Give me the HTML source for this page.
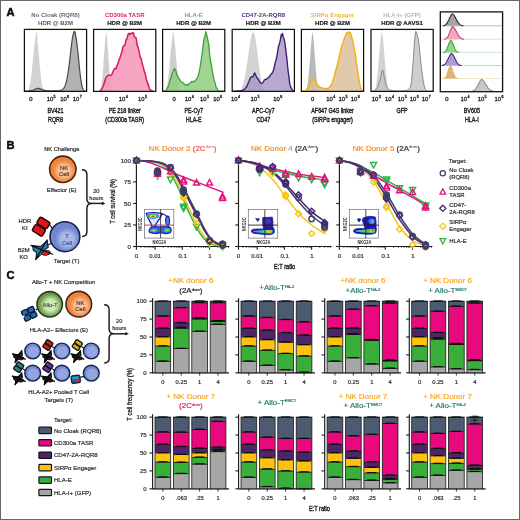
<!DOCTYPE html>
<html><head><meta charset="utf-8"><title>Figure</title>
<style>
html,body{margin:0;padding:0;background:#fff;}
body{width:520px;height:520px;overflow:hidden;}
svg{display:block;font-family:'Liberation Sans', Arial, Helvetica, sans-serif;}
</style></head><body>
<svg width="520" height="520" viewBox="0 0 520 520">
<rect x="0" y="0" width="520" height="520" fill="#fff"/>
<text x="55.50" y="16.80" font-size="6.0" fill="#5b6b80" text-anchor="middle" font-weight="bold">No Cloak (RQR8)</text>
<text x="55.50" y="24.50" font-size="6.0" fill="#555" text-anchor="middle" font-weight="bold">HDR @ B2M</text>
<clipPath id="cb0"><rect x="24.4" y="29.4" width="62.2" height="62.00000000000001"/></clipPath>
<g clip-path="url(#cb0)">
<path d="M27.4,91.1 L27.4,91.1 L27.8,91.0 L28.3,90.4 L28.7,88.9 L29.1,87.6 L29.6,86.1 L30.0,84.3 L30.4,82.1 L30.8,79.5 L31.3,75.6 L31.8,70.9 L32.3,66.0 L32.8,61.3 L33.3,56.7 L33.7,52.0 L34.2,47.6 L34.6,43.8 L35.2,38.4 L35.8,34.7 L36.1,32.5 L36.4,31.7 L36.7,32.5 L37.0,34.7 L37.4,38.4 L37.9,43.8 L38.4,49.0 L38.9,55.2 L39.4,61.3 L39.9,66.0 L40.3,70.9 L40.7,75.6 L41.1,79.5 L41.5,82.7 L42.0,85.2 L42.4,87.3 L42.8,88.9 L43.4,90.7 L44.0,91.1 L44.0,91.1 Z" fill="#d2d2d2" fill-opacity="1.0" stroke="none"/>
<path d="M24.7,91.1 L24.7,91.1 L25.1,91.1 L25.6,91.1 L26.0,91.1 L26.4,91.1 L26.8,91.1 L27.2,91.0 L27.7,91.0 L28.1,91.0 L28.5,90.9 L28.9,90.9 L29.3,90.8 L29.7,90.8 L30.1,90.7 L30.6,90.7 L31.0,90.6 L31.4,90.6 L31.8,90.5 L32.2,90.4 L32.6,90.3 L33.0,90.3 L33.5,90.2 L33.9,90.0 L34.3,89.8 L34.7,89.6 L35.1,89.3 L35.5,89.1 L35.9,88.9 L36.3,88.7 L36.7,88.5 L37.1,88.3 L37.5,88.3 L37.9,88.3 L38.3,88.3 L38.7,88.4 L39.1,88.5 L39.5,88.6 L39.9,88.7 L40.3,88.9 L40.7,89.1 L41.1,89.2 L41.5,89.3 L42.0,89.5 L42.4,89.6 L42.8,89.7 L43.2,89.8 L43.6,90.0 L44.0,90.1 L44.4,90.2 L44.9,90.3 L45.3,90.5 L45.7,90.6 L46.1,90.7 L46.5,90.8 L46.9,90.8 L47.3,90.9 L47.7,90.9 L48.1,90.9 L48.5,90.9 L48.9,90.9 L49.3,90.9 L49.8,90.9 L50.2,90.9 L50.6,90.9 L51.0,90.9 L51.4,90.9 L51.8,90.9 L52.2,90.9 L52.6,90.9 L53.0,90.9 L53.4,90.9 L53.8,90.9 L54.2,90.8 L54.6,90.8 L55.0,90.8 L55.4,90.8 L55.8,90.8 L56.2,90.8 L56.7,90.8 L57.1,90.8 L57.5,90.8 L57.9,90.8 L58.3,90.8 L58.7,90.8 L59.1,90.8 L59.6,90.7 L60.0,90.6 L60.4,90.6 L60.8,90.4 L61.2,90.2 L61.6,90.0 L62.1,89.8 L62.5,89.5 L62.9,89.2 L63.3,88.8 L63.8,88.3 L64.2,87.5 L64.6,86.7 L65.1,85.8 L65.5,84.6 L66.0,83.3 L66.4,81.5 L66.9,79.5 L67.3,77.1 L67.8,74.5 L68.2,71.6 L68.7,68.6 L69.1,65.4 L69.6,61.8 L70.0,57.8 L70.5,53.5 L70.9,49.4 L71.4,45.6 L71.8,42.5 L72.3,39.0 L72.7,36.5 L73.1,34.6 L73.6,33.1 L74.0,31.5 L74.5,31.5 L75.1,32.1 L75.6,35.1 L76.1,37.6 L76.5,40.7 L77.0,44.3 L77.4,48.1 L77.9,51.9 L78.3,55.9 L78.7,60.1 L79.1,64.4 L79.5,68.5 L79.9,72.1 L80.3,75.4 L80.7,78.4 L81.1,81.1 L81.5,83.5 L81.9,85.6 L82.3,87.2 L82.7,88.4 L83.1,89.3 L83.5,90.0 L83.9,90.6 L84.4,91.0 L84.9,91.1 L85.3,91.1 L85.8,91.1 L86.2,91.1 L86.2,91.1 Z" fill="#9f9f9f" fill-opacity="0.8" stroke="none"/>
<path d="M24.7,91.1 L25.1,91.1 L25.6,91.1 L26.0,91.1 L26.4,91.1 L26.8,91.1 L27.2,91.0 L27.7,91.0 L28.1,91.0 L28.5,90.9 L28.9,90.9 L29.3,90.8 L29.7,90.8 L30.1,90.7 L30.6,90.7 L31.0,90.6 L31.4,90.6 L31.8,90.5 L32.2,90.4 L32.6,90.3 L33.0,90.3 L33.5,90.2 L33.9,90.0 L34.3,89.8 L34.7,89.6 L35.1,89.3 L35.5,89.1 L35.9,88.9 L36.3,88.7 L36.7,88.5 L37.1,88.3 L37.5,88.3 L37.9,88.3 L38.3,88.3 L38.7,88.4 L39.1,88.5 L39.5,88.6 L39.9,88.7 L40.3,88.9 L40.7,89.1 L41.1,89.2 L41.5,89.3 L42.0,89.5 L42.4,89.6 L42.8,89.7 L43.2,89.8 L43.6,90.0 L44.0,90.1 L44.4,90.2 L44.9,90.3 L45.3,90.5 L45.7,90.6 L46.1,90.7 L46.5,90.8 L46.9,90.8 L47.3,90.9 L47.7,90.9 L48.1,90.9 L48.5,90.9 L48.9,90.9 L49.3,90.9 L49.8,90.9 L50.2,90.9 L50.6,90.9 L51.0,90.9 L51.4,90.9 L51.8,90.9 L52.2,90.9 L52.6,90.9 L53.0,90.9 L53.4,90.9 L53.8,90.9 L54.2,90.8 L54.6,90.8 L55.0,90.8 L55.4,90.8 L55.8,90.8 L56.2,90.8 L56.7,90.8 L57.1,90.8 L57.5,90.8 L57.9,90.8 L58.3,90.8 L58.7,90.8 L59.1,90.8 L59.6,90.7 L60.0,90.6 L60.4,90.6 L60.8,90.4 L61.2,90.2 L61.6,90.0 L62.1,89.8 L62.5,89.5 L62.9,89.2 L63.3,88.8 L63.8,88.3 L64.2,87.5 L64.6,86.7 L65.1,85.8 L65.5,84.6 L66.0,83.3 L66.4,81.5 L66.9,79.5 L67.3,77.1 L67.8,74.5 L68.2,71.6 L68.7,68.6 L69.1,65.4 L69.6,61.8 L70.0,57.8 L70.5,53.5 L70.9,49.4 L71.4,45.6 L71.8,42.5 L72.3,39.0 L72.7,36.5 L73.1,34.6 L73.6,33.1 L74.0,31.5 L74.5,31.5 L75.1,32.1 L75.6,35.1 L76.1,37.6 L76.5,40.7 L77.0,44.3 L77.4,48.1 L77.9,51.9 L78.3,55.9 L78.7,60.1 L79.1,64.4 L79.5,68.5 L79.9,72.1 L80.3,75.4 L80.7,78.4 L81.1,81.1 L81.5,83.5 L81.9,85.6 L82.3,87.2 L82.7,88.4 L83.1,89.3 L83.5,90.0 L83.9,90.6 L84.4,91.0 L84.9,91.1 L85.3,91.1 L85.8,91.1 L86.2,91.1" fill="none" stroke="#4a4a4a" stroke-width="1.2" stroke-linejoin="round"/>
</g>
<rect x="24.4" y="29.4" width="62.2" height="62.00000000000001" fill="none" stroke="#111" stroke-width="1.25"/>
<text x="31.00" y="100.60" font-size="5.9" fill="#222" text-anchor="middle" stroke="#222" stroke-width="0.3">0</text>
<text x="51.20" y="100.60" font-size="5.9" fill="#222" text-anchor="middle" stroke="#222" stroke-width="0.3">10<tspan dy="-2.71" dx="0.3" font-size="3.66">5</tspan></text>
<text x="64.60" y="100.60" font-size="5.9" fill="#222" text-anchor="middle" stroke="#222" stroke-width="0.3">10<tspan dy="-2.71" dx="0.3" font-size="3.66">6</tspan></text>
<text x="77.30" y="100.60" font-size="5.9" fill="#222" text-anchor="middle" stroke="#222" stroke-width="0.3">10<tspan dy="-2.71" dx="0.3" font-size="3.66">7</tspan></text>
<text x="0.00" y="0.00" font-size="7.1" fill="#2a2a2a" text-anchor="middle" transform="translate(55.50,112.60) scale(0.76,1)" stroke="#1c1c1c" stroke-width="0.4">BV421</text>
<text x="0.00" y="0.00" font-size="7.1" fill="#2a2a2a" text-anchor="middle" transform="translate(55.50,122.00) scale(0.76,1)" stroke="#1c1c1c" stroke-width="0.4">RQR8</text>
<text x="124.70" y="16.80" font-size="6.0" fill="#de1a72" text-anchor="middle" font-weight="bold">CD300a TASR</text>
<text x="124.70" y="24.50" font-size="6.0" fill="#1a1a1a" text-anchor="middle" font-weight="bold" stroke="#1a1a1a" stroke-width="0.2">HDR @ B2M</text>
<clipPath id="cb1"><rect x="93.6" y="29.4" width="62.2" height="62.00000000000001"/></clipPath>
<g clip-path="url(#cb1)">
<path d="M99.8,91.1 L99.8,91.1 L100.3,90.7 L100.8,88.9 L101.3,86.6 L101.7,83.6 L102.2,79.5 L102.7,74.1 L103.2,67.7 L103.6,61.3 L104.0,55.2 L104.5,49.0 L104.9,43.8 L105.3,38.3 L105.7,34.7 L105.9,32.8 L106.2,32.4 L106.4,32.8 L106.6,34.7 L107.0,38.3 L107.4,43.8 L107.8,49.0 L108.3,55.2 L108.7,61.3 L109.2,67.7 L109.6,74.1 L110.1,79.5 L110.6,83.6 L111.1,86.6 L111.5,88.9 L112.0,90.7 L112.5,91.1 L112.5,91.1 Z" fill="#cfcfcf" fill-opacity="1.0" stroke="none"/>
<path d="M99.2,91.1 L99.2,91.1 L100.0,91.1 L100.8,90.4 L101.7,88.8 L102.6,87.6 L103.5,85.2 L104.4,82.6 L105.3,79.5 L106.2,77.2 L107.2,76.3 L108.2,75.3 L109.2,75.1 L110.2,75.4 L111.2,75.3 L112.2,73.7 L113.2,71.0 L114.2,69.0 L115.1,68.3 L116.0,69.0 L116.9,65.7 L117.9,63.8 L118.9,60.3 L120.0,57.5 L121.0,54.5 L122.0,51.4 L123.0,46.8 L124.0,45.6 L125.0,45.0 L126.0,39.7 L127.1,38.5 L128.1,34.1 L129.1,33.3 L130.1,34.5 L131.1,33.2 L132.2,33.3 L133.3,32.8 L134.3,36.6 L135.2,37.3 L136.2,38.1 L137.1,45.0 L138.1,47.4 L139.1,51.6 L140.1,56.9 L141.2,58.6 L142.2,63.6 L143.2,66.9 L144.2,71.0 L145.2,73.6 L146.2,78.5 L147.2,82.4 L148.2,84.0 L149.2,88.4 L150.4,89.9 L151.7,90.7 L152.5,91.1 L153.3,91.1 L153.3,91.1 Z" fill="#f595b8" fill-opacity="0.85" stroke="none"/>
<path d="M99.2,91.1 L100.0,91.1 L100.8,90.4 L101.7,88.8 L102.6,87.6 L103.5,85.2 L104.4,82.6 L105.3,79.5 L106.2,77.2 L107.2,76.3 L108.2,75.3 L109.2,75.1 L110.2,75.4 L111.2,75.3 L112.2,73.7 L113.2,71.0 L114.2,69.0 L115.1,68.3 L116.0,69.0 L116.9,65.7 L117.9,63.8 L118.9,60.3 L120.0,57.5 L121.0,54.5 L122.0,51.4 L123.0,46.8 L124.0,45.6 L125.0,45.0 L126.0,39.7 L127.1,38.5 L128.1,34.1 L129.1,33.3 L130.1,34.5 L131.1,33.2 L132.2,33.3 L133.3,32.8 L134.3,36.6 L135.2,37.3 L136.2,38.1 L137.1,45.0 L138.1,47.4 L139.1,51.6 L140.1,56.9 L141.2,58.6 L142.2,63.6 L143.2,66.9 L144.2,71.0 L145.2,73.6 L146.2,78.5 L147.2,82.4 L148.2,84.0 L149.2,88.4 L150.4,89.9 L151.7,90.7 L152.5,91.1 L153.3,91.1" fill="none" stroke="#d81862" stroke-width="1.5" stroke-linejoin="round"/>
</g>
<rect x="93.6" y="29.4" width="62.2" height="62.00000000000001" fill="none" stroke="#111" stroke-width="1.25"/>
<text x="106.30" y="100.60" font-size="5.9" fill="#222" text-anchor="middle" stroke="#222" stroke-width="0.3">0</text>
<text x="123.30" y="100.60" font-size="5.9" fill="#222" text-anchor="middle" stroke="#222" stroke-width="0.3">10<tspan dy="-2.71" dx="0.3" font-size="3.66">4</tspan></text>
<text x="142.50" y="100.60" font-size="5.9" fill="#222" text-anchor="middle" stroke="#222" stroke-width="0.3">10<tspan dy="-2.71" dx="0.3" font-size="3.66">5</tspan></text>
<text x="0.00" y="0.00" font-size="7.1" fill="#2a2a2a" text-anchor="middle" transform="translate(124.70,112.60) scale(0.76,1)" stroke="#1c1c1c" stroke-width="0.4">PE 218 linker</text>
<text x="0.00" y="0.00" font-size="7.1" fill="#2a2a2a" text-anchor="middle" transform="translate(124.70,122.00) scale(0.76,1)" stroke="#1c1c1c" stroke-width="0.4">(CD300a TASR)</text>
<text x="193.70" y="16.80" font-size="6.0" fill="#5cb85c" text-anchor="middle" font-weight="bold">HLA-E</text>
<text x="193.70" y="24.50" font-size="6.0" fill="#1a1a1a" text-anchor="middle" font-weight="bold" stroke="#1a1a1a" stroke-width="0.2">HDR @ B2M</text>
<clipPath id="cb2"><rect x="162.6" y="29.4" width="62.2" height="62.00000000000001"/></clipPath>
<g clip-path="url(#cb2)">
<path d="M165.1,91.1 L165.1,91.1 L165.5,91.0 L165.9,90.4 L166.3,88.9 L166.7,87.3 L167.2,85.2 L167.7,82.7 L168.1,79.5 L168.6,75.6 L169.0,70.9 L169.5,66.0 L169.9,61.3 L170.3,56.7 L170.7,52.0 L171.2,47.6 L171.6,43.8 L172.1,38.3 L172.6,34.7 L172.9,32.8 L173.2,32.4 L173.5,32.8 L173.8,34.7 L174.3,38.3 L174.8,43.8 L175.2,47.6 L175.6,52.0 L176.0,56.7 L176.4,61.3 L176.9,66.0 L177.3,70.9 L177.8,75.6 L178.2,79.5 L178.7,82.7 L179.2,85.2 L179.6,87.3 L180.1,88.9 L180.5,90.4 L180.9,91.0 L181.3,91.1 L181.3,91.1 Z" fill="#cfcfcf" fill-opacity="1.0" stroke="none"/>
<path d="M163.0,91.1 L163.0,91.1 L164.2,91.1 L165.4,91.0 L166.3,90.1 L167.2,88.2 L168.1,86.9 L169.2,83.6 L170.3,79.9 L171.4,76.1 L172.5,72.8 L173.5,70.8 L174.1,68.6 L174.8,68.8 L175.8,70.8 L176.8,74.6 L177.7,76.4 L178.6,78.5 L179.5,79.1 L180.6,81.5 L181.8,82.2 L182.9,82.6 L183.9,83.4 L184.9,84.9 L185.9,85.1 L186.9,84.5 L187.9,85.3 L188.9,83.5 L190.0,83.0 L191.0,82.4 L192.0,81.1 L193.0,81.9 L194.0,82.0 L195.0,80.7 L196.1,79.8 L197.2,78.1 L198.4,75.2 L199.4,70.9 L200.4,65.4 L201.3,59.1 L202.2,53.2 L203.1,46.1 L204.1,38.4 L205.1,35.9 L205.8,31.6 L206.4,34.2 L207.1,36.3 L207.8,39.8 L208.8,45.3 L209.8,55.8 L210.7,61.6 L211.6,66.3 L212.5,71.4 L213.4,77.1 L214.3,80.8 L215.2,83.4 L216.1,87.1 L217.0,88.5 L217.9,90.3 L218.9,91.1 L219.9,91.1 L220.8,91.1 L221.7,91.1 L222.6,91.1 L223.5,91.1 L224.4,91.1 L225.3,91.1 L225.3,91.1 Z" fill="#8fcc80" fill-opacity="0.85" stroke="none"/>
<path d="M163.0,91.1 L164.2,91.1 L165.4,91.0 L166.3,90.1 L167.2,88.2 L168.1,86.9 L169.2,83.6 L170.3,79.9 L171.4,76.1 L172.5,72.8 L173.5,70.8 L174.1,68.6 L174.8,68.8 L175.8,70.8 L176.8,74.6 L177.7,76.4 L178.6,78.5 L179.5,79.1 L180.6,81.5 L181.8,82.2 L182.9,82.6 L183.9,83.4 L184.9,84.9 L185.9,85.1 L186.9,84.5 L187.9,85.3 L188.9,83.5 L190.0,83.0 L191.0,82.4 L192.0,81.1 L193.0,81.9 L194.0,82.0 L195.0,80.7 L196.1,79.8 L197.2,78.1 L198.4,75.2 L199.4,70.9 L200.4,65.4 L201.3,59.1 L202.2,53.2 L203.1,46.1 L204.1,38.4 L205.1,35.9 L205.8,31.6 L206.4,34.2 L207.1,36.3 L207.8,39.8 L208.8,45.3 L209.8,55.8 L210.7,61.6 L211.6,66.3 L212.5,71.4 L213.4,77.1 L214.3,80.8 L215.2,83.4 L216.1,87.1 L217.0,88.5 L217.9,90.3 L218.9,91.1 L219.9,91.1 L220.8,91.1 L221.7,91.1 L222.6,91.1 L223.5,91.1 L224.4,91.1 L225.3,91.1" fill="none" stroke="#3f9e3a" stroke-width="1.3" stroke-linejoin="round"/>
</g>
<rect x="162.6" y="29.4" width="62.2" height="62.00000000000001" fill="none" stroke="#111" stroke-width="1.25"/>
<text x="174.20" y="100.60" font-size="5.9" fill="#222" text-anchor="middle" stroke="#222" stroke-width="0.3">0</text>
<text x="189.30" y="100.60" font-size="5.9" fill="#222" text-anchor="middle" stroke="#222" stroke-width="0.3">10<tspan dy="-2.71" dx="0.3" font-size="3.66">4</tspan></text>
<text x="204.50" y="100.60" font-size="5.9" fill="#222" text-anchor="middle" stroke="#222" stroke-width="0.3">10<tspan dy="-2.71" dx="0.3" font-size="3.66">5</tspan></text>
<text x="217.70" y="100.60" font-size="5.9" fill="#222" text-anchor="middle" stroke="#222" stroke-width="0.3">10<tspan dy="-2.71" dx="0.3" font-size="3.66">6</tspan></text>
<text x="0.00" y="0.00" font-size="7.1" fill="#2a2a2a" text-anchor="middle" transform="translate(193.70,112.60) scale(0.76,1)" stroke="#1c1c1c" stroke-width="0.4">PE-Cy7</text>
<text x="0.00" y="0.00" font-size="7.1" fill="#2a2a2a" text-anchor="middle" transform="translate(193.70,122.00) scale(0.76,1)" stroke="#1c1c1c" stroke-width="0.4">HLA-E</text>
<text x="263.30" y="16.80" font-size="6.0" fill="#5a2d91" text-anchor="middle" font-weight="bold">CD47-2A-RQR8</text>
<text x="263.30" y="24.50" font-size="6.0" fill="#1a1a1a" text-anchor="middle" font-weight="bold" stroke="#1a1a1a" stroke-width="0.2">HDR @ B2M</text>
<clipPath id="cb3"><rect x="232.2" y="29.4" width="62.2" height="62.00000000000001"/></clipPath>
<g clip-path="url(#cb3)">
<path d="M239.7,91.1 L239.7,91.1 L240.1,91.1 L240.6,90.9 L241.0,90.5 L241.4,89.9 L241.8,88.9 L242.2,88.0 L242.7,87.0 L243.1,85.9 L243.6,84.5 L244.0,83.1 L244.4,81.4 L244.9,79.5 L245.3,77.4 L245.7,74.9 L246.2,72.3 L246.6,69.5 L247.0,66.7 L247.5,64.0 L247.9,61.3 L248.3,58.3 L248.8,55.2 L249.2,52.0 L249.7,49.0 L250.1,46.3 L250.6,43.8 L251.0,40.8 L251.5,38.3 L251.9,36.3 L252.4,34.7 L252.8,33.1 L253.3,32.8 L253.7,33.1 L254.1,34.7 L254.6,36.9 L255.1,39.9 L255.6,43.8 L256.1,46.8 L256.5,50.2 L257.0,53.9 L257.4,57.7 L257.9,61.3 L258.3,64.4 L258.7,67.7 L259.2,70.9 L259.6,74.1 L260.0,77.0 L260.4,79.5 L260.9,81.7 L261.3,83.6 L261.7,85.2 L262.2,86.6 L262.6,87.9 L263.0,88.9 L263.5,90.1 L263.9,90.7 L264.3,91.1 L264.8,91.1 L264.8,91.1 Z" fill="#d4d4d4" fill-opacity="1.0" stroke="none"/>
<path d="M239.7,91.1 L240.1,91.1 L240.6,90.9 L241.0,90.5 L241.4,89.9 L241.8,88.9 L242.2,88.0 L242.7,87.0 L243.1,85.9 L243.6,84.5 L244.0,83.1 L244.4,81.4 L244.9,79.5 L245.3,77.4 L245.7,74.9 L246.2,72.3 L246.6,69.5 L247.0,66.7 L247.5,64.0 L247.9,61.3 L248.3,58.3 L248.8,55.2 L249.2,52.0 L249.7,49.0 L250.1,46.3 L250.6,43.8 L251.0,40.8 L251.5,38.3 L251.9,36.3 L252.4,34.7 L252.8,33.1 L253.3,32.8 L253.7,33.1 L254.1,34.7 L254.6,36.9 L255.1,39.9 L255.6,43.8 L256.1,46.8 L256.5,50.2 L257.0,53.9 L257.4,57.7 L257.9,61.3 L258.3,64.4 L258.7,67.7 L259.2,70.9 L259.6,74.1 L260.0,77.0 L260.4,79.5 L260.9,81.7 L261.3,83.6 L261.7,85.2 L262.2,86.6 L262.6,87.9 L263.0,88.9 L263.5,90.1 L263.9,90.7 L264.3,91.1 L264.8,91.1" fill="none" stroke="#bdbdbd" stroke-width="0.6" stroke-linejoin="round"/>
<path d="M232.7,91.1 L232.7,91.1 L233.8,91.1 L235.0,91.1 L236.1,91.1 L237.0,91.0 L238.0,91.0 L239.0,91.0 L239.9,90.9 L240.9,90.8 L241.8,90.6 L242.8,90.3 L243.8,89.6 L244.8,89.1 L245.8,87.5 L246.8,86.5 L248.0,83.4 L249.1,81.3 L250.2,78.1 L251.1,77.0 L252.0,76.9 L252.9,76.9 L253.8,74.6 L254.7,72.9 L255.5,74.7 L256.3,76.5 L257.4,78.6 L258.5,79.6 L259.6,81.7 L260.5,83.1 L261.4,83.2 L262.3,83.1 L263.3,82.0 L264.3,80.1 L265.4,79.4 L266.4,79.3 L267.4,78.2 L268.4,77.4 L269.4,76.9 L270.4,74.7 L271.4,74.0 L272.4,72.7 L273.3,70.9 L274.2,67.8 L275.1,62.9 L276.2,59.5 L277.4,53.3 L278.5,46.0 L279.4,43.8 L280.3,40.4 L281.2,34.7 L281.8,35.7 L282.5,33.5 L283.2,36.5 L283.9,38.4 L284.9,42.8 L285.9,50.9 L286.9,58.8 L287.9,69.3 L288.9,76.7 L289.9,84.8 L290.9,87.4 L291.9,89.6 L293.1,90.8 L294.2,91.1 L294.2,91.1 Z" fill="#a892c4" fill-opacity="0.8" stroke="none"/>
<path d="M232.7,91.1 L233.8,91.1 L235.0,91.1 L236.1,91.1 L237.0,91.0 L238.0,91.0 L239.0,91.0 L239.9,90.9 L240.9,90.8 L241.8,90.6 L242.8,90.3 L243.8,89.6 L244.8,89.1 L245.8,87.5 L246.8,86.5 L248.0,83.4 L249.1,81.3 L250.2,78.1 L251.1,77.0 L252.0,76.9 L252.9,76.9 L253.8,74.6 L254.7,72.9 L255.5,74.7 L256.3,76.5 L257.4,78.6 L258.5,79.6 L259.6,81.7 L260.5,83.1 L261.4,83.2 L262.3,83.1 L263.3,82.0 L264.3,80.1 L265.4,79.4 L266.4,79.3 L267.4,78.2 L268.4,77.4 L269.4,76.9 L270.4,74.7 L271.4,74.0 L272.4,72.7 L273.3,70.9 L274.2,67.8 L275.1,62.9 L276.2,59.5 L277.4,53.3 L278.5,46.0 L279.4,43.8 L280.3,40.4 L281.2,34.7 L281.8,35.7 L282.5,33.5 L283.2,36.5 L283.9,38.4 L284.9,42.8 L285.9,50.9 L286.9,58.8 L287.9,69.3 L288.9,76.7 L289.9,84.8 L290.9,87.4 L291.9,89.6 L293.1,90.8 L294.2,91.1" fill="none" stroke="#3f2278" stroke-width="1.4" stroke-linejoin="round"/>
</g>
<rect x="232.2" y="29.4" width="62.2" height="62.00000000000001" fill="none" stroke="#111" stroke-width="1.25"/>
<text x="235.50" y="100.60" font-size="5.9" fill="#222" text-anchor="middle" stroke="#222" stroke-width="0.3">10<tspan dy="-2.71" dx="0.3" font-size="3.66">4</tspan></text>
<text x="255.00" y="100.60" font-size="5.9" fill="#222" text-anchor="middle" stroke="#222" stroke-width="0.3">10<tspan dy="-2.71" dx="0.3" font-size="3.66">5</tspan></text>
<text x="277.80" y="100.60" font-size="5.9" fill="#222" text-anchor="middle" stroke="#222" stroke-width="0.3">10<tspan dy="-2.71" dx="0.3" font-size="3.66">6</tspan></text>
<text x="0.00" y="0.00" font-size="7.1" fill="#2a2a2a" text-anchor="middle" transform="translate(263.30,112.60) scale(0.76,1)" stroke="#1c1c1c" stroke-width="0.4">APC-Cy7</text>
<text x="0.00" y="0.00" font-size="7.1" fill="#2a2a2a" text-anchor="middle" transform="translate(263.30,122.00) scale(0.76,1)" stroke="#1c1c1c" stroke-width="0.4">CD47</text>
<text x="332.50" y="16.80" font-size="6.0" fill="#f2b62a" text-anchor="middle" font-weight="bold">SIRPα Engager</text>
<text x="332.50" y="24.50" font-size="6.0" fill="#1a1a1a" text-anchor="middle" font-weight="bold" stroke="#1a1a1a" stroke-width="0.2">HDR @ B2M</text>
<clipPath id="cb4"><rect x="301.4" y="29.4" width="62.2" height="62.00000000000001"/></clipPath>
<g clip-path="url(#cb4)">
<path d="M305.6,91.1 L305.6,91.1 L306.1,90.7 L306.6,88.9 L307.2,86.6 L307.7,83.6 L308.2,79.5 L308.7,74.1 L309.3,67.7 L309.8,61.3 L310.2,55.2 L310.7,49.0 L311.2,43.8 L311.6,38.3 L312.1,34.7 L312.3,32.8 L312.5,32.4 L312.8,32.8 L313.0,34.7 L313.4,38.3 L313.9,43.8 L314.3,49.0 L314.7,55.2 L315.2,61.3 L315.7,67.7 L316.2,74.1 L316.7,79.5 L317.2,83.6 L317.7,86.6 L318.2,88.9 L318.7,90.7 L319.2,91.1 L319.2,91.1 Z" fill="#b8b8b8" fill-opacity="1.0" stroke="none"/>
<path d="M302.0,91.1 L302.0,91.1 L303.2,91.1 L304.3,91.1 L305.4,91.0 L306.5,90.0 L307.6,88.5 L308.8,87.2 L309.9,84.7 L311.0,82.0 L312.1,80.0 L313.1,78.8 L314.2,78.8 L315.2,80.6 L316.2,82.7 L317.3,84.5 L318.4,85.9 L319.5,87.1 L320.5,87.6 L321.4,87.8 L322.4,88.0 L323.3,88.3 L324.2,88.5 L325.3,88.7 L326.3,88.6 L327.3,88.6 L328.3,88.4 L329.4,87.5 L330.5,86.1 L331.7,84.2 L332.8,81.0 L333.9,77.4 L335.0,73.3 L336.1,69.3 L337.3,65.0 L338.4,60.2 L339.5,55.7 L340.6,51.0 L341.8,46.1 L342.9,43.0 L344.0,39.5 L345.1,36.8 L346.0,34.6 L346.9,32.7 L347.8,32.5 L348.5,31.9 L349.2,32.4 L350.2,32.7 L351.2,35.4 L352.1,38.7 L353.0,42.4 L353.9,47.2 L354.8,52.2 L355.7,57.9 L356.6,63.8 L357.5,70.0 L358.4,76.5 L359.2,81.6 L360.3,86.5 L361.3,89.6 L362.1,90.9 L362.9,91.1 L362.9,91.1 Z" fill="#dcbf9e" fill-opacity="0.85" stroke="none"/>
<path d="M302.0,91.1 L303.2,91.1 L304.3,91.1 L305.4,91.0 L306.5,90.0 L307.6,88.5 L308.8,87.2 L309.9,84.7 L311.0,82.0 L312.1,80.0 L313.1,78.8 L314.2,78.8 L315.2,80.6 L316.2,82.7 L317.3,84.5 L318.4,85.9 L319.5,87.1 L320.5,87.6 L321.4,87.8 L322.4,88.0 L323.3,88.3 L324.2,88.5 L325.3,88.7 L326.3,88.6 L327.3,88.6 L328.3,88.4 L329.4,87.5 L330.5,86.1 L331.7,84.2 L332.8,81.0 L333.9,77.4 L335.0,73.3 L336.1,69.3 L337.3,65.0 L338.4,60.2 L339.5,55.7 L340.6,51.0 L341.8,46.1 L342.9,43.0 L344.0,39.5 L345.1,36.8 L346.0,34.6 L346.9,32.7 L347.8,32.5 L348.5,31.9 L349.2,32.4 L350.2,32.7 L351.2,35.4 L352.1,38.7 L353.0,42.4 L353.9,47.2 L354.8,52.2 L355.7,57.9 L356.6,63.8 L357.5,70.0 L358.4,76.5 L359.2,81.6 L360.3,86.5 L361.3,89.6 L362.1,90.9 L362.9,91.1" fill="none" stroke="#f0b323" stroke-width="1.6" stroke-linejoin="round"/>
</g>
<rect x="301.4" y="29.4" width="62.2" height="62.00000000000001" fill="none" stroke="#111" stroke-width="1.25"/>
<text x="312.60" y="100.60" font-size="5.9" fill="#222" text-anchor="middle" stroke="#222" stroke-width="0.3">0</text>
<text x="330.80" y="100.60" font-size="5.9" fill="#222" text-anchor="middle" stroke="#222" stroke-width="0.3">10<tspan dy="-2.71" dx="0.3" font-size="3.66">4</tspan></text>
<text x="343.00" y="100.60" font-size="5.9" fill="#222" text-anchor="middle" stroke="#222" stroke-width="0.3">10<tspan dy="-2.71" dx="0.3" font-size="3.66">5</tspan></text>
<text x="355.30" y="100.60" font-size="5.9" fill="#222" text-anchor="middle" stroke="#222" stroke-width="0.3">10<tspan dy="-2.71" dx="0.3" font-size="3.66">6</tspan></text>
<text x="0.00" y="0.00" font-size="7.1" fill="#2a2a2a" text-anchor="middle" transform="translate(332.50,112.60) scale(0.76,1)" stroke="#1c1c1c" stroke-width="0.4">AF647 G4S linker</text>
<text x="0.00" y="0.00" font-size="7.1" fill="#2a2a2a" text-anchor="middle" transform="translate(332.50,122.00) scale(0.76,1)" stroke="#1c1c1c" stroke-width="0.4">(SIRPα engager)</text>
<text x="402.10" y="16.80" font-size="6.0" fill="#b5b5b5" text-anchor="middle" font-weight="bold">HLA-I+ (GFP)</text>
<text x="402.10" y="24.50" font-size="6.0" fill="#1a1a1a" text-anchor="middle" font-weight="bold" stroke="#1a1a1a" stroke-width="0.2">HDR @ AAVS1</text>
<clipPath id="cb5"><rect x="371.0" y="29.4" width="62.2" height="62.00000000000001"/></clipPath>
<g clip-path="url(#cb5)">
<path d="M374.0,91.1 L374.0,91.1 L374.6,90.7 L375.1,88.9 L375.6,87.3 L376.0,85.2 L376.5,82.7 L376.9,79.5 L377.4,75.6 L377.8,70.9 L378.2,66.0 L378.7,61.3 L379.2,55.2 L379.7,49.0 L380.2,43.8 L380.7,38.3 L381.3,34.7 L381.5,32.8 L381.8,32.4 L382.1,32.8 L382.4,34.7 L382.9,38.3 L383.4,43.8 L383.9,49.0 L384.4,55.2 L384.9,61.3 L385.4,66.0 L385.8,70.9 L386.2,75.6 L386.7,79.5 L387.1,82.7 L387.6,85.2 L388.0,87.3 L388.5,88.9 L389.1,90.7 L389.6,91.1 L389.6,91.1 Z" fill="#d2d2d2" fill-opacity="1.0" stroke="none"/>
<path d="M371.7,91.1 L371.7,91.1 L372.2,91.1 L372.6,91.1 L373.1,91.0 L373.5,90.8 L373.9,90.7 L374.3,90.5 L374.7,90.4 L375.1,90.2 L375.5,89.9 L375.9,89.6 L376.3,89.3 L376.7,88.8 L377.1,88.3 L377.5,87.4 L377.9,86.4 L378.4,85.2 L378.8,83.9 L379.2,82.6 L379.6,81.3 L380.0,80.0 L380.5,78.8 L380.9,76.8 L381.3,74.7 L381.7,72.6 L382.1,71.0 L382.5,70.1 L382.9,70.5 L383.4,72.4 L383.8,74.8 L384.2,76.5 L384.6,78.4 L385.0,80.5 L385.4,82.5 L385.8,84.2 L386.3,85.4 L386.7,86.5 L387.2,87.4 L387.6,88.3 L388.1,89.0 L388.5,89.6 L389.0,89.8 L389.4,90.0 L389.8,90.2 L390.2,90.3 L390.6,90.4 L391.0,90.5 L391.4,90.5 L391.9,90.6 L392.3,90.6 L392.7,90.6 L393.1,90.6 L393.5,90.7 L393.9,90.7 L394.3,90.7 L394.8,90.7 L395.2,90.8 L395.6,90.8 L396.0,90.8 L396.4,90.8 L396.8,90.8 L397.2,90.8 L397.7,90.8 L398.1,90.9 L398.5,90.9 L398.9,90.9 L399.3,90.9 L399.7,90.9 L400.1,90.9 L400.6,90.9 L401.0,90.9 L401.4,90.9 L401.8,90.8 L402.2,90.8 L402.6,90.8 L403.0,90.8 L403.4,90.8 L403.9,90.8 L404.3,90.7 L404.7,90.7 L405.1,90.6 L405.5,90.6 L406.0,90.5 L406.4,90.4 L406.8,90.3 L407.3,90.2 L407.7,90.1 L408.1,89.9 L408.5,89.6 L409.0,89.3 L409.4,88.9 L409.8,88.1 L410.2,87.1 L410.6,85.9 L411.0,84.1 L411.4,81.5 L411.8,77.9 L412.2,73.4 L412.6,68.4 L413.0,63.3 L413.4,58.7 L413.9,51.2 L414.3,44.1 L414.8,38.5 L415.3,33.4 L415.7,31.5 L416.2,31.7 L416.6,32.8 L417.0,34.3 L417.5,35.8 L417.9,37.3 L418.4,39.2 L418.8,42.5 L419.2,45.7 L419.6,49.8 L420.0,54.3 L420.4,58.7 L420.8,62.7 L421.2,66.3 L421.7,69.8 L422.1,73.1 L422.5,76.1 L422.9,78.8 L423.3,81.3 L423.7,83.4 L424.1,85.3 L424.5,86.9 L424.9,88.3 L425.3,89.3 L425.7,89.9 L426.1,90.3 L426.5,90.6 L426.9,90.8 L427.3,90.9 L427.7,91.0 L428.2,91.1 L428.6,91.1 L429.0,91.1 L429.4,91.1 L429.9,91.1 L430.3,91.1 L430.7,91.1 L431.1,91.1 L431.5,91.1 L432.0,91.1 L432.4,91.1 L432.8,91.1 L433.2,91.1 L433.2,91.1 Z" fill="#c6c6c6" fill-opacity="0.85" stroke="none"/>
<path d="M371.7,91.1 L372.2,91.1 L372.6,91.1 L373.1,91.0 L373.5,90.8 L373.9,90.7 L374.3,90.5 L374.7,90.4 L375.1,90.2 L375.5,89.9 L375.9,89.6 L376.3,89.3 L376.7,88.8 L377.1,88.3 L377.5,87.4 L377.9,86.4 L378.4,85.2 L378.8,83.9 L379.2,82.6 L379.6,81.3 L380.0,80.0 L380.5,78.8 L380.9,76.8 L381.3,74.7 L381.7,72.6 L382.1,71.0 L382.5,70.1 L382.9,70.5 L383.4,72.4 L383.8,74.8 L384.2,76.5 L384.6,78.4 L385.0,80.5 L385.4,82.5 L385.8,84.2 L386.3,85.4 L386.7,86.5 L387.2,87.4 L387.6,88.3 L388.1,89.0 L388.5,89.6 L389.0,89.8 L389.4,90.0 L389.8,90.2 L390.2,90.3 L390.6,90.4 L391.0,90.5 L391.4,90.5 L391.9,90.6 L392.3,90.6 L392.7,90.6 L393.1,90.6 L393.5,90.7 L393.9,90.7 L394.3,90.7 L394.8,90.7 L395.2,90.8 L395.6,90.8 L396.0,90.8 L396.4,90.8 L396.8,90.8 L397.2,90.8 L397.7,90.8 L398.1,90.9 L398.5,90.9 L398.9,90.9 L399.3,90.9 L399.7,90.9 L400.1,90.9 L400.6,90.9 L401.0,90.9 L401.4,90.9 L401.8,90.8 L402.2,90.8 L402.6,90.8 L403.0,90.8 L403.4,90.8 L403.9,90.8 L404.3,90.7 L404.7,90.7 L405.1,90.6 L405.5,90.6 L406.0,90.5 L406.4,90.4 L406.8,90.3 L407.3,90.2 L407.7,90.1 L408.1,89.9 L408.5,89.6 L409.0,89.3 L409.4,88.9 L409.8,88.1 L410.2,87.1 L410.6,85.9 L411.0,84.1 L411.4,81.5 L411.8,77.9 L412.2,73.4 L412.6,68.4 L413.0,63.3 L413.4,58.7 L413.9,51.2 L414.3,44.1 L414.8,38.5 L415.3,33.4 L415.7,31.5 L416.2,31.7 L416.6,32.8 L417.0,34.3 L417.5,35.8 L417.9,37.3 L418.4,39.2 L418.8,42.5 L419.2,45.7 L419.6,49.8 L420.0,54.3 L420.4,58.7 L420.8,62.7 L421.2,66.3 L421.7,69.8 L422.1,73.1 L422.5,76.1 L422.9,78.8 L423.3,81.3 L423.7,83.4 L424.1,85.3 L424.5,86.9 L424.9,88.3 L425.3,89.3 L425.7,89.9 L426.1,90.3 L426.5,90.6 L426.9,90.8 L427.3,90.9 L427.7,91.0 L428.2,91.1 L428.6,91.1 L429.0,91.1 L429.4,91.1 L429.9,91.1 L430.3,91.1 L430.7,91.1 L431.1,91.1 L431.5,91.1 L432.0,91.1 L432.4,91.1 L432.8,91.1 L433.2,91.1" fill="none" stroke="#868686" stroke-width="1.0" stroke-linejoin="round"/>
</g>
<rect x="371.0" y="29.4" width="62.2" height="62.00000000000001" fill="none" stroke="#111" stroke-width="1.25"/>
<text x="376.30" y="100.60" font-size="5.9" fill="#222" text-anchor="middle" stroke="#222" stroke-width="0.3">10<tspan dy="-2.71" dx="0.3" font-size="3.66">3</tspan></text>
<text x="389.50" y="100.60" font-size="5.9" fill="#222" text-anchor="middle" stroke="#222" stroke-width="0.3">10<tspan dy="-2.71" dx="0.3" font-size="3.66">4</tspan></text>
<text x="402.30" y="100.60" font-size="5.9" fill="#222" text-anchor="middle" stroke="#222" stroke-width="0.3">10<tspan dy="-2.71" dx="0.3" font-size="3.66">5</tspan></text>
<text x="414.30" y="100.60" font-size="5.9" fill="#222" text-anchor="middle" stroke="#222" stroke-width="0.3">10<tspan dy="-2.71" dx="0.3" font-size="3.66">6</tspan></text>
<text x="426.30" y="100.60" font-size="5.9" fill="#222" text-anchor="middle" stroke="#222" stroke-width="0.3">10<tspan dy="-2.71" dx="0.3" font-size="3.66">7</tspan></text>
<text x="0.00" y="0.00" font-size="7.1" fill="#2a2a2a" text-anchor="middle" transform="translate(402.10,112.60) scale(0.76,1)" stroke="#1c1c1c" stroke-width="0.4">GFP</text>
<line x1="440.3" y1="25.8" x2="502.6" y2="25.8" stroke="#8a8a8a" stroke-width="0.6"/>
<path d="M442.9,25.8 L443.4,25.7 L443.8,25.7 L444.3,25.6 L444.8,25.3 L445.2,25.1 L445.6,24.7 L446.1,24.4 L446.5,23.9 L446.9,23.4 L447.4,22.6 L447.8,21.7 L448.3,20.8 L448.8,19.9 L449.2,18.9 L449.6,18.0 L450.1,17.1 L450.5,16.3 L450.9,15.5 L451.3,14.8 L451.7,14.4 L452.1,14.0 L452.4,13.9 L452.8,14.0 L453.2,14.4 L453.6,14.8 L454.1,15.5 L454.6,16.3 L455.1,17.1 L455.6,18.0 L456.1,18.9 L456.6,19.9 L457.0,20.6 L457.5,21.4 L457.9,22.1 L458.3,22.8 L458.8,23.4 L459.2,23.9 L459.6,24.2 L460.0,24.6 L460.4,24.9 L460.8,25.1 L461.2,25.3 L461.6,25.5 L462.1,25.6 L462.5,25.7 L463.0,25.8 L463.4,25.8 Z" fill="#a4a4a4" stroke="none"/>
<path d="M442.9,25.8 L443.4,25.7 L443.8,25.7 L444.3,25.6 L444.8,25.3 L445.2,25.1 L445.6,24.7 L446.1,24.4 L446.5,23.9 L446.9,23.4 L447.4,22.6 L447.8,21.7 L448.3,20.8 L448.8,19.9 L449.2,18.9 L449.6,18.0 L450.1,17.1 L450.5,16.3 L450.9,15.5 L451.3,14.8 L451.7,14.4 L452.1,14.0 L452.4,13.9 L452.8,14.0 L453.2,14.4 L453.6,14.8 L454.1,15.5 L454.6,16.3 L455.1,17.1 L455.6,18.0 L456.1,18.9 L456.6,19.9 L457.0,20.6 L457.5,21.4 L457.9,22.1 L458.3,22.8 L458.8,23.4 L459.2,23.9 L459.6,24.2 L460.0,24.6 L460.4,24.9 L460.8,25.1 L461.2,25.3 L461.6,25.5 L462.1,25.6 L462.5,25.7 L463.0,25.8 L463.4,25.8" fill="none" stroke="#222" stroke-width="1.05" stroke-linejoin="round"/>
<line x1="440.3" y1="39.2" x2="502.6" y2="39.2" stroke="#e9b6c8" stroke-width="0.6"/>
<path d="M444.2,39.2 L444.6,39.1 L445.0,39.1 L445.5,38.9 L445.9,38.7 L446.4,38.3 L446.8,37.9 L447.3,37.3 L447.8,36.7 L448.2,35.9 L448.6,34.9 L449.0,33.9 L449.5,32.9 L450.0,31.6 L450.5,30.2 L451.0,29.1 L451.6,27.9 L452.1,27.1 L452.4,26.7 L452.7,26.6 L453.1,26.7 L453.5,27.1 L454.0,27.6 L454.5,28.3 L455.0,29.1 L455.4,29.8 L455.8,30.5 L456.2,31.3 L456.7,32.1 L457.1,32.9 L457.5,33.7 L458.0,34.5 L458.4,35.3 L458.9,36.0 L459.4,36.7 L459.8,37.1 L460.2,37.5 L460.6,37.9 L461.1,38.2 L461.5,38.5 L461.9,38.7 L462.4,38.9 L462.8,39.0 L463.3,39.1 L463.7,39.2 L464.2,39.2 Z" fill="#f3a8bf" stroke="none"/>
<path d="M444.2,39.2 L444.6,39.1 L445.0,39.1 L445.5,38.9 L445.9,38.7 L446.4,38.3 L446.8,37.9 L447.3,37.3 L447.8,36.7 L448.2,35.9 L448.6,34.9 L449.0,33.9 L449.5,32.9 L450.0,31.6 L450.5,30.2 L451.0,29.1 L451.6,27.9 L452.1,27.1 L452.4,26.7 L452.7,26.6 L453.1,26.7 L453.5,27.1 L454.0,27.6 L454.5,28.3 L455.0,29.1 L455.4,29.8 L455.8,30.5 L456.2,31.3 L456.7,32.1 L457.1,32.9 L457.5,33.7 L458.0,34.5 L458.4,35.3 L458.9,36.0 L459.4,36.7 L459.8,37.1 L460.2,37.5 L460.6,37.9 L461.1,38.2 L461.5,38.5 L461.9,38.7 L462.4,38.9 L462.8,39.0 L463.3,39.1 L463.7,39.2 L464.2,39.2" fill="none" stroke="#cc3c6c" stroke-width="1.05" stroke-linejoin="round"/>
<line x1="440.3" y1="52.4" x2="502.6" y2="52.4" stroke="#a8d8a8" stroke-width="0.6"/>
<path d="M443.3,52.4 L443.8,52.3 L444.3,52.2 L444.8,51.9 L445.2,51.6 L445.6,51.1 L446.0,50.6 L446.4,50.0 L446.9,48.9 L447.4,47.6 L447.9,46.3 L448.4,45.0 L448.9,43.7 L449.3,42.6 L449.8,41.5 L450.3,40.7 L450.5,40.3 L450.8,40.2 L451.1,40.3 L451.4,40.7 L451.9,41.5 L452.4,42.6 L452.9,43.7 L453.4,45.0 L453.8,46.3 L454.4,47.6 L454.9,48.9 L455.4,50.0 L455.9,50.6 L456.3,51.1 L456.8,51.6 L457.2,51.9 L457.6,52.1 L458.0,52.3 L458.4,52.3 L458.8,52.4 Z" fill="#94d490" stroke="none"/>
<path d="M443.3,52.4 L443.8,52.3 L444.3,52.2 L444.8,51.9 L445.2,51.6 L445.6,51.1 L446.0,50.6 L446.4,50.0 L446.9,48.9 L447.4,47.6 L447.9,46.3 L448.4,45.0 L448.9,43.7 L449.3,42.6 L449.8,41.5 L450.3,40.7 L450.5,40.3 L450.8,40.2 L451.1,40.3 L451.4,40.7 L451.9,41.5 L452.4,42.6 L452.9,43.7 L453.4,45.0 L453.8,46.3 L454.4,47.6 L454.9,48.9 L455.4,50.0 L455.9,50.6 L456.3,51.1 L456.8,51.6 L457.2,51.9 L457.6,52.1 L458.0,52.3 L458.4,52.3 L458.8,52.4" fill="none" stroke="#3b9e3b" stroke-width="1.05" stroke-linejoin="round"/>
<line x1="440.3" y1="65.5" x2="502.6" y2="65.5" stroke="#b8a6d8" stroke-width="0.6"/>
<path d="M441.6,65.5 L442.0,65.5 L442.4,65.4 L442.8,65.3 L443.2,65.2 L443.6,65.0 L444.0,64.8 L444.5,64.4 L444.9,64.1 L445.4,63.6 L445.8,63.1 L446.2,62.5 L446.6,61.8 L447.0,61.0 L447.4,60.2 L447.8,59.5 L448.2,58.6 L448.7,57.6 L449.2,56.7 L449.6,55.9 L450.0,55.1 L450.5,54.5 L450.9,54.0 L451.2,53.6 L451.6,53.5 L452.0,53.6 L452.3,54.0 L452.7,54.5 L453.2,55.1 L453.6,55.9 L454.1,56.7 L454.5,57.6 L455.0,58.6 L455.4,59.5 L455.8,60.2 L456.2,61.0 L456.6,61.8 L457.0,62.5 L457.4,63.1 L457.8,63.6 L458.3,64.1 L458.7,64.4 L459.2,64.8 L459.6,65.0 L460.0,65.2 L460.4,65.3 L460.8,65.4 L461.2,65.5 L461.6,65.5 Z" fill="#b09ad2" stroke="none"/>
<path d="M441.6,65.5 L442.0,65.5 L442.4,65.4 L442.8,65.3 L443.2,65.2 L443.6,65.0 L444.0,64.8 L444.5,64.4 L444.9,64.1 L445.4,63.6 L445.8,63.1 L446.2,62.5 L446.6,61.8 L447.0,61.0 L447.4,60.2 L447.8,59.5 L448.2,58.6 L448.7,57.6 L449.2,56.7 L449.6,55.9 L450.0,55.1 L450.5,54.5 L450.9,54.0 L451.2,53.6 L451.6,53.5 L452.0,53.6 L452.3,54.0 L452.7,54.5 L453.2,55.1 L453.6,55.9 L454.1,56.7 L454.5,57.6 L455.0,58.6 L455.4,59.5 L455.8,60.2 L456.2,61.0 L456.6,61.8 L457.0,62.5 L457.4,63.1 L457.8,63.6 L458.3,64.1 L458.7,64.4 L459.2,64.8 L459.6,65.0 L460.0,65.2 L460.4,65.3 L460.8,65.4 L461.2,65.5 L461.6,65.5" fill="none" stroke="#3f2278" stroke-width="1.05" stroke-linejoin="round"/>
<line x1="440.3" y1="78.5" x2="502.6" y2="78.5" stroke="#ecd6b0" stroke-width="0.6"/>
<path d="M443.6,78.5 L444.1,78.4 L444.5,78.3 L445.0,78.0 L445.5,77.5 L446.0,76.8 L446.5,76.0 L446.9,74.8 L447.4,73.5 L447.8,72.2 L448.2,70.8 L448.6,69.5 L449.0,68.3 L449.5,67.1 L449.9,66.3 L450.2,65.9 L450.4,65.8 L450.7,65.9 L450.9,66.3 L451.4,67.1 L451.8,68.3 L452.3,69.5 L452.7,70.8 L453.1,72.2 L453.6,73.5 L454.1,74.8 L454.6,76.0 L455.1,76.8 L455.6,77.5 L456.2,78.0 L456.6,78.3 L457.1,78.4 L457.6,78.5 Z" fill="#d9b27c" stroke="none"/>
<path d="M443.6,78.5 L444.1,78.4 L444.5,78.3 L445.0,78.0 L445.5,77.5 L446.0,76.8 L446.5,76.0 L446.9,74.8 L447.4,73.5 L447.8,72.2 L448.2,70.8 L448.6,69.5 L449.0,68.3 L449.5,67.1 L449.9,66.3 L450.2,65.9 L450.4,65.8 L450.7,65.9 L450.9,66.3 L451.4,67.1 L451.8,68.3 L452.3,69.5 L452.7,70.8 L453.1,72.2 L453.6,73.5 L454.1,74.8 L454.6,76.0 L455.1,76.8 L455.6,77.5 L456.2,78.0 L456.6,78.3 L457.1,78.4 L457.6,78.5" fill="none" stroke="#e2b264" stroke-width="1.05" stroke-linejoin="round"/>
<path d="M471.6,91.2 L472.0,91.2 L472.4,91.1 L472.8,91.0 L473.2,90.9 L473.6,90.7 L474.0,90.5 L474.5,90.2 L474.9,89.8 L475.4,89.3 L475.8,88.8 L476.2,88.2 L476.6,87.5 L477.0,86.8 L477.4,86.0 L477.8,85.3 L478.2,84.4 L478.7,83.4 L479.2,82.5 L479.6,81.8 L480.0,81.0 L480.5,80.3 L480.9,79.9 L481.2,79.5 L481.6,79.4 L482.0,79.5 L482.5,79.9 L482.9,80.2 L483.3,80.6 L483.7,81.1 L484.1,81.8 L484.6,82.4 L485.0,83.1 L485.5,83.8 L485.9,84.6 L486.4,85.3 L486.8,85.9 L487.2,86.5 L487.6,87.2 L488.0,87.8 L488.4,88.3 L488.9,88.8 L489.3,89.3 L489.8,89.6 L490.2,90.0 L490.7,90.3 L491.1,90.5 L491.6,90.7 L492.0,90.9 L492.4,91.0 L492.9,91.1 L493.3,91.1 L493.7,91.2 L494.1,91.2 Z" fill="#c8c8c8" stroke="none"/>
<path d="M471.6,91.2 L472.0,91.2 L472.4,91.1 L472.8,91.0 L473.2,90.9 L473.6,90.7 L474.0,90.5 L474.5,90.2 L474.9,89.8 L475.4,89.3 L475.8,88.8 L476.2,88.2 L476.6,87.5 L477.0,86.8 L477.4,86.0 L477.8,85.3 L478.2,84.4 L478.7,83.4 L479.2,82.5 L479.6,81.8 L480.0,81.0 L480.5,80.3 L480.9,79.9 L481.2,79.5 L481.6,79.4 L482.0,79.5 L482.5,79.9 L482.9,80.2 L483.3,80.6 L483.7,81.1 L484.1,81.8 L484.6,82.4 L485.0,83.1 L485.5,83.8 L485.9,84.6 L486.4,85.3 L486.8,85.9 L487.2,86.5 L487.6,87.2 L488.0,87.8 L488.4,88.3 L488.9,88.8 L489.3,89.3 L489.8,89.6 L490.2,90.0 L490.7,90.3 L491.1,90.5 L491.6,90.7 L492.0,90.9 L492.4,91.0 L492.9,91.1 L493.3,91.1 L493.7,91.2 L494.1,91.2" fill="none" stroke="#8a8a8a" stroke-width="1.05" stroke-linejoin="round"/>
<rect x="440.3" y="11.9" width="62.30000000000001" height="79.8" fill="none" stroke="#111" stroke-width="1.3"/>
<text x="447.00" y="100.60" font-size="5.9" fill="#222" text-anchor="middle" stroke="#222" stroke-width="0.3">0</text>
<text x="465.00" y="100.60" font-size="5.9" fill="#222" text-anchor="middle" stroke="#222" stroke-width="0.3">10<tspan dy="-2.71" dx="0.3" font-size="3.66">4</tspan></text>
<text x="482.20" y="100.60" font-size="5.9" fill="#222" text-anchor="middle" stroke="#222" stroke-width="0.3">10<tspan dy="-2.71" dx="0.3" font-size="3.66">5</tspan></text>
<text x="499.00" y="100.60" font-size="5.9" fill="#222" text-anchor="middle" stroke="#222" stroke-width="0.3">10<tspan dy="-2.71" dx="0.3" font-size="3.66">6</tspan></text>
<text x="0.00" y="0.00" font-size="7.1" fill="#2a2a2a" text-anchor="middle" transform="translate(471.80,112.60) scale(0.76,1)" stroke="#1c1c1c" stroke-width="0.4">BV605</text>
<text x="0.00" y="0.00" font-size="7.1" fill="#2a2a2a" text-anchor="middle" transform="translate(471.80,122.00) scale(0.76,1)" stroke="#1c1c1c" stroke-width="0.4">HLA-I</text>
<text x="6.40" y="15.90" font-size="11.1" fill="#0c0c0c" text-anchor="start" font-weight="bold" stroke="#0c0c0c" stroke-width="0.5">A</text>
<text x="6.40" y="148.70" font-size="11.1" fill="#0c0c0c" text-anchor="start" font-weight="bold" stroke="#0c0c0c" stroke-width="0.5">B</text>
<text x="6.50" y="278.70" font-size="11.1" fill="#0c0c0c" text-anchor="start" font-weight="bold" stroke="#0c0c0c" stroke-width="0.5">C</text>
<text x="61.80" y="150.60" font-size="5.7" fill="#333" text-anchor="middle" stroke="#333" stroke-width="0.22">NK Challenge</text>
<circle cx="62.8" cy="169.3" r="13.2" fill="#f0843a" stroke="#4a2410" stroke-width="1.6"/>
<radialGradient id="rg1"><stop offset="0" stop-color="#f8c39b"/><stop offset="0.5" stop-color="#f8c39b"/><stop offset="1" stop-color="#f8c39b" stop-opacity="0"/></radialGradient>
<circle cx="64.0" cy="170.9" r="10.6" fill="url(#rg1)"/>
<text x="64.00" y="169.70" font-size="5.9" fill="#5e3a22" text-anchor="middle" stroke="#5e3a22" stroke-width="0.22">NK</text>
<text x="64.00" y="176.30" font-size="5.9" fill="#5e3a22" text-anchor="middle" stroke="#5e3a22" stroke-width="0.22">Cell</text>
<text x="61.70" y="192.00" font-size="5.9" fill="#333" text-anchor="middle" stroke="#333" stroke-width="0.22">Effector (E)</text>
<path d="M82.0,169.8 Q86.9,169.8 86.9,174.8 L86.9,198.4 Q86.9,203.4 91.4,203.4 Q86.9,203.4 86.9,208.4 L86.9,231.4 Q86.9,236.4 82.0,236.4" fill="none" stroke="#1a1a1a" stroke-width="1.45"/>
<line x1="90.9" y1="203.4" x2="103.3" y2="203.4" stroke="#1a1a1a" stroke-width="1.45"/>
<path d="M105.3,203.4 L101.89999999999999,201.6 L101.89999999999999,205.20000000000002 Z" fill="#1a1a1a"/>
<text x="96.30" y="192.60" font-size="5.6" fill="#333" text-anchor="middle" stroke="#333" stroke-width="0.22">20</text>
<text x="96.30" y="200.00" font-size="5.6" fill="#333" text-anchor="middle" stroke="#333" stroke-width="0.22">hours</text>
<text x="24.80" y="222.60" font-size="5.8" fill="#333" text-anchor="middle" stroke="#333" stroke-width="0.22">HDR</text>
<text x="24.80" y="229.60" font-size="5.8" fill="#333" text-anchor="middle" stroke="#333" stroke-width="0.22">KI</text>
<text x="23.60" y="251.60" font-size="5.8" fill="#333" text-anchor="middle" stroke="#333" stroke-width="0.22">B2M</text>
<text x="23.60" y="258.80" font-size="5.8" fill="#333" text-anchor="middle" stroke="#333" stroke-width="0.22">KO</text>
<line x1="49.4" y1="224.4" x2="52.4" y2="228.6" stroke="#111" stroke-width="1.1"/>
<g transform="translate(41.1,226.6) rotate(32)">
<rect x="-5.9" y="-8.05" width="11.8" height="7.6" rx="1.8" fill="#e0141c" stroke="#1c0404" stroke-width="1.4"/>
<rect x="-5.9" y="0.4500000000000002" width="11.8" height="7.6" rx="1.8" fill="#e0141c" stroke="#1c0404" stroke-width="1.4"/>
</g>
<g>
<path d="M32.6,245.6 L40.6,246.6 L47.2,240.6 L48.2,247.4 L43.6,250.4 L41.4,254.0 L36.0,259.0 L36.6,252.6 L33.4,250.4 Z" fill="#2878b8" stroke="#0a1420" stroke-width="1.1" stroke-linejoin="round"/>
<path d="M34.0,247.0 L39.8,249.4 L36.4,252.2 Z" fill="#17908e"/>
<path d="M37.2,256.0 L40.4,251.4 L41.6,254.4 Z" fill="#17908e"/>
<ellipse cx="46.0" cy="252.9" rx="4.3" ry="2.3" fill="#e0242c" stroke="#2a0808" stroke-width="0.9" transform="rotate(-6 46 252.9)"/>
<path d="M31.0,245.4 L52.6,254.2 M47.0,240.0 L35.6,259.6" stroke="#0a0a0a" stroke-width="1.2" stroke-linecap="round" fill="none"/>
<line x1="48.2" y1="245.0" x2="51.0" y2="243.6" stroke="#111" stroke-width="1.1"/>
</g>
<circle cx="64.9" cy="236.7" r="14.9" fill="#6e86cf" stroke="#16224f" stroke-width="1.6"/>
<radialGradient id="rg2"><stop offset="0" stop-color="#a9b8e6"/><stop offset="0.5" stop-color="#a9b8e6"/><stop offset="1" stop-color="#a9b8e6" stop-opacity="0"/></radialGradient>
<circle cx="67.10000000000001" cy="239.29999999999998" r="12.0" fill="url(#rg2)"/>
<text x="67.10" y="238.10" font-size="5.9" fill="#4a5a94" text-anchor="middle" stroke="#4a5a94" stroke-width="0.22">T</text>
<text x="67.10" y="244.70" font-size="5.9" fill="#4a5a94" text-anchor="middle" stroke="#4a5a94" stroke-width="0.22">Cell</text>
<text x="66.60" y="263.20" font-size="5.9" fill="#333" text-anchor="middle" stroke="#333" stroke-width="0.22">Target (T)</text>
<defs><filter id="blur1" x="-20%" y="-20%" width="140%" height="140%"><feGaussianBlur stdDeviation="0.35"/></filter></defs>
<g>
<rect x="144.4" y="209.3" width="29.4" height="28.8" fill="#fff" stroke="#6a6a78" stroke-width="0.7"/>
<clipPath id="ci144"><rect x="144.4" y="209.3" width="29.4" height="28.8"/></clipPath>
<g clip-path="url(#ci144)" filter="url(#blur1)">
<path d="M146.2,213.4 Q153,211.6 162.4,213.6 Q160.3,218.5 156.2,223.6 Q154.8,225.8 155.4,227.6 L151.8,227.6 Q152.2,225.6 150.8,223.2 Q147.4,217.6 146.2,213.4 Z" fill="#dfe6ff" stroke="#1b1fae" stroke-width="1.3" stroke-linejoin="round"/>
<path d="M162.0,214.0 Q166.2,214.6 167.6,217.6" fill="none" stroke="#1b1fae" stroke-width="1.2" stroke-linejoin="round"/>
<ellipse cx="167.6" cy="220.6" rx="2.5" ry="5.2" fill="#1b1fae" transform="rotate(0 167.6 220.6)"/>
<ellipse cx="167.6" cy="220.8" rx="1.4" ry="3.9" fill="#5f7ce8" transform="rotate(0 167.6 220.8)"/>
<path d="M151.2,227.2 Q154,225.8 160,227.0 Q165,225.8 170.4,227.6 Q172.2,230.4 170.2,232.8 Q165,234.6 160.4,232.6 Q154.6,234.4 149.8,232.6 Q147.8,230.4 151.2,227.2 Z" fill="#3f5fe0" stroke="#1b1fae" stroke-width="1.1" stroke-linejoin="round"/>
<path d="M167.4,225.2 L169.2,225.2 L169.4,228 L167.2,228 Z" fill="#1b1fae"/>
<ellipse cx="153.0" cy="216.2" rx="6.2" ry="2.7" fill="#2e6ee0" transform="rotate(0 153.0 216.2)"/>
<ellipse cx="153.0" cy="216.2" rx="5.4" ry="2.3" fill="#22b8c8" transform="rotate(0 153.0 216.2)"/>
<ellipse cx="153.0" cy="216.2" rx="4.5" ry="1.9" fill="#3cc83c" transform="rotate(0 153.0 216.2)"/>
<ellipse cx="153.0" cy="216.2" rx="3.2" ry="1.4" fill="#f0e020" transform="rotate(0 153.0 216.2)"/>
<ellipse cx="153.0" cy="216.2" rx="1.7" ry="0.8" fill="#ee2a1a" transform="rotate(0 153.0 216.2)"/>
<ellipse cx="153.8" cy="230.4" rx="3.6" ry="1.7" fill="#22b8c8" transform="rotate(0 153.8 230.4)"/>
<ellipse cx="153.8" cy="230.4" rx="2.8" ry="1.2" fill="#4ccc3c" transform="rotate(0 153.8 230.4)"/>
<ellipse cx="153.8" cy="230.4" rx="1.4" ry="0.6" fill="#b4e038" transform="rotate(0 153.8 230.4)"/>
<ellipse cx="167.2" cy="230.2" rx="3.2" ry="2.1" fill="#22b8c8" transform="rotate(0 167.2 230.2)"/>
<ellipse cx="167.2" cy="230.2" rx="2.5" ry="1.6" fill="#4ccc3c" transform="rotate(0 167.2 230.2)"/>
<ellipse cx="167.2" cy="230.2" rx="1.3" ry="0.8" fill="#b4e038" transform="rotate(0 167.2 230.2)"/>
</g>
<line x1="160.6" y1="209.3" x2="160.6" y2="238.10000000000002" stroke="#2e1a26" stroke-width="0.8"/>
<line x1="144.4" y1="225.1" x2="173.8" y2="225.1" stroke="#b02a4a" stroke-width="0.9"/>
<text x="0.00" y="0.00" font-size="4.6" fill="#2a2a2a" text-anchor="middle" font-weight="bold" transform="translate(142.40,224.20) rotate(-90) scale(0.86,1)">NKG2C</text>
<text x="0.00" y="0.00" font-size="4.6" fill="#2a2a2a" text-anchor="middle" font-weight="bold" transform="translate(159.50,243.60) scale(0.86,1)">NKG2A</text>
</g>
<path d="M136.4,159.9 L136.4,246.5 L229.4,246.5" fill="none" stroke="#1c1c1c" stroke-width="1.15"/>
<line x1="133.4" y1="246.5" x2="136.4" y2="246.5" stroke="#1c1c1c" stroke-width="1.0"/>
<line x1="133.20000000000002" y1="246.50" x2="136.4" y2="246.50" stroke="#1c1c1c" stroke-width="1.1"/>
<text x="131.00" y="248.70" font-size="6.2" fill="#333" text-anchor="end" stroke="#333" stroke-width="0.22">0</text>
<line x1="133.20000000000002" y1="224.97" x2="136.4" y2="224.97" stroke="#1c1c1c" stroke-width="1.1"/>
<text x="131.00" y="227.17" font-size="6.2" fill="#333" text-anchor="end" stroke="#333" stroke-width="0.22">25</text>
<line x1="133.20000000000002" y1="203.45" x2="136.4" y2="203.45" stroke="#1c1c1c" stroke-width="1.1"/>
<text x="131.00" y="205.65" font-size="6.2" fill="#333" text-anchor="end" stroke="#333" stroke-width="0.22">50</text>
<line x1="133.20000000000002" y1="181.93" x2="136.4" y2="181.93" stroke="#1c1c1c" stroke-width="1.1"/>
<text x="131.00" y="184.12" font-size="6.2" fill="#333" text-anchor="end" stroke="#333" stroke-width="0.22">75</text>
<line x1="133.20000000000002" y1="160.40" x2="136.4" y2="160.40" stroke="#1c1c1c" stroke-width="1.1"/>
<text x="131.00" y="162.60" font-size="6.2" fill="#333" text-anchor="end" stroke="#333" stroke-width="0.22">100</text>
<line x1="155.10" y1="246.5" x2="155.10" y2="249.7" stroke="#1c1c1c" stroke-width="1.1"/>
<text x="155.10" y="258.20" font-size="6.0" fill="#333" text-anchor="middle" stroke="#333" stroke-width="0.22">0.01</text>
<line x1="163.29" y1="246.5" x2="163.29" y2="247.9" stroke="#1c1c1c" stroke-width="0.7"/>
<line x1="168.08" y1="246.5" x2="168.08" y2="247.9" stroke="#1c1c1c" stroke-width="0.7"/>
<line x1="171.48" y1="246.5" x2="171.48" y2="247.9" stroke="#1c1c1c" stroke-width="0.7"/>
<line x1="174.11" y1="246.5" x2="174.11" y2="247.9" stroke="#1c1c1c" stroke-width="0.7"/>
<line x1="176.27" y1="246.5" x2="176.27" y2="247.9" stroke="#1c1c1c" stroke-width="0.7"/>
<line x1="178.09" y1="246.5" x2="178.09" y2="247.9" stroke="#1c1c1c" stroke-width="0.7"/>
<line x1="179.66" y1="246.5" x2="179.66" y2="247.9" stroke="#1c1c1c" stroke-width="0.7"/>
<line x1="181.06" y1="246.5" x2="181.06" y2="247.9" stroke="#1c1c1c" stroke-width="0.7"/>
<line x1="182.30" y1="246.5" x2="182.30" y2="249.7" stroke="#1c1c1c" stroke-width="1.1"/>
<text x="182.60" y="258.20" font-size="6.0" fill="#333" text-anchor="middle" stroke="#333" stroke-width="0.22">0.1</text>
<line x1="190.49" y1="246.5" x2="190.49" y2="247.9" stroke="#1c1c1c" stroke-width="0.7"/>
<line x1="195.28" y1="246.5" x2="195.28" y2="247.9" stroke="#1c1c1c" stroke-width="0.7"/>
<line x1="198.68" y1="246.5" x2="198.68" y2="247.9" stroke="#1c1c1c" stroke-width="0.7"/>
<line x1="201.31" y1="246.5" x2="201.31" y2="247.9" stroke="#1c1c1c" stroke-width="0.7"/>
<line x1="203.47" y1="246.5" x2="203.47" y2="247.9" stroke="#1c1c1c" stroke-width="0.7"/>
<line x1="205.29" y1="246.5" x2="205.29" y2="247.9" stroke="#1c1c1c" stroke-width="0.7"/>
<line x1="206.86" y1="246.5" x2="206.86" y2="247.9" stroke="#1c1c1c" stroke-width="0.7"/>
<line x1="208.26" y1="246.5" x2="208.26" y2="247.9" stroke="#1c1c1c" stroke-width="0.7"/>
<line x1="209.50" y1="246.5" x2="209.50" y2="249.7" stroke="#1c1c1c" stroke-width="1.1"/>
<text x="209.80" y="258.20" font-size="6.0" fill="#333" text-anchor="middle" stroke="#333" stroke-width="0.22">1</text>
<line x1="217.69" y1="246.5" x2="217.69" y2="247.9" stroke="#1c1c1c" stroke-width="0.7"/>
<line x1="222.48" y1="246.5" x2="222.48" y2="247.9" stroke="#1c1c1c" stroke-width="0.7"/>
<line x1="225.88" y1="246.5" x2="225.88" y2="247.9" stroke="#1c1c1c" stroke-width="0.7"/>
<line x1="228.51" y1="246.5" x2="228.51" y2="247.9" stroke="#1c1c1c" stroke-width="0.7"/>
<line x1="140.88" y1="246.5" x2="140.88" y2="247.9" stroke="#1c1c1c" stroke-width="0.7"/>
<line x1="144.28" y1="246.5" x2="144.28" y2="247.9" stroke="#1c1c1c" stroke-width="0.7"/>
<line x1="146.91" y1="246.5" x2="146.91" y2="247.9" stroke="#1c1c1c" stroke-width="0.7"/>
<line x1="149.07" y1="246.5" x2="149.07" y2="247.9" stroke="#1c1c1c" stroke-width="0.7"/>
<line x1="150.89" y1="246.5" x2="150.89" y2="247.9" stroke="#1c1c1c" stroke-width="0.7"/>
<line x1="152.46" y1="246.5" x2="152.46" y2="247.9" stroke="#1c1c1c" stroke-width="0.7"/>
<line x1="153.86" y1="246.5" x2="153.86" y2="247.9" stroke="#1c1c1c" stroke-width="0.7"/>
<line x1="136.4" y1="246.5" x2="136.4" y2="249.7" stroke="#1c1c1c" stroke-width="1.1"/>
<text x="136.40" y="258.20" font-size="6.0" fill="#333" text-anchor="middle" stroke="#333" stroke-width="0.22">0</text>
<text x="182.60" y="150.90" font-size="8.0" fill="#333" text-anchor="middle"><tspan fill="#f28c28" stroke="#f28c28" stroke-width="0.2">NK Donor 2</tspan><tspan fill="#e2574c" stroke="#e2574c" stroke-width="0.2"> (2C</tspan><tspan fill="#e2574c" dy="-2.6" font-size="4.2">dom</tspan><tspan fill="#e2574c" stroke="#e2574c" stroke-width="0.2" dy="2.6">)</tspan></text>
<path d="M136.40,160.40 C138.07,160.49 142.80,160.49 146.40,160.92 C150.00,161.35 155.00,162.06 158.00,162.98 C161.00,163.90 162.28,164.56 164.40,166.43 C166.53,168.29 168.58,170.88 170.75,174.18 C172.92,177.48 175.23,181.78 177.40,186.23 C179.57,190.68 181.58,195.99 183.75,200.87 C185.92,205.75 188.11,210.77 190.40,215.50 C192.69,220.24 195.33,225.55 197.50,229.28 C199.67,233.01 201.40,235.59 203.40,237.89 C205.40,240.19 207.33,241.79 209.50,243.06 C211.67,244.32 214.08,244.95 216.40,245.47 C218.72,245.98 222.23,246.04 223.40,246.16" fill="none" stroke="#2fb344" stroke-width="1.5" stroke-linecap="round"/>
<path d="M136.40,160.40 C138.07,160.47 142.80,160.47 146.40,160.83 C150.00,161.19 155.00,161.76 158.00,162.55 C161.00,163.34 162.28,163.99 164.40,165.57 C166.53,167.14 168.58,169.15 170.75,172.02 C172.92,174.89 175.23,178.70 177.40,182.79 C179.57,186.88 181.58,191.83 183.75,196.56 C185.92,201.30 188.11,206.32 190.40,211.20 C192.69,216.08 195.33,221.82 197.50,225.84 C199.67,229.85 201.40,232.65 203.40,235.31 C205.40,237.96 207.33,240.19 209.50,241.76 C211.67,243.34 214.08,244.07 216.40,244.78 C218.72,245.48 222.23,245.78 223.40,245.98" fill="none" stroke="#f6c61c" stroke-width="1.5" stroke-linecap="round"/>
<path d="M136.40,160.40 C138.07,160.62 142.80,160.83 146.40,161.69 C150.00,162.55 153.94,163.92 158.00,165.57 C162.06,167.22 166.46,169.66 170.75,171.59 C175.04,173.53 179.29,175.40 183.75,177.19 C188.21,178.98 193.21,180.71 197.50,182.36 C201.79,184.01 205.25,185.44 209.50,187.09 C213.75,188.74 220.75,191.40 223.00,192.26" fill="none" stroke="#e5147f" stroke-width="1.5" stroke-linecap="round"/>
<path d="M136.40,160.40 C138.07,160.47 142.80,160.51 146.40,160.83 C150.00,161.15 155.00,161.65 158.00,162.29 C161.00,162.94 162.28,163.44 164.40,164.71 C166.53,165.97 168.58,167.58 170.75,169.87 C172.92,172.17 175.23,175.04 177.40,178.48 C179.57,181.92 181.58,186.37 183.75,190.53 C185.92,194.70 188.11,199.00 190.40,203.45 C192.69,207.90 195.33,212.99 197.50,217.23 C199.67,221.46 201.40,225.41 203.40,228.85 C205.40,232.29 207.33,235.45 209.50,237.89 C211.67,240.33 214.08,242.22 216.40,243.49 C218.72,244.75 222.23,245.14 223.40,245.47" fill="none" stroke="#46267a" stroke-width="1.5" stroke-linecap="round"/>
<path d="M136.40,160.40 C138.07,160.46 142.80,160.49 146.40,160.74 C150.00,161.00 155.00,161.43 158.00,161.95 C161.00,162.47 162.28,162.78 164.40,163.84 C166.53,164.91 168.58,166.24 170.75,168.32 C172.92,170.40 175.23,173.06 177.40,176.33 C179.57,179.60 181.58,183.86 183.75,187.95 C185.92,192.04 188.11,196.42 190.40,200.87 C192.69,205.32 195.33,210.34 197.50,214.64 C199.67,218.95 201.40,223.04 203.40,226.70 C205.40,230.36 207.33,233.93 209.50,236.60 C211.67,239.27 214.08,241.29 216.40,242.71 C218.72,244.13 222.23,244.72 223.40,245.12" fill="none" stroke="#3b4266" stroke-width="1.5" stroke-linecap="round"/>
<path d="M136.40,163.70 L139.40,158.10 L133.40,158.10 Z" fill="none" stroke="#2fb344" stroke-width="1.45" stroke-linejoin="miter"/>
<path d="M157.55,177.48 L160.55,171.88 L154.55,171.88 Z" fill="none" stroke="#2fb344" stroke-width="1.45" stroke-linejoin="miter"/>
<path d="M157.55,179.08 L160.55,173.48 L154.55,173.48 Z" fill="none" stroke="#2fb344" stroke-width="1.45" stroke-linejoin="miter"/>
<path d="M170.55,182.64 L173.55,177.04 L167.55,177.04 Z" fill="none" stroke="#2fb344" stroke-width="1.45" stroke-linejoin="miter"/>
<path d="M183.55,209.76 L186.55,204.16 L180.55,204.16 Z" fill="none" stroke="#2fb344" stroke-width="1.45" stroke-linejoin="miter"/>
<path d="M183.55,211.36 L186.55,205.76 L180.55,205.76 Z" fill="none" stroke="#2fb344" stroke-width="1.45" stroke-linejoin="miter"/>
<path d="M196.55,230.00 L199.55,224.40 L193.55,224.40 Z" fill="none" stroke="#2fb344" stroke-width="1.45" stroke-linejoin="miter"/>
<path d="M209.55,247.22 L212.55,241.62 L206.55,241.62 Z" fill="none" stroke="#2fb344" stroke-width="1.45" stroke-linejoin="miter"/>
<path d="M222.55,248.08 L225.55,242.48 L219.55,242.48 Z" fill="none" stroke="#2fb344" stroke-width="1.45" stroke-linejoin="miter"/>
<path d="M222.55,249.68 L225.55,244.08 L219.55,244.08 Z" fill="none" stroke="#2fb344" stroke-width="1.45" stroke-linejoin="miter"/>
<path d="M136.40,157.45 L139.35,160.40 L136.40,163.35 L133.45,160.40 Z" fill="none" stroke="#f6c61c" stroke-width="1.45" stroke-linejoin="miter"/>
<path d="M157.55,170.37 L160.50,173.31 L157.55,176.26 L154.60,173.31 Z" fill="none" stroke="#f6c61c" stroke-width="1.45" stroke-linejoin="miter"/>
<path d="M157.55,171.97 L160.50,174.91 L157.55,177.86 L154.60,174.91 Z" fill="none" stroke="#f6c61c" stroke-width="1.45" stroke-linejoin="miter"/>
<path d="M170.55,170.37 L173.50,173.31 L170.55,176.26 L167.60,173.31 Z" fill="none" stroke="#f6c61c" stroke-width="1.45" stroke-linejoin="miter"/>
<path d="M183.55,193.61 L186.50,196.56 L183.55,199.51 L180.60,196.56 Z" fill="none" stroke="#f6c61c" stroke-width="1.45" stroke-linejoin="miter"/>
<path d="M183.55,195.21 L186.50,198.16 L183.55,201.11 L180.60,198.16 Z" fill="none" stroke="#f6c61c" stroke-width="1.45" stroke-linejoin="miter"/>
<path d="M196.55,220.30 L199.50,223.25 L196.55,226.20 L193.60,223.25 Z" fill="none" stroke="#f6c61c" stroke-width="1.45" stroke-linejoin="miter"/>
<path d="M209.55,240.11 L212.50,243.06 L209.55,246.01 L206.60,243.06 Z" fill="none" stroke="#f6c61c" stroke-width="1.45" stroke-linejoin="miter"/>
<path d="M222.55,241.83 L225.50,244.78 L222.55,247.73 L219.60,244.78 Z" fill="none" stroke="#f6c61c" stroke-width="1.45" stroke-linejoin="miter"/>
<path d="M222.55,243.43 L225.50,246.38 L222.55,249.33 L219.60,246.38 Z" fill="none" stroke="#f6c61c" stroke-width="1.45" stroke-linejoin="miter"/>
<path d="M136.40,157.10 L139.40,162.70 L133.40,162.70 Z" fill="none" stroke="#e5147f" stroke-width="1.45" stroke-linejoin="miter"/>
<path d="M157.55,169.15 L160.55,174.75 L154.55,174.75 Z" fill="none" stroke="#e5147f" stroke-width="1.45" stroke-linejoin="miter"/>
<path d="M157.55,170.75 L160.55,176.35 L154.55,176.35 Z" fill="none" stroke="#e5147f" stroke-width="1.45" stroke-linejoin="miter"/>
<path d="M170.55,168.29 L173.55,173.89 L167.55,173.89 Z" fill="none" stroke="#e5147f" stroke-width="1.45" stroke-linejoin="miter"/>
<path d="M183.55,176.90 L186.55,182.50 L180.55,182.50 Z" fill="none" stroke="#e5147f" stroke-width="1.45" stroke-linejoin="miter"/>
<path d="M183.55,178.50 L186.55,184.10 L180.55,184.10 Z" fill="none" stroke="#e5147f" stroke-width="1.45" stroke-linejoin="miter"/>
<path d="M196.55,179.49 L199.55,185.09 L193.55,185.09 Z" fill="none" stroke="#e5147f" stroke-width="1.45" stroke-linejoin="miter"/>
<path d="M209.55,179.49 L212.55,185.09 L206.55,185.09 Z" fill="none" stroke="#e5147f" stroke-width="1.45" stroke-linejoin="miter"/>
<path d="M222.55,193.26 L225.55,198.86 L219.55,198.86 Z" fill="none" stroke="#e5147f" stroke-width="1.45" stroke-linejoin="miter"/>
<path d="M222.55,194.86 L225.55,200.46 L219.55,200.46 Z" fill="none" stroke="#e5147f" stroke-width="1.45" stroke-linejoin="miter"/>
<path d="M136.40,157.45 L139.35,160.40 L136.40,163.35 L133.45,160.40 Z" fill="none" stroke="#46267a" stroke-width="1.45" stroke-linejoin="miter"/>
<path d="M157.55,168.64 L160.50,171.59 L157.55,174.54 L154.60,171.59 Z" fill="none" stroke="#46267a" stroke-width="1.45" stroke-linejoin="miter"/>
<path d="M157.55,170.24 L160.50,173.19 L157.55,176.14 L154.60,173.19 Z" fill="none" stroke="#46267a" stroke-width="1.45" stroke-linejoin="miter"/>
<path d="M170.55,165.20 L173.50,168.15 L170.55,171.10 L167.60,168.15 Z" fill="none" stroke="#46267a" stroke-width="1.45" stroke-linejoin="miter"/>
<path d="M183.55,188.45 L186.50,191.40 L183.55,194.35 L180.60,191.40 Z" fill="none" stroke="#46267a" stroke-width="1.45" stroke-linejoin="miter"/>
<path d="M183.55,190.05 L186.50,193.00 L183.55,195.95 L180.60,193.00 Z" fill="none" stroke="#46267a" stroke-width="1.45" stroke-linejoin="miter"/>
<path d="M196.55,211.69 L199.50,214.64 L196.55,217.59 L193.60,214.64 Z" fill="none" stroke="#46267a" stroke-width="1.45" stroke-linejoin="miter"/>
<path d="M209.55,238.38 L212.50,241.33 L209.55,244.28 L206.60,241.33 Z" fill="none" stroke="#46267a" stroke-width="1.45" stroke-linejoin="miter"/>
<path d="M222.55,240.97 L225.50,243.92 L222.55,246.87 L219.60,243.92 Z" fill="none" stroke="#46267a" stroke-width="1.45" stroke-linejoin="miter"/>
<path d="M222.55,242.57 L225.50,245.52 L222.55,248.47 L219.60,245.52 Z" fill="none" stroke="#46267a" stroke-width="1.45" stroke-linejoin="miter"/>
<circle cx="136.40" cy="160.40" r="2.75" fill="none" stroke="#3b4266" stroke-width="1.45"/>
<circle cx="157.55" cy="170.73" r="2.75" fill="none" stroke="#3b4266" stroke-width="1.45"/>
<circle cx="157.55" cy="172.33" r="2.75" fill="none" stroke="#3b4266" stroke-width="1.45"/>
<circle cx="170.55" cy="167.29" r="2.75" fill="none" stroke="#3b4266" stroke-width="1.45"/>
<circle cx="183.55" cy="189.67" r="2.75" fill="none" stroke="#3b4266" stroke-width="1.45"/>
<circle cx="183.55" cy="191.27" r="2.75" fill="none" stroke="#3b4266" stroke-width="1.45"/>
<circle cx="196.55" cy="213.78" r="2.75" fill="none" stroke="#3b4266" stroke-width="1.45"/>
<circle cx="209.55" cy="240.47" r="2.75" fill="none" stroke="#3b4266" stroke-width="1.45"/>
<circle cx="222.55" cy="243.92" r="2.75" fill="none" stroke="#3b4266" stroke-width="1.45"/>
<circle cx="222.55" cy="245.52" r="2.75" fill="none" stroke="#3b4266" stroke-width="1.45"/>
<g>
<rect x="248.3" y="209.5" width="29.4" height="28.6" fill="#fff" stroke="#6a6a78" stroke-width="0.7"/>
<clipPath id="ci248"><rect x="248.3" y="209.5" width="29.4" height="28.6"/></clipPath>
<g clip-path="url(#ci248)" filter="url(#blur1)">
<path d="M262.8,217.6 L272.4,217.2 Q273.4,222 272.8,226.8 Q275.0,229.4 274.2,232.8 Q272.6,235.0 268.0,234.8 L254.0,233.4 Q250.6,232.4 251.2,230.6 Q252.4,228.8 256.0,229.0 L263.6,229.0 Q262.2,224 262.8,217.6 Z" fill="#2a1c9c" stroke="#2a1c9c" stroke-width="0.8" stroke-linejoin="round"/>
<path d="M255.6,218.4 L259.6,218.8 L257.6,221.6 Z" fill="#2a1c9c" stroke="#2a1c9c" stroke-width="0.6" stroke-linejoin="round"/>
<ellipse cx="267.8" cy="221.4" rx="3.4" ry="2.8" fill="#3a36b8" transform="rotate(0 267.8 221.4)"/>
<path d="M253.4,231.0 Q262,229.6 272.4,230.0 Q273.6,232 272.0,233.4 Q262,233.6 253.4,231.8 Z" fill="#28b0d0"/>
<ellipse cx="266.8" cy="231.6" rx="5.0" ry="1.6" fill="#58cc88" transform="rotate(0 266.8 231.6)"/>
<ellipse cx="269.4" cy="231.4" rx="2.6" ry="1.4" fill="#f2d21a" transform="rotate(0 269.4 231.4)"/>
<ellipse cx="270.0" cy="231.4" rx="1.2" ry="0.8" fill="#f29a1a" transform="rotate(0 270.0 231.4)"/>
</g>
<line x1="264.8" y1="209.5" x2="264.8" y2="238.1" stroke="#2e1a26" stroke-width="0.8"/>
<line x1="248.3" y1="225.1" x2="277.7" y2="225.1" stroke="#2e1a26" stroke-width="0.9"/>
<text x="0.00" y="0.00" font-size="4.6" fill="#2a2a2a" text-anchor="middle" font-weight="bold" transform="translate(246.30,224.30) rotate(-90) scale(0.86,1)">NKG2C</text>
<text x="0.00" y="0.00" font-size="4.6" fill="#2a2a2a" text-anchor="middle" font-weight="bold" transform="translate(263.40,243.60) scale(0.86,1)">NKG2A</text>
</g>
<path d="M238.5,159.9 L238.5,246.5 L331.5,246.5" fill="none" stroke="#1c1c1c" stroke-width="1.15"/>
<line x1="235.5" y1="246.5" x2="238.5" y2="246.5" stroke="#1c1c1c" stroke-width="1.0"/>
<line x1="235.3" y1="246.50" x2="238.5" y2="246.50" stroke="#1c1c1c" stroke-width="1.1"/>
<line x1="235.3" y1="224.97" x2="238.5" y2="224.97" stroke="#1c1c1c" stroke-width="1.1"/>
<line x1="235.3" y1="203.45" x2="238.5" y2="203.45" stroke="#1c1c1c" stroke-width="1.1"/>
<line x1="235.3" y1="181.93" x2="238.5" y2="181.93" stroke="#1c1c1c" stroke-width="1.1"/>
<line x1="235.3" y1="160.40" x2="238.5" y2="160.40" stroke="#1c1c1c" stroke-width="1.1"/>
<line x1="257.20" y1="246.5" x2="257.20" y2="249.7" stroke="#1c1c1c" stroke-width="1.1"/>
<text x="257.20" y="258.20" font-size="6.0" fill="#333" text-anchor="middle" stroke="#333" stroke-width="0.22">0.01</text>
<line x1="265.39" y1="246.5" x2="265.39" y2="247.9" stroke="#1c1c1c" stroke-width="0.7"/>
<line x1="270.18" y1="246.5" x2="270.18" y2="247.9" stroke="#1c1c1c" stroke-width="0.7"/>
<line x1="273.58" y1="246.5" x2="273.58" y2="247.9" stroke="#1c1c1c" stroke-width="0.7"/>
<line x1="276.21" y1="246.5" x2="276.21" y2="247.9" stroke="#1c1c1c" stroke-width="0.7"/>
<line x1="278.37" y1="246.5" x2="278.37" y2="247.9" stroke="#1c1c1c" stroke-width="0.7"/>
<line x1="280.19" y1="246.5" x2="280.19" y2="247.9" stroke="#1c1c1c" stroke-width="0.7"/>
<line x1="281.76" y1="246.5" x2="281.76" y2="247.9" stroke="#1c1c1c" stroke-width="0.7"/>
<line x1="283.16" y1="246.5" x2="283.16" y2="247.9" stroke="#1c1c1c" stroke-width="0.7"/>
<line x1="284.40" y1="246.5" x2="284.40" y2="249.7" stroke="#1c1c1c" stroke-width="1.1"/>
<text x="284.70" y="258.20" font-size="6.0" fill="#333" text-anchor="middle" stroke="#333" stroke-width="0.22">0.1</text>
<line x1="292.59" y1="246.5" x2="292.59" y2="247.9" stroke="#1c1c1c" stroke-width="0.7"/>
<line x1="297.38" y1="246.5" x2="297.38" y2="247.9" stroke="#1c1c1c" stroke-width="0.7"/>
<line x1="300.78" y1="246.5" x2="300.78" y2="247.9" stroke="#1c1c1c" stroke-width="0.7"/>
<line x1="303.41" y1="246.5" x2="303.41" y2="247.9" stroke="#1c1c1c" stroke-width="0.7"/>
<line x1="305.57" y1="246.5" x2="305.57" y2="247.9" stroke="#1c1c1c" stroke-width="0.7"/>
<line x1="307.39" y1="246.5" x2="307.39" y2="247.9" stroke="#1c1c1c" stroke-width="0.7"/>
<line x1="308.96" y1="246.5" x2="308.96" y2="247.9" stroke="#1c1c1c" stroke-width="0.7"/>
<line x1="310.36" y1="246.5" x2="310.36" y2="247.9" stroke="#1c1c1c" stroke-width="0.7"/>
<line x1="311.60" y1="246.5" x2="311.60" y2="249.7" stroke="#1c1c1c" stroke-width="1.1"/>
<text x="311.90" y="258.20" font-size="6.0" fill="#333" text-anchor="middle" stroke="#333" stroke-width="0.22">1</text>
<line x1="319.79" y1="246.5" x2="319.79" y2="247.9" stroke="#1c1c1c" stroke-width="0.7"/>
<line x1="324.58" y1="246.5" x2="324.58" y2="247.9" stroke="#1c1c1c" stroke-width="0.7"/>
<line x1="327.98" y1="246.5" x2="327.98" y2="247.9" stroke="#1c1c1c" stroke-width="0.7"/>
<line x1="330.61" y1="246.5" x2="330.61" y2="247.9" stroke="#1c1c1c" stroke-width="0.7"/>
<line x1="242.98" y1="246.5" x2="242.98" y2="247.9" stroke="#1c1c1c" stroke-width="0.7"/>
<line x1="246.38" y1="246.5" x2="246.38" y2="247.9" stroke="#1c1c1c" stroke-width="0.7"/>
<line x1="249.01" y1="246.5" x2="249.01" y2="247.9" stroke="#1c1c1c" stroke-width="0.7"/>
<line x1="251.17" y1="246.5" x2="251.17" y2="247.9" stroke="#1c1c1c" stroke-width="0.7"/>
<line x1="252.99" y1="246.5" x2="252.99" y2="247.9" stroke="#1c1c1c" stroke-width="0.7"/>
<line x1="254.56" y1="246.5" x2="254.56" y2="247.9" stroke="#1c1c1c" stroke-width="0.7"/>
<line x1="255.96" y1="246.5" x2="255.96" y2="247.9" stroke="#1c1c1c" stroke-width="0.7"/>
<line x1="238.5" y1="246.5" x2="238.5" y2="249.7" stroke="#1c1c1c" stroke-width="1.1"/>
<text x="238.50" y="258.20" font-size="6.0" fill="#333" text-anchor="middle" stroke="#333" stroke-width="0.22">0</text>
<text x="284.60" y="150.90" font-size="8.0" fill="#333" text-anchor="middle"><tspan fill="#f28c28" stroke="#f28c28" stroke-width="0.2">NK Donor 4</tspan><tspan fill="#2a2a2a" stroke="#2a2a2a" stroke-width="0.2"> (2A</tspan><tspan fill="#2a2a2a" dy="-2.6" font-size="4.2">dom</tspan><tspan fill="#2a2a2a" stroke="#2a2a2a" stroke-width="0.2" dy="2.6">)</tspan></text>
<path d="M238.50,160.40 C240.17,160.76 245.00,161.62 248.50,162.55 C252.00,163.49 255.50,164.78 259.50,166.00 C263.50,167.22 268.17,168.65 272.50,169.87 C276.83,171.09 281.17,172.31 285.50,173.31 C289.83,174.32 294.17,175.11 298.50,175.90 C302.83,176.69 307.08,177.33 311.50,178.05 C315.92,178.77 322.75,179.84 325.00,180.20" fill="none" stroke="#2fb344" stroke-width="1.5" stroke-linecap="round"/>
<path d="M238.50,160.40 C240.17,160.69 245.00,160.97 248.50,162.12 C252.00,163.27 255.50,164.42 259.50,167.29 C263.50,170.16 268.17,174.46 272.50,179.34 C276.83,184.22 281.17,190.97 285.50,196.56 C289.83,202.16 294.17,208.19 298.50,212.92 C302.83,217.66 307.08,221.53 311.50,224.97 C315.92,228.42 322.75,232.15 325.00,233.59" fill="none" stroke="#f6c61c" stroke-width="1.5" stroke-linecap="round"/>
<path d="M238.50,160.40 C240.17,160.69 245.00,161.33 248.50,162.12 C252.00,162.91 255.50,164.06 259.50,165.14 C263.50,166.21 268.17,167.50 272.50,168.58 C276.83,169.66 281.17,170.66 285.50,171.59 C289.83,172.53 294.17,173.46 298.50,174.18 C302.83,174.89 307.08,175.32 311.50,175.90 C315.92,176.47 322.75,177.33 325.00,177.62" fill="none" stroke="#e5147f" stroke-width="1.5" stroke-linecap="round"/>
<path d="M238.50,160.40 C240.17,160.62 245.00,160.97 248.50,161.69 C252.00,162.41 255.50,162.91 259.50,164.71 C263.50,166.50 268.17,168.94 272.50,172.45 C276.83,175.97 281.17,180.92 285.50,185.80 C289.83,190.68 294.17,196.78 298.50,201.73 C302.83,206.68 307.08,211.49 311.50,215.50 C315.92,219.52 322.75,224.11 325.00,225.84" fill="none" stroke="#3b4266" stroke-width="1.5" stroke-linecap="round"/>
<path d="M238.50,160.40 C240.17,160.62 245.00,161.05 248.50,161.69 C252.00,162.34 255.50,162.70 259.50,164.27 C263.50,165.85 268.17,167.93 272.50,171.16 C276.83,174.39 281.17,179.13 285.50,183.65 C289.83,188.17 294.17,193.62 298.50,198.28 C302.83,202.95 307.08,207.75 311.50,211.63 C315.92,215.50 322.75,219.88 325.00,221.53" fill="none" stroke="#46267a" stroke-width="1.5" stroke-linecap="round"/>
<path d="M238.50,163.70 L241.50,158.10 L235.50,158.10 Z" fill="none" stroke="#2fb344" stroke-width="1.45" stroke-linejoin="miter"/>
<path d="M259.65,174.03 L262.65,168.43 L256.65,168.43 Z" fill="none" stroke="#2fb344" stroke-width="1.45" stroke-linejoin="miter"/>
<path d="M259.65,175.63 L262.65,170.03 L256.65,170.03 Z" fill="none" stroke="#2fb344" stroke-width="1.45" stroke-linejoin="miter"/>
<path d="M272.65,174.89 L275.65,169.29 L269.65,169.29 Z" fill="none" stroke="#2fb344" stroke-width="1.45" stroke-linejoin="miter"/>
<path d="M285.65,177.48 L288.65,171.88 L282.65,171.88 Z" fill="none" stroke="#2fb344" stroke-width="1.45" stroke-linejoin="miter"/>
<path d="M285.65,179.08 L288.65,173.48 L282.65,173.48 Z" fill="none" stroke="#2fb344" stroke-width="1.45" stroke-linejoin="miter"/>
<path d="M298.65,180.92 L301.65,175.32 L295.65,175.32 Z" fill="none" stroke="#2fb344" stroke-width="1.45" stroke-linejoin="miter"/>
<path d="M311.65,182.64 L314.65,177.04 L308.65,177.04 Z" fill="none" stroke="#2fb344" stroke-width="1.45" stroke-linejoin="miter"/>
<path d="M324.65,186.09 L327.65,180.49 L321.65,180.49 Z" fill="none" stroke="#2fb344" stroke-width="1.45" stroke-linejoin="miter"/>
<path d="M324.65,187.69 L327.65,182.09 L321.65,182.09 Z" fill="none" stroke="#2fb344" stroke-width="1.45" stroke-linejoin="miter"/>
<path d="M238.50,157.45 L241.45,160.40 L238.50,163.35 L235.55,160.40 Z" fill="none" stroke="#f6c61c" stroke-width="1.45" stroke-linejoin="miter"/>
<path d="M259.65,166.06 L262.60,169.01 L259.65,171.96 L256.70,169.01 Z" fill="none" stroke="#f6c61c" stroke-width="1.45" stroke-linejoin="miter"/>
<path d="M259.65,167.66 L262.60,170.61 L259.65,173.56 L256.70,170.61 Z" fill="none" stroke="#f6c61c" stroke-width="1.45" stroke-linejoin="miter"/>
<path d="M272.65,170.37 L275.60,173.31 L272.65,176.26 L269.70,173.31 Z" fill="none" stroke="#f6c61c" stroke-width="1.45" stroke-linejoin="miter"/>
<path d="M285.65,191.89 L288.60,194.84 L285.65,197.79 L282.70,194.84 Z" fill="none" stroke="#f6c61c" stroke-width="1.45" stroke-linejoin="miter"/>
<path d="M285.65,193.49 L288.60,196.44 L285.65,199.39 L282.70,196.44 Z" fill="none" stroke="#f6c61c" stroke-width="1.45" stroke-linejoin="miter"/>
<path d="M298.65,210.83 L301.60,213.78 L298.65,216.73 L295.70,213.78 Z" fill="none" stroke="#f6c61c" stroke-width="1.45" stroke-linejoin="miter"/>
<path d="M311.65,230.64 L314.60,233.59 L311.65,236.53 L308.70,233.59 Z" fill="none" stroke="#f6c61c" stroke-width="1.45" stroke-linejoin="miter"/>
<path d="M324.65,224.61 L327.60,227.56 L324.65,230.51 L321.70,227.56 Z" fill="none" stroke="#f6c61c" stroke-width="1.45" stroke-linejoin="miter"/>
<path d="M324.65,226.21 L327.60,229.16 L324.65,232.11 L321.70,229.16 Z" fill="none" stroke="#f6c61c" stroke-width="1.45" stroke-linejoin="miter"/>
<path d="M238.50,157.10 L241.50,162.70 L235.50,162.70 Z" fill="none" stroke="#e5147f" stroke-width="1.45" stroke-linejoin="miter"/>
<path d="M259.65,163.13 L262.65,168.73 L256.65,168.73 Z" fill="none" stroke="#e5147f" stroke-width="1.45" stroke-linejoin="miter"/>
<path d="M259.65,164.73 L262.65,170.33 L256.65,170.33 Z" fill="none" stroke="#e5147f" stroke-width="1.45" stroke-linejoin="miter"/>
<path d="M272.65,165.71 L275.65,171.31 L269.65,171.31 Z" fill="none" stroke="#e5147f" stroke-width="1.45" stroke-linejoin="miter"/>
<path d="M285.65,170.01 L288.65,175.62 L282.65,175.62 Z" fill="none" stroke="#e5147f" stroke-width="1.45" stroke-linejoin="miter"/>
<path d="M285.65,171.61 L288.65,177.22 L282.65,177.22 Z" fill="none" stroke="#e5147f" stroke-width="1.45" stroke-linejoin="miter"/>
<path d="M298.65,170.88 L301.65,176.48 L295.65,176.48 Z" fill="none" stroke="#e5147f" stroke-width="1.45" stroke-linejoin="miter"/>
<path d="M311.65,173.46 L314.65,179.06 L308.65,179.06 Z" fill="none" stroke="#e5147f" stroke-width="1.45" stroke-linejoin="miter"/>
<path d="M324.65,174.32 L327.65,179.92 L321.65,179.92 Z" fill="none" stroke="#e5147f" stroke-width="1.45" stroke-linejoin="miter"/>
<path d="M324.65,175.92 L327.65,181.52 L321.65,181.52 Z" fill="none" stroke="#e5147f" stroke-width="1.45" stroke-linejoin="miter"/>
<circle cx="238.50" cy="160.40" r="2.75" fill="none" stroke="#3b4266" stroke-width="1.45"/>
<circle cx="259.65" cy="168.15" r="2.75" fill="none" stroke="#3b4266" stroke-width="1.45"/>
<circle cx="259.65" cy="169.75" r="2.75" fill="none" stroke="#3b4266" stroke-width="1.45"/>
<circle cx="272.65" cy="167.29" r="2.75" fill="none" stroke="#3b4266" stroke-width="1.45"/>
<circle cx="285.65" cy="182.79" r="2.75" fill="none" stroke="#3b4266" stroke-width="1.45"/>
<circle cx="285.65" cy="184.39" r="2.75" fill="none" stroke="#3b4266" stroke-width="1.45"/>
<circle cx="298.65" cy="197.42" r="2.75" fill="none" stroke="#3b4266" stroke-width="1.45"/>
<circle cx="311.65" cy="218.95" r="2.75" fill="none" stroke="#3b4266" stroke-width="1.45"/>
<circle cx="324.65" cy="225.84" r="2.75" fill="none" stroke="#3b4266" stroke-width="1.45"/>
<circle cx="324.65" cy="227.44" r="2.75" fill="none" stroke="#3b4266" stroke-width="1.45"/>
<path d="M238.50,157.45 L241.45,160.40 L238.50,163.35 L235.55,160.40 Z" fill="none" stroke="#46267a" stroke-width="1.45" stroke-linejoin="miter"/>
<path d="M259.65,164.34 L262.60,167.29 L259.65,170.24 L256.70,167.29 Z" fill="none" stroke="#46267a" stroke-width="1.45" stroke-linejoin="miter"/>
<path d="M259.65,165.94 L262.60,168.89 L259.65,171.84 L256.70,168.89 Z" fill="none" stroke="#46267a" stroke-width="1.45" stroke-linejoin="miter"/>
<path d="M272.65,163.48 L275.60,166.43 L272.65,169.38 L269.70,166.43 Z" fill="none" stroke="#46267a" stroke-width="1.45" stroke-linejoin="miter"/>
<path d="M285.65,178.98 L288.60,181.93 L285.65,184.88 L282.70,181.93 Z" fill="none" stroke="#46267a" stroke-width="1.45" stroke-linejoin="miter"/>
<path d="M285.65,180.58 L288.60,183.53 L285.65,186.47 L282.70,183.53 Z" fill="none" stroke="#46267a" stroke-width="1.45" stroke-linejoin="miter"/>
<path d="M298.65,191.89 L301.60,194.84 L298.65,197.79 L295.70,194.84 Z" fill="none" stroke="#46267a" stroke-width="1.45" stroke-linejoin="miter"/>
<path d="M311.65,208.25 L314.60,211.20 L311.65,214.15 L308.70,211.20 Z" fill="none" stroke="#46267a" stroke-width="1.45" stroke-linejoin="miter"/>
<path d="M324.65,219.44 L327.60,222.39 L324.65,225.34 L321.70,222.39 Z" fill="none" stroke="#46267a" stroke-width="1.45" stroke-linejoin="miter"/>
<path d="M324.65,221.04 L327.60,223.99 L324.65,226.94 L321.70,223.99 Z" fill="none" stroke="#46267a" stroke-width="1.45" stroke-linejoin="miter"/>
<g>
<rect x="349.4" y="209.5" width="29.2" height="28.6" fill="#fff" stroke="#6a6a78" stroke-width="0.7"/>
<clipPath id="ci349"><rect x="349.4" y="209.5" width="29.2" height="28.6"/></clipPath>
<g clip-path="url(#ci349)" filter="url(#blur1)">
<path d="M363.0,218.0 Q369,215.0 375.2,217.0 Q376.6,221 376.0,226.0 Q377.0,230 375.6,233.0 Q372,234.8 366.0,234.2 L356.0,233.2 Q353.0,232.2 353.6,230.4 Q354.8,228.6 358.0,228.6 L365.0,228.6 Q364.6,226 363.6,224.0 Q361.6,221 363.0,218.0 Z" fill="#1d1ca6" stroke="#1d1ca6" stroke-width="0.8" stroke-linejoin="round"/>
<path d="M357.4,219.0 Q359.6,217.8 361.0,219.4 L359.2,222.0 Q357.6,221.2 357.4,219.0 Z" fill="#1d1ca6" stroke="#1d1ca6" stroke-width="0.6" stroke-linejoin="round"/>
<ellipse cx="371.6" cy="221.2" rx="3.2" ry="3.0" fill="#3f6ee0" transform="rotate(0 371.6 221.2)"/>
<ellipse cx="372.4" cy="221.6" rx="1.8" ry="2.0" fill="#6a9af0" transform="rotate(0 372.4 221.6)"/>
<path d="M355.6,230.6 Q364,229.4 374.6,228.8 Q375.8,231 374.4,233.0 Q364,233.4 355.6,231.6 Z" fill="#28b8c0"/>
<path d="M357.6,231.0 Q365,230.0 374.0,229.6 Q374.8,231 373.6,232.4 Q365,232.6 357.6,231.4 Z" fill="#5ace48"/>
<ellipse cx="372.2" cy="230.4" rx="2.6" ry="1.7" fill="#f2c81a" transform="rotate(0 372.2 230.4)"/>
<ellipse cx="372.6" cy="230.2" rx="1.4" ry="1.0" fill="#ee4a1a" transform="rotate(0 372.6 230.2)"/>
</g>
<line x1="365.8" y1="209.5" x2="365.8" y2="238.1" stroke="#2e1a26" stroke-width="0.8"/>
<line x1="349.4" y1="225.1" x2="378.59999999999997" y2="225.1" stroke="#2e1a26" stroke-width="0.9"/>
<text x="0.00" y="0.00" font-size="4.6" fill="#2a2a2a" text-anchor="middle" font-weight="bold" transform="translate(347.40,224.30) rotate(-90) scale(0.86,1)">NKG2C</text>
<text x="0.00" y="0.00" font-size="4.6" fill="#2a2a2a" text-anchor="middle" font-weight="bold" transform="translate(364.40,243.60) scale(0.86,1)">NKG2A</text>
</g>
<path d="M339.4,159.9 L339.4,246.5 L432.4,246.5" fill="none" stroke="#1c1c1c" stroke-width="1.15"/>
<line x1="336.4" y1="246.5" x2="339.4" y2="246.5" stroke="#1c1c1c" stroke-width="1.0"/>
<line x1="336.2" y1="246.50" x2="339.4" y2="246.50" stroke="#1c1c1c" stroke-width="1.1"/>
<line x1="336.2" y1="224.97" x2="339.4" y2="224.97" stroke="#1c1c1c" stroke-width="1.1"/>
<line x1="336.2" y1="203.45" x2="339.4" y2="203.45" stroke="#1c1c1c" stroke-width="1.1"/>
<line x1="336.2" y1="181.93" x2="339.4" y2="181.93" stroke="#1c1c1c" stroke-width="1.1"/>
<line x1="336.2" y1="160.40" x2="339.4" y2="160.40" stroke="#1c1c1c" stroke-width="1.1"/>
<line x1="358.10" y1="246.5" x2="358.10" y2="249.7" stroke="#1c1c1c" stroke-width="1.1"/>
<text x="358.10" y="258.20" font-size="6.0" fill="#333" text-anchor="middle" stroke="#333" stroke-width="0.22">0.01</text>
<line x1="366.29" y1="246.5" x2="366.29" y2="247.9" stroke="#1c1c1c" stroke-width="0.7"/>
<line x1="371.08" y1="246.5" x2="371.08" y2="247.9" stroke="#1c1c1c" stroke-width="0.7"/>
<line x1="374.48" y1="246.5" x2="374.48" y2="247.9" stroke="#1c1c1c" stroke-width="0.7"/>
<line x1="377.11" y1="246.5" x2="377.11" y2="247.9" stroke="#1c1c1c" stroke-width="0.7"/>
<line x1="379.27" y1="246.5" x2="379.27" y2="247.9" stroke="#1c1c1c" stroke-width="0.7"/>
<line x1="381.09" y1="246.5" x2="381.09" y2="247.9" stroke="#1c1c1c" stroke-width="0.7"/>
<line x1="382.66" y1="246.5" x2="382.66" y2="247.9" stroke="#1c1c1c" stroke-width="0.7"/>
<line x1="384.06" y1="246.5" x2="384.06" y2="247.9" stroke="#1c1c1c" stroke-width="0.7"/>
<line x1="385.30" y1="246.5" x2="385.30" y2="249.7" stroke="#1c1c1c" stroke-width="1.1"/>
<text x="385.60" y="258.20" font-size="6.0" fill="#333" text-anchor="middle" stroke="#333" stroke-width="0.22">0.1</text>
<line x1="393.49" y1="246.5" x2="393.49" y2="247.9" stroke="#1c1c1c" stroke-width="0.7"/>
<line x1="398.28" y1="246.5" x2="398.28" y2="247.9" stroke="#1c1c1c" stroke-width="0.7"/>
<line x1="401.68" y1="246.5" x2="401.68" y2="247.9" stroke="#1c1c1c" stroke-width="0.7"/>
<line x1="404.31" y1="246.5" x2="404.31" y2="247.9" stroke="#1c1c1c" stroke-width="0.7"/>
<line x1="406.47" y1="246.5" x2="406.47" y2="247.9" stroke="#1c1c1c" stroke-width="0.7"/>
<line x1="408.29" y1="246.5" x2="408.29" y2="247.9" stroke="#1c1c1c" stroke-width="0.7"/>
<line x1="409.86" y1="246.5" x2="409.86" y2="247.9" stroke="#1c1c1c" stroke-width="0.7"/>
<line x1="411.26" y1="246.5" x2="411.26" y2="247.9" stroke="#1c1c1c" stroke-width="0.7"/>
<line x1="412.50" y1="246.5" x2="412.50" y2="249.7" stroke="#1c1c1c" stroke-width="1.1"/>
<text x="412.80" y="258.20" font-size="6.0" fill="#333" text-anchor="middle" stroke="#333" stroke-width="0.22">1</text>
<line x1="420.69" y1="246.5" x2="420.69" y2="247.9" stroke="#1c1c1c" stroke-width="0.7"/>
<line x1="425.48" y1="246.5" x2="425.48" y2="247.9" stroke="#1c1c1c" stroke-width="0.7"/>
<line x1="428.88" y1="246.5" x2="428.88" y2="247.9" stroke="#1c1c1c" stroke-width="0.7"/>
<line x1="431.51" y1="246.5" x2="431.51" y2="247.9" stroke="#1c1c1c" stroke-width="0.7"/>
<line x1="343.88" y1="246.5" x2="343.88" y2="247.9" stroke="#1c1c1c" stroke-width="0.7"/>
<line x1="347.28" y1="246.5" x2="347.28" y2="247.9" stroke="#1c1c1c" stroke-width="0.7"/>
<line x1="349.91" y1="246.5" x2="349.91" y2="247.9" stroke="#1c1c1c" stroke-width="0.7"/>
<line x1="352.07" y1="246.5" x2="352.07" y2="247.9" stroke="#1c1c1c" stroke-width="0.7"/>
<line x1="353.89" y1="246.5" x2="353.89" y2="247.9" stroke="#1c1c1c" stroke-width="0.7"/>
<line x1="355.46" y1="246.5" x2="355.46" y2="247.9" stroke="#1c1c1c" stroke-width="0.7"/>
<line x1="356.86" y1="246.5" x2="356.86" y2="247.9" stroke="#1c1c1c" stroke-width="0.7"/>
<line x1="339.4" y1="246.5" x2="339.4" y2="249.7" stroke="#1c1c1c" stroke-width="1.1"/>
<text x="339.40" y="258.20" font-size="6.0" fill="#333" text-anchor="middle" stroke="#333" stroke-width="0.22">0</text>
<text x="386.20" y="150.90" font-size="8.0" fill="#333" text-anchor="middle"><tspan fill="#f28c28" stroke="#f28c28" stroke-width="0.2">NK Donor 5</tspan><tspan fill="#2a2a2a" stroke="#2a2a2a" stroke-width="0.2"> (2A</tspan><tspan fill="#2a2a2a" dy="-2.6" font-size="4.2">dom</tspan><tspan fill="#2a2a2a" stroke="#2a2a2a" stroke-width="0.2" dy="2.6">)</tspan></text>
<path d="M339.40,160.40 C341.07,160.69 345.90,160.90 349.40,162.12 C352.90,163.34 356.40,164.56 360.40,167.72 C364.40,170.88 369.07,175.11 373.40,181.06 C377.73,187.02 382.07,195.84 386.40,203.45 C390.73,211.06 395.07,220.53 399.40,226.70 C403.73,232.87 408.73,237.53 412.40,240.47 C416.07,243.41 419.07,243.49 421.40,244.35 C423.73,245.21 425.57,245.42 426.40,245.64" fill="none" stroke="#f6c61c" stroke-width="1.5" stroke-linecap="round"/>
<path d="M339.40,160.40 C341.07,160.69 345.90,161.12 349.40,162.12 C352.90,163.13 356.40,164.71 360.40,166.43 C364.40,168.15 369.07,170.16 373.40,172.45 C377.73,174.75 382.07,177.62 386.40,180.20 C390.73,182.79 395.07,185.37 399.40,187.95 C403.73,190.53 407.83,192.97 412.40,195.70 C416.97,198.43 424.40,202.88 426.80,204.31" fill="none" stroke="#2fb344" stroke-width="1.5" stroke-linecap="round"/>
<path d="M339.40,160.40 C341.07,160.76 345.90,161.33 349.40,162.55 C352.90,163.77 356.40,165.64 360.40,167.72 C364.40,169.80 369.07,172.53 373.40,175.04 C377.73,177.55 382.07,180.27 386.40,182.79 C390.73,185.30 395.07,187.66 399.40,190.10 C403.73,192.54 407.83,194.77 412.40,197.42 C416.97,200.08 424.40,204.60 426.80,206.03" fill="none" stroke="#e5147f" stroke-width="1.5" stroke-linecap="round"/>
<path d="M339.40,160.40 C341.07,160.74 345.90,161.36 349.40,162.47 C352.90,163.57 356.40,164.48 360.40,167.03 C364.40,169.58 369.07,172.80 373.40,177.79 C377.73,182.79 382.07,190.06 386.40,196.99 C390.73,203.92 395.07,212.85 399.40,219.38 C403.73,225.91 408.73,232.28 412.40,236.17 C416.07,240.06 419.00,241.22 421.40,242.71 C423.80,244.20 425.90,244.72 426.80,245.12" fill="none" stroke="#46267a" stroke-width="1.5" stroke-linecap="round"/>
<path d="M339.40,160.40 C341.07,160.66 345.90,161.09 349.40,161.95 C352.90,162.81 356.40,163.36 360.40,165.57 C364.40,167.78 369.07,170.62 373.40,175.21 C377.73,179.80 382.07,186.40 386.40,193.12 C390.73,199.83 395.07,208.73 399.40,215.50 C403.73,222.28 408.73,229.45 412.40,233.76 C416.07,238.06 419.00,239.55 421.40,241.33 C423.80,243.11 425.90,243.92 426.80,244.43" fill="none" stroke="#3b4266" stroke-width="1.5" stroke-linecap="round"/>
<path d="M339.40,157.45 L342.35,160.40 L339.40,163.35 L336.45,160.40 Z" fill="none" stroke="#f6c61c" stroke-width="1.45" stroke-linejoin="miter"/>
<path d="M360.55,168.64 L363.50,171.59 L360.55,174.54 L357.60,171.59 Z" fill="none" stroke="#f6c61c" stroke-width="1.45" stroke-linejoin="miter"/>
<path d="M360.55,170.24 L363.50,173.19 L360.55,176.14 L357.60,173.19 Z" fill="none" stroke="#f6c61c" stroke-width="1.45" stroke-linejoin="miter"/>
<path d="M373.55,178.98 L376.50,181.93 L373.55,184.88 L370.60,181.93 Z" fill="none" stroke="#f6c61c" stroke-width="1.45" stroke-linejoin="miter"/>
<path d="M386.55,203.08 L389.50,206.03 L386.55,208.98 L383.60,206.03 Z" fill="none" stroke="#f6c61c" stroke-width="1.45" stroke-linejoin="miter"/>
<path d="M386.55,204.68 L389.50,207.63 L386.55,210.58 L383.60,207.63 Z" fill="none" stroke="#f6c61c" stroke-width="1.45" stroke-linejoin="miter"/>
<path d="M399.55,226.33 L402.50,229.28 L399.55,232.23 L396.60,229.28 Z" fill="none" stroke="#f6c61c" stroke-width="1.45" stroke-linejoin="miter"/>
<path d="M412.55,241.83 L415.50,244.78 L412.55,247.73 L409.60,244.78 Z" fill="none" stroke="#f6c61c" stroke-width="1.45" stroke-linejoin="miter"/>
<path d="M425.55,242.69 L428.50,245.64 L425.55,248.59 L422.60,245.64 Z" fill="none" stroke="#f6c61c" stroke-width="1.45" stroke-linejoin="miter"/>
<path d="M425.55,244.29 L428.50,247.24 L425.55,250.19 L422.60,247.24 Z" fill="none" stroke="#f6c61c" stroke-width="1.45" stroke-linejoin="miter"/>
<path d="M339.40,163.70 L342.40,158.10 L336.40,158.10 Z" fill="none" stroke="#2fb344" stroke-width="1.45" stroke-linejoin="miter"/>
<path d="M360.55,174.03 L363.55,168.43 L357.55,168.43 Z" fill="none" stroke="#2fb344" stroke-width="1.45" stroke-linejoin="miter"/>
<path d="M360.55,175.63 L363.55,170.03 L357.55,170.03 Z" fill="none" stroke="#2fb344" stroke-width="1.45" stroke-linejoin="miter"/>
<path d="M373.55,168.01 L376.55,162.41 L370.55,162.41 Z" fill="none" stroke="#2fb344" stroke-width="1.45" stroke-linejoin="miter"/>
<path d="M386.55,182.64 L389.55,177.04 L383.55,177.04 Z" fill="none" stroke="#2fb344" stroke-width="1.45" stroke-linejoin="miter"/>
<path d="M386.55,184.24 L389.55,178.64 L383.55,178.64 Z" fill="none" stroke="#2fb344" stroke-width="1.45" stroke-linejoin="miter"/>
<path d="M399.55,191.25 L402.55,185.65 L396.55,185.65 Z" fill="none" stroke="#2fb344" stroke-width="1.45" stroke-linejoin="miter"/>
<path d="M412.55,192.97 L415.55,187.37 L409.55,187.37 Z" fill="none" stroke="#2fb344" stroke-width="1.45" stroke-linejoin="miter"/>
<path d="M425.55,208.47 L428.55,202.87 L422.55,202.87 Z" fill="none" stroke="#2fb344" stroke-width="1.45" stroke-linejoin="miter"/>
<path d="M425.55,210.07 L428.55,204.47 L422.55,204.47 Z" fill="none" stroke="#2fb344" stroke-width="1.45" stroke-linejoin="miter"/>
<path d="M339.40,157.10 L342.40,162.70 L336.40,162.70 Z" fill="none" stroke="#e5147f" stroke-width="1.45" stroke-linejoin="miter"/>
<path d="M360.55,167.43 L363.55,173.03 L357.55,173.03 Z" fill="none" stroke="#e5147f" stroke-width="1.45" stroke-linejoin="miter"/>
<path d="M360.55,169.03 L363.55,174.63 L357.55,174.63 Z" fill="none" stroke="#e5147f" stroke-width="1.45" stroke-linejoin="miter"/>
<path d="M373.55,172.60 L376.55,178.20 L370.55,178.20 Z" fill="none" stroke="#e5147f" stroke-width="1.45" stroke-linejoin="miter"/>
<path d="M386.55,182.93 L389.55,188.53 L383.55,188.53 Z" fill="none" stroke="#e5147f" stroke-width="1.45" stroke-linejoin="miter"/>
<path d="M386.55,184.53 L389.55,190.13 L383.55,190.13 Z" fill="none" stroke="#e5147f" stroke-width="1.45" stroke-linejoin="miter"/>
<path d="M399.55,187.23 L402.55,192.84 L396.55,192.84 Z" fill="none" stroke="#e5147f" stroke-width="1.45" stroke-linejoin="miter"/>
<path d="M412.55,188.96 L415.55,194.56 L409.55,194.56 Z" fill="none" stroke="#e5147f" stroke-width="1.45" stroke-linejoin="miter"/>
<path d="M425.55,202.73 L428.55,208.33 L422.55,208.33 Z" fill="none" stroke="#e5147f" stroke-width="1.45" stroke-linejoin="miter"/>
<path d="M425.55,204.33 L428.55,209.93 L422.55,209.93 Z" fill="none" stroke="#e5147f" stroke-width="1.45" stroke-linejoin="miter"/>
<path d="M339.40,157.45 L342.35,160.40 L339.40,163.35 L336.45,160.40 Z" fill="none" stroke="#46267a" stroke-width="1.45" stroke-linejoin="miter"/>
<path d="M360.55,167.78 L363.50,170.73 L360.55,173.68 L357.60,170.73 Z" fill="none" stroke="#46267a" stroke-width="1.45" stroke-linejoin="miter"/>
<path d="M360.55,169.38 L363.50,172.33 L360.55,175.28 L357.60,172.33 Z" fill="none" stroke="#46267a" stroke-width="1.45" stroke-linejoin="miter"/>
<path d="M373.55,172.09 L376.50,175.04 L373.55,177.99 L370.60,175.04 Z" fill="none" stroke="#46267a" stroke-width="1.45" stroke-linejoin="miter"/>
<path d="M386.55,194.47 L389.50,197.42 L386.55,200.37 L383.60,197.42 Z" fill="none" stroke="#46267a" stroke-width="1.45" stroke-linejoin="miter"/>
<path d="M386.55,196.07 L389.50,199.02 L386.55,201.97 L383.60,199.02 Z" fill="none" stroke="#46267a" stroke-width="1.45" stroke-linejoin="miter"/>
<path d="M399.55,212.55 L402.50,215.50 L399.55,218.45 L396.60,215.50 Z" fill="none" stroke="#46267a" stroke-width="1.45" stroke-linejoin="miter"/>
<path d="M412.55,234.08 L415.50,237.03 L412.55,239.98 L409.60,237.03 Z" fill="none" stroke="#46267a" stroke-width="1.45" stroke-linejoin="miter"/>
<path d="M425.55,241.83 L428.50,244.78 L425.55,247.73 L422.60,244.78 Z" fill="none" stroke="#46267a" stroke-width="1.45" stroke-linejoin="miter"/>
<path d="M425.55,243.43 L428.50,246.38 L425.55,249.33 L422.60,246.38 Z" fill="none" stroke="#46267a" stroke-width="1.45" stroke-linejoin="miter"/>
<circle cx="339.40" cy="160.40" r="2.75" fill="none" stroke="#3b4266" stroke-width="1.45"/>
<circle cx="360.55" cy="170.73" r="2.75" fill="none" stroke="#3b4266" stroke-width="1.45"/>
<circle cx="360.55" cy="172.33" r="2.75" fill="none" stroke="#3b4266" stroke-width="1.45"/>
<circle cx="373.55" cy="175.04" r="2.75" fill="none" stroke="#3b4266" stroke-width="1.45"/>
<circle cx="386.55" cy="194.84" r="2.75" fill="none" stroke="#3b4266" stroke-width="1.45"/>
<circle cx="386.55" cy="196.44" r="2.75" fill="none" stroke="#3b4266" stroke-width="1.45"/>
<circle cx="399.55" cy="214.64" r="2.75" fill="none" stroke="#3b4266" stroke-width="1.45"/>
<circle cx="412.55" cy="236.17" r="2.75" fill="none" stroke="#3b4266" stroke-width="1.45"/>
<circle cx="425.55" cy="244.78" r="2.75" fill="none" stroke="#3b4266" stroke-width="1.45"/>
<circle cx="425.55" cy="246.38" r="2.75" fill="none" stroke="#3b4266" stroke-width="1.45"/>
<text x="0.00" y="0.00" font-size="7.4" fill="#222" text-anchor="middle" transform="translate(114.90,201.30) rotate(-90) scale(0.765,1)" stroke="#222" stroke-width="0.28">T cell survival (%)</text>
<text x="448.80" y="163.00" font-size="5.9" fill="#333" text-anchor="start" stroke="#333" stroke-width="0.22">Target:</text>
<circle cx="442.80" cy="173.30" r="2.61" fill="none" stroke="#3b4266" stroke-width="1.25"/>
<text x="449.30" y="171.60" font-size="5.9" fill="#333" text-anchor="start" stroke="#333" stroke-width="0.22">No Cloak</text>
<text x="449.30" y="178.60" font-size="5.9" fill="#333" text-anchor="start" stroke="#333" stroke-width="0.22">(RQR8)</text>
<path d="M442.80,188.87 L445.65,194.18 L439.95,194.18 Z" fill="none" stroke="#e5147f" stroke-width="1.25" stroke-linejoin="miter"/>
<text x="449.30" y="189.60" font-size="5.9" fill="#333" text-anchor="start" stroke="#333" stroke-width="0.22">CD300a</text>
<text x="449.30" y="196.60" font-size="5.9" fill="#333" text-anchor="start" stroke="#333" stroke-width="0.22">TASR</text>
<path d="M442.80,205.20 L445.90,208.30 L442.80,211.40 L439.70,208.30 Z" fill="none" stroke="#46267a" stroke-width="1.25" stroke-linejoin="miter"/>
<text x="449.30" y="206.60" font-size="5.9" fill="#333" text-anchor="start" stroke="#333" stroke-width="0.22">CD47-</text>
<text x="449.30" y="213.60" font-size="5.9" fill="#333" text-anchor="start" stroke="#333" stroke-width="0.22">2A-RQR8</text>
<path d="M442.80,223.10 L445.90,226.20 L442.80,229.30 L439.70,226.20 Z" fill="none" stroke="#f6c61c" stroke-width="1.25" stroke-linejoin="miter"/>
<text x="449.30" y="224.00" font-size="5.9" fill="#333" text-anchor="start" stroke="#333" stroke-width="0.22">SIRPα</text>
<text x="449.30" y="231.00" font-size="5.9" fill="#333" text-anchor="start" stroke="#333" stroke-width="0.22">Engager</text>
<path d="M442.80,243.93 L445.65,238.62 L439.95,238.62 Z" fill="none" stroke="#2fb344" stroke-width="1.25" stroke-linejoin="miter"/>
<text x="449.30" y="243.40" font-size="5.9" fill="#333" text-anchor="start" stroke="#333" stroke-width="0.22">HLA-E</text>
<text x="0.00" y="0.00" font-size="7.0" fill="#222" text-anchor="middle" transform="translate(284.60,268.80) scale(0.8,1)" stroke="#1c1c1c" stroke-width="0.4">E:T ratio</text>
<text x="63.60" y="284.20" font-size="5.9" fill="#333" text-anchor="middle" stroke="#333" stroke-width="0.22">Allo-T + NK Competition</text>
<line x1="35.6" y1="310.0" x2="39.0" y2="308.4" stroke="#111" stroke-width="1.2"/>
<g transform="translate(29.2,313.8) rotate(-25)">
<rect x="-6.5" y="-5.5" width="6.2" height="5.2" rx="1.3" fill="#2767b0" stroke="#0a1a34" stroke-width="1.3"/>
<rect x="0.3" y="-5.5" width="6.2" height="5.2" rx="1.3" fill="#2767b0" stroke="#0a1a34" stroke-width="1.3"/>
<rect x="-6.5" y="0.3" width="6.2" height="5.2" rx="1.3" fill="#2767b0" stroke="#0a1a34" stroke-width="1.3"/>
<rect x="0.3" y="0.3" width="6.2" height="5.2" rx="1.3" fill="#2767b0" stroke="#0a1a34" stroke-width="1.3"/>
<path d="M-7.8,-1.7 L-4.6,0 L-7.8,1.7 Z" fill="#fff"/>
</g>
<circle cx="49.7" cy="304.3" r="12.7" fill="#6f9a4c" stroke="#25401a" stroke-width="1.6"/>
<radialGradient id="rg3"><stop offset="0" stop-color="#cdeab4"/><stop offset="0.5" stop-color="#cdeab4"/><stop offset="1" stop-color="#cdeab4" stop-opacity="0"/></radialGradient>
<circle cx="50.5" cy="305.3" r="11.0" fill="url(#rg3)"/>
<text x="50.10" y="306.50" font-size="5.8" fill="#4e5e42" text-anchor="middle" stroke="#4e5e42" stroke-width="0.22">Allo-T</text>
<circle cx="78.8" cy="304.2" r="12.8" fill="#f0843a" stroke="#4a2410" stroke-width="1.6"/>
<radialGradient id="rg4"><stop offset="0" stop-color="#f8c39b"/><stop offset="0.5" stop-color="#f8c39b"/><stop offset="1" stop-color="#f8c39b" stop-opacity="0"/></radialGradient>
<circle cx="80.39999999999999" cy="305.9" r="10.6" fill="url(#rg4)"/>
<text x="80.40" y="304.70" font-size="5.9" fill="#5e3a22" text-anchor="middle" stroke="#5e3a22" stroke-width="0.22">NK</text>
<text x="80.40" y="311.30" font-size="5.9" fill="#5e3a22" text-anchor="middle" stroke="#5e3a22" stroke-width="0.22">Cell</text>
<text x="58.80" y="331.80" font-size="5.9" fill="#333" text-anchor="middle" stroke="#333" stroke-width="0.22">HLA-A2– Effectors (E)</text>
<path d="M104.2,304.8 Q109.1,304.8 109.1,309.8 L109.1,328.8 Q109.1,333.8 113.6,333.8 Q109.1,333.8 109.1,338.8 L109.1,358.0 Q109.1,363.0 104.2,363.0" fill="none" stroke="#1a1a1a" stroke-width="1.45"/>
<line x1="113.1" y1="333.8" x2="126.80000000000001" y2="333.8" stroke="#1a1a1a" stroke-width="1.45"/>
<path d="M128.8,333.8 L125.4,332.0 L125.4,335.6 Z" fill="#1a1a1a"/>
<text x="119.20" y="322.90" font-size="5.6" fill="#333" text-anchor="middle" stroke="#333" stroke-width="0.22">20</text>
<text x="119.20" y="330.20" font-size="5.6" fill="#333" text-anchor="middle" stroke="#333" stroke-width="0.22">hours</text>
<g transform="translate(18.700000000000003,356.6) scale(0.57) translate(-41.8,-249.8)">
<path d="M32.6,245.6 L40.6,246.6 L47.2,240.6 L48.2,247.4 L43.6,250.4 L41.4,254.0 L36.0,259.0 L36.6,252.6 L33.4,250.4 Z" fill="#161c1c" stroke="#0a0a0a" stroke-width="2.2" stroke-linejoin="round"/>
<path d="M41.0,247.6 L46.4,243.4 L46.8,247.0 L43.2,249.4 Z" fill="#1f4a44"/>
<ellipse cx="46.0" cy="252.9" rx="4.6" ry="2.6" fill="#5a1418" stroke="#0a0a0a" stroke-width="1.6" transform="rotate(-6 46 252.9)"/>
<path d="M30.6,245.2 L53.0,254.4 M47.2,239.4 L35.4,260.0" stroke="#0a0a0a" stroke-width="2.4" stroke-linecap="round" fill="none"/>
</g>
<circle cx="32.7" cy="351.0" r="7.9" fill="#748ad2" stroke="#16224f" stroke-width="1.4"/>
<circle cx="33.300000000000004" cy="351.8" r="5.6" fill="#94a6e0"/>
<line x1="51.9" y1="346.6" x2="54.9" y2="348.2" stroke="#111" stroke-width="1.1"/>
<g transform="translate(47.9,345.0) rotate(33)">
<rect x="-3.7" y="-4.4" width="7.4" height="4.2" rx="1.1" fill="#cc1c20" stroke="#111" stroke-width="1.3"/>
<rect x="-3.7" y="0.19999999999999973" width="7.4" height="4.2" rx="1.1" fill="#cc1c20" stroke="#111" stroke-width="1.3"/>
</g>
<g transform="translate(47.9,356.6) scale(0.57) translate(-41.8,-249.8)">
<path d="M32.6,245.6 L40.6,246.6 L47.2,240.6 L48.2,247.4 L43.6,250.4 L41.4,254.0 L36.0,259.0 L36.6,252.6 L33.4,250.4 Z" fill="#161c1c" stroke="#0a0a0a" stroke-width="2.2" stroke-linejoin="round"/>
<path d="M41.0,247.6 L46.4,243.4 L46.8,247.0 L43.2,249.4 Z" fill="#1f4a44"/>
<ellipse cx="46.0" cy="252.9" rx="4.6" ry="2.6" fill="#5a1418" stroke="#0a0a0a" stroke-width="1.6" transform="rotate(-6 46 252.9)"/>
<path d="M30.6,245.2 L53.0,254.4 M47.2,239.4 L35.4,260.0" stroke="#0a0a0a" stroke-width="2.4" stroke-linecap="round" fill="none"/>
</g>
<circle cx="61.9" cy="351.0" r="7.9" fill="#748ad2" stroke="#16224f" stroke-width="1.4"/>
<circle cx="62.5" cy="351.8" r="5.6" fill="#94a6e0"/>
<line x1="81.3" y1="346.6" x2="84.3" y2="348.2" stroke="#111" stroke-width="1.1"/>
<g transform="translate(77.3,345.0) rotate(33)">
<rect x="-3.7" y="-4.4" width="7.4" height="4.2" rx="1.1" fill="#d2ac1c" stroke="#111" stroke-width="1.3"/>
<rect x="-3.7" y="0.19999999999999973" width="7.4" height="4.2" rx="1.1" fill="#d2ac1c" stroke="#111" stroke-width="1.3"/>
</g>
<g transform="translate(77.3,356.6) scale(0.57) translate(-41.8,-249.8)">
<path d="M32.6,245.6 L40.6,246.6 L47.2,240.6 L48.2,247.4 L43.6,250.4 L41.4,254.0 L36.0,259.0 L36.6,252.6 L33.4,250.4 Z" fill="#161c1c" stroke="#0a0a0a" stroke-width="2.2" stroke-linejoin="round"/>
<path d="M41.0,247.6 L46.4,243.4 L46.8,247.0 L43.2,249.4 Z" fill="#1f4a44"/>
<ellipse cx="46.0" cy="252.9" rx="4.6" ry="2.6" fill="#5a1418" stroke="#0a0a0a" stroke-width="1.6" transform="rotate(-6 46 252.9)"/>
<path d="M30.6,245.2 L53.0,254.4 M47.2,239.4 L35.4,260.0" stroke="#0a0a0a" stroke-width="2.4" stroke-linecap="round" fill="none"/>
</g>
<circle cx="91.3" cy="351.0" r="7.9" fill="#748ad2" stroke="#16224f" stroke-width="1.4"/>
<circle cx="91.89999999999999" cy="351.8" r="5.6" fill="#94a6e0"/>
<line x1="22.700000000000003" y1="368.8" x2="25.700000000000003" y2="370.4" stroke="#111" stroke-width="1.1"/>
<g transform="translate(18.700000000000003,367.2) rotate(33)">
<rect x="-3.7" y="-4.4" width="7.4" height="4.2" rx="1.1" fill="#1c8c80" stroke="#111" stroke-width="1.3"/>
<rect x="-3.7" y="0.19999999999999973" width="7.4" height="4.2" rx="1.1" fill="#1c8c80" stroke="#111" stroke-width="1.3"/>
</g>
<g transform="translate(18.700000000000003,378.8) scale(0.57) translate(-41.8,-249.8)">
<path d="M32.6,245.6 L40.6,246.6 L47.2,240.6 L48.2,247.4 L43.6,250.4 L41.4,254.0 L36.0,259.0 L36.6,252.6 L33.4,250.4 Z" fill="#161c1c" stroke="#0a0a0a" stroke-width="2.2" stroke-linejoin="round"/>
<path d="M41.0,247.6 L46.4,243.4 L46.8,247.0 L43.2,249.4 Z" fill="#1f4a44"/>
<ellipse cx="46.0" cy="252.9" rx="4.6" ry="2.6" fill="#5a1418" stroke="#0a0a0a" stroke-width="1.6" transform="rotate(-6 46 252.9)"/>
<path d="M30.6,245.2 L53.0,254.4 M47.2,239.4 L35.4,260.0" stroke="#0a0a0a" stroke-width="2.4" stroke-linecap="round" fill="none"/>
</g>
<circle cx="32.7" cy="373.2" r="7.9" fill="#748ad2" stroke="#16224f" stroke-width="1.4"/>
<circle cx="33.300000000000004" cy="374.0" r="5.6" fill="#94a6e0"/>
<line x1="51.9" y1="368.8" x2="54.9" y2="370.4" stroke="#111" stroke-width="1.1"/>
<g transform="translate(47.9,367.2) rotate(33)">
<rect x="-3.7" y="-4.4" width="7.4" height="4.2" rx="1.1" fill="#6a32a0" stroke="#111" stroke-width="1.3"/>
<rect x="-3.7" y="0.19999999999999973" width="7.4" height="4.2" rx="1.1" fill="#6a32a0" stroke="#111" stroke-width="1.3"/>
</g>
<g transform="translate(47.9,378.8) scale(0.57) translate(-41.8,-249.8)">
<path d="M32.6,245.6 L40.6,246.6 L47.2,240.6 L48.2,247.4 L43.6,250.4 L41.4,254.0 L36.0,259.0 L36.6,252.6 L33.4,250.4 Z" fill="#161c1c" stroke="#0a0a0a" stroke-width="2.2" stroke-linejoin="round"/>
<path d="M41.0,247.6 L46.4,243.4 L46.8,247.0 L43.2,249.4 Z" fill="#1f4a44"/>
<ellipse cx="46.0" cy="252.9" rx="4.6" ry="2.6" fill="#5a1418" stroke="#0a0a0a" stroke-width="1.6" transform="rotate(-6 46 252.9)"/>
<path d="M30.6,245.2 L53.0,254.4 M47.2,239.4 L35.4,260.0" stroke="#0a0a0a" stroke-width="2.4" stroke-linecap="round" fill="none"/>
</g>
<circle cx="61.9" cy="373.2" r="7.9" fill="#748ad2" stroke="#16224f" stroke-width="1.4"/>
<circle cx="62.5" cy="374.0" r="5.6" fill="#94a6e0"/>
<line x1="80.3" y1="377.4" x2="84.3" y2="376.2" stroke="#111" stroke-width="1.1"/>
<g transform="translate(75.7,379.2) rotate(-8)"><rect x="-4.4" y="-3.8" width="8.8" height="7.6" rx="1.6" fill="#1f5f9c" stroke="#0c1a2c" stroke-width="1.2"/><rect x="-3.4" y="-2.6" width="6.8" height="2.2" rx="0.8" fill="#2aa0c8"/><rect x="-1.0" y="0.2" width="4.8" height="2.6" rx="1.2" fill="#e0202a"/></g>
<circle cx="91.3" cy="373.2" r="7.9" fill="#748ad2" stroke="#16224f" stroke-width="1.4"/>
<circle cx="91.89999999999999" cy="374.0" r="5.6" fill="#94a6e0"/>
<text x="58.80" y="394.20" font-size="5.9" fill="#333" text-anchor="middle" stroke="#333" stroke-width="0.22">HLA-A2+ Pooled T Cell</text>
<text x="58.80" y="401.60" font-size="5.9" fill="#333" text-anchor="middle" stroke="#333" stroke-width="0.22">Targets (T)</text>
<text x="54.00" y="422.40" font-size="6.1" fill="#333" text-anchor="start" stroke="#333" stroke-width="0.22">Target:</text>
<rect x="38.9" y="427.20" width="12.6" height="6.4" rx="0.8" fill="#4d5b70" stroke="#141414" stroke-width="1.2"/>
<text x="54.00" y="432.50" font-size="6.05" fill="#333" text-anchor="start" stroke="#333" stroke-width="0.22">No Cloak (RQR8)</text>
<rect x="38.9" y="439.62" width="12.6" height="6.4" rx="0.8" fill="#e8097f" stroke="#141414" stroke-width="1.2"/>
<text x="54.00" y="444.92" font-size="6.05" fill="#333" text-anchor="start" stroke="#333" stroke-width="0.22">CD300a TASR</text>
<rect x="38.9" y="452.04" width="12.6" height="6.4" rx="0.8" fill="#4d2669" stroke="#141414" stroke-width="1.2"/>
<text x="54.00" y="457.34" font-size="6.05" fill="#333" text-anchor="start" stroke="#333" stroke-width="0.22">CD47-2A-RQR8</text>
<rect x="38.9" y="464.46" width="12.6" height="6.4" rx="0.8" fill="#fdc20f" stroke="#141414" stroke-width="1.2"/>
<text x="54.00" y="469.76" font-size="6.05" fill="#333" text-anchor="start" stroke="#333" stroke-width="0.22">SIRPα Engager</text>
<rect x="38.9" y="476.88" width="12.6" height="6.4" rx="0.8" fill="#3aae3a" stroke="#141414" stroke-width="1.2"/>
<text x="54.00" y="482.18" font-size="6.05" fill="#333" text-anchor="start" stroke="#333" stroke-width="0.22">HLA-E</text>
<rect x="38.9" y="489.30" width="12.6" height="6.4" rx="0.8" fill="#a6a6a6" stroke="#141414" stroke-width="1.2"/>
<text x="54.00" y="494.60" font-size="6.05" fill="#333" text-anchor="start" stroke="#333" stroke-width="0.22">HLA-I+ (GFP)</text>
<path d="M152.6,298.2 L152.6,372.8 L229.0,372.8" fill="none" stroke="#1c1c1c" stroke-width="1.15"/>
<line x1="149.4" y1="372.80" x2="152.6" y2="372.80" stroke="#1c1c1c" stroke-width="1.1"/>
<text x="146.60" y="374.95" font-size="6.0" fill="#333" text-anchor="end" stroke="#333" stroke-width="0.22">0</text>
<line x1="149.4" y1="354.90" x2="152.6" y2="354.90" stroke="#1c1c1c" stroke-width="1.1"/>
<text x="146.60" y="357.05" font-size="6.0" fill="#333" text-anchor="end" stroke="#333" stroke-width="0.22">25</text>
<line x1="149.4" y1="337.00" x2="152.6" y2="337.00" stroke="#1c1c1c" stroke-width="1.1"/>
<text x="146.60" y="339.15" font-size="6.0" fill="#333" text-anchor="end" stroke="#333" stroke-width="0.22">50</text>
<line x1="149.4" y1="319.10" x2="152.6" y2="319.10" stroke="#1c1c1c" stroke-width="1.1"/>
<text x="146.60" y="321.25" font-size="6.0" fill="#333" text-anchor="end" stroke="#333" stroke-width="0.22">75</text>
<line x1="149.4" y1="301.20" x2="152.6" y2="301.20" stroke="#1c1c1c" stroke-width="1.1"/>
<text x="146.60" y="303.35" font-size="6.0" fill="#333" text-anchor="end" stroke="#333" stroke-width="0.22">100</text>
<rect x="155.00" y="361.20" width="15.7" height="11.60" fill="#a6a6a6"/>
<rect x="155.00" y="345.95" width="15.7" height="15.25" fill="#3aae3a"/>
<rect x="155.00" y="336.79" width="15.7" height="9.16" fill="#fdc20f"/>
<rect x="155.00" y="328.26" width="15.7" height="8.52" fill="#4d2669"/>
<rect x="155.00" y="316.02" width="15.7" height="12.24" fill="#e8097f"/>
<rect x="155.00" y="301.20" width="15.7" height="14.82" fill="#4d5b70"/>
<path d="M155.40,361.45 Q162.85,360.75 170.30,361.45" fill="none" stroke="#0e0e0e" stroke-width="0.9"/>
<line x1="158.20" y1="361.10" x2="167.50" y2="361.10" stroke="#0e0e0e" stroke-width="1.3"/>
<path d="M155.40,346.20 Q162.85,345.50 170.30,346.20" fill="none" stroke="#0e0e0e" stroke-width="0.9"/>
<line x1="158.20" y1="345.85" x2="167.50" y2="345.85" stroke="#0e0e0e" stroke-width="1.3"/>
<path d="M155.40,337.04 Q162.85,336.34 170.30,337.04" fill="none" stroke="#0e0e0e" stroke-width="0.9"/>
<line x1="158.20" y1="336.69" x2="167.50" y2="336.69" stroke="#0e0e0e" stroke-width="1.3"/>
<path d="M155.40,328.51 Q162.85,327.81 170.30,328.51" fill="none" stroke="#0e0e0e" stroke-width="0.9"/>
<line x1="158.20" y1="328.16" x2="167.50" y2="328.16" stroke="#0e0e0e" stroke-width="1.3"/>
<path d="M155.40,316.27 Q162.85,315.57 170.30,316.27" fill="none" stroke="#0e0e0e" stroke-width="0.9"/>
<line x1="158.20" y1="315.92" x2="167.50" y2="315.92" stroke="#0e0e0e" stroke-width="1.3"/>
<path d="M155.40,301.45 Q162.85,300.75 170.30,301.45" fill="none" stroke="#0e0e0e" stroke-width="0.9"/>
<line x1="158.20" y1="301.10" x2="167.50" y2="301.10" stroke="#0e0e0e" stroke-width="1.3"/>
<rect x="155.00" y="301.20" width="15.7" height="71.60" fill="none" stroke="#1a1a1a" stroke-width="0.8"/>
<line x1="162.85" y1="372.8" x2="162.85" y2="375.6" stroke="#1c1c1c" stroke-width="0.9"/>
<text x="162.85" y="384.00" font-size="5.8" fill="#333" text-anchor="middle" stroke="#333" stroke-width="0.22">0</text>
<rect x="173.40" y="348.46" width="15.7" height="24.34" fill="#a6a6a6"/>
<rect x="173.40" y="328.05" width="15.7" height="20.41" fill="#3aae3a"/>
<rect x="173.40" y="327.55" width="15.7" height="0.50" fill="#fdc20f"/>
<rect x="173.40" y="322.68" width="15.7" height="4.87" fill="#4d2669"/>
<rect x="173.40" y="307.64" width="15.7" height="15.04" fill="#e8097f"/>
<rect x="173.40" y="301.20" width="15.7" height="6.44" fill="#4d5b70"/>
<path d="M173.80,348.71 Q181.25,348.01 188.70,348.71" fill="none" stroke="#0e0e0e" stroke-width="0.9"/>
<line x1="176.60" y1="348.36" x2="185.90" y2="348.36" stroke="#0e0e0e" stroke-width="1.3"/>
<path d="M173.80,328.30 Q181.25,327.60 188.70,328.30" fill="none" stroke="#0e0e0e" stroke-width="0.9"/>
<line x1="176.60" y1="327.95" x2="185.90" y2="327.95" stroke="#0e0e0e" stroke-width="1.3"/>
<path d="M173.80,327.80 Q181.25,327.10 188.70,327.80" fill="none" stroke="#0e0e0e" stroke-width="0.9"/>
<line x1="176.60" y1="327.45" x2="185.90" y2="327.45" stroke="#0e0e0e" stroke-width="1.3"/>
<path d="M173.80,322.93 Q181.25,322.23 188.70,322.93" fill="none" stroke="#0e0e0e" stroke-width="0.9"/>
<line x1="176.60" y1="322.58" x2="185.90" y2="322.58" stroke="#0e0e0e" stroke-width="1.3"/>
<path d="M173.80,307.89 Q181.25,307.19 188.70,307.89" fill="none" stroke="#0e0e0e" stroke-width="0.9"/>
<line x1="176.60" y1="307.54" x2="185.90" y2="307.54" stroke="#0e0e0e" stroke-width="1.3"/>
<path d="M173.80,301.45 Q181.25,300.75 188.70,301.45" fill="none" stroke="#0e0e0e" stroke-width="0.9"/>
<line x1="176.60" y1="301.10" x2="185.90" y2="301.10" stroke="#0e0e0e" stroke-width="1.3"/>
<rect x="173.40" y="301.20" width="15.7" height="71.60" fill="none" stroke="#1a1a1a" stroke-width="0.8"/>
<line x1="181.25" y1="372.8" x2="181.25" y2="375.6" stroke="#1c1c1c" stroke-width="0.9"/>
<text x="181.25" y="384.00" font-size="5.8" fill="#333" text-anchor="middle" stroke="#333" stroke-width="0.22">0.25</text>
<rect x="191.80" y="331.27" width="15.7" height="41.53" fill="#a6a6a6"/>
<rect x="191.80" y="318.81" width="15.7" height="12.46" fill="#3aae3a"/>
<rect x="191.80" y="318.53" width="15.7" height="0.29" fill="#fdc20f"/>
<rect x="191.80" y="318.03" width="15.7" height="0.50" fill="#4d2669"/>
<rect x="191.80" y="302.63" width="15.7" height="15.39" fill="#e8097f"/>
<rect x="191.80" y="301.20" width="15.7" height="1.43" fill="#4d5b70"/>
<path d="M192.20,331.52 Q199.65,330.82 207.10,331.52" fill="none" stroke="#0e0e0e" stroke-width="0.9"/>
<line x1="195.00" y1="331.17" x2="204.30" y2="331.17" stroke="#0e0e0e" stroke-width="1.3"/>
<path d="M192.20,319.06 Q199.65,318.36 207.10,319.06" fill="none" stroke="#0e0e0e" stroke-width="0.9"/>
<line x1="195.00" y1="318.71" x2="204.30" y2="318.71" stroke="#0e0e0e" stroke-width="1.3"/>
<path d="M192.20,318.78 Q199.65,318.08 207.10,318.78" fill="none" stroke="#0e0e0e" stroke-width="0.9"/>
<line x1="195.00" y1="318.43" x2="204.30" y2="318.43" stroke="#0e0e0e" stroke-width="1.3"/>
<path d="M192.20,318.28 Q199.65,317.58 207.10,318.28" fill="none" stroke="#0e0e0e" stroke-width="0.9"/>
<line x1="195.00" y1="317.93" x2="204.30" y2="317.93" stroke="#0e0e0e" stroke-width="1.3"/>
<path d="M192.20,302.88 Q199.65,302.18 207.10,302.88" fill="none" stroke="#0e0e0e" stroke-width="0.9"/>
<line x1="195.00" y1="302.53" x2="204.30" y2="302.53" stroke="#0e0e0e" stroke-width="1.3"/>
<path d="M192.20,301.45 Q199.65,300.75 207.10,301.45" fill="none" stroke="#0e0e0e" stroke-width="0.9"/>
<line x1="195.00" y1="301.10" x2="204.30" y2="301.10" stroke="#0e0e0e" stroke-width="1.3"/>
<rect x="191.80" y="301.20" width="15.7" height="71.60" fill="none" stroke="#1a1a1a" stroke-width="0.8"/>
<line x1="199.65" y1="372.8" x2="199.65" y2="375.6" stroke="#1c1c1c" stroke-width="0.9"/>
<text x="199.65" y="384.00" font-size="5.8" fill="#333" text-anchor="middle" stroke="#333" stroke-width="0.22">1</text>
<rect x="210.20" y="324.33" width="15.7" height="48.47" fill="#a6a6a6"/>
<rect x="210.20" y="321.25" width="15.7" height="3.08" fill="#3aae3a"/>
<rect x="210.20" y="321.03" width="15.7" height="0.21" fill="#fdc20f"/>
<rect x="210.20" y="320.68" width="15.7" height="0.36" fill="#4d2669"/>
<rect x="210.20" y="302.63" width="15.7" height="18.04" fill="#e8097f"/>
<rect x="210.20" y="301.20" width="15.7" height="1.43" fill="#4d5b70"/>
<path d="M210.60,324.58 Q218.05,323.88 225.50,324.58" fill="none" stroke="#0e0e0e" stroke-width="0.9"/>
<line x1="213.40" y1="324.23" x2="222.70" y2="324.23" stroke="#0e0e0e" stroke-width="1.3"/>
<path d="M210.60,321.50 Q218.05,320.80 225.50,321.50" fill="none" stroke="#0e0e0e" stroke-width="0.9"/>
<line x1="213.40" y1="321.15" x2="222.70" y2="321.15" stroke="#0e0e0e" stroke-width="1.3"/>
<path d="M210.60,321.28 Q218.05,320.58 225.50,321.28" fill="none" stroke="#0e0e0e" stroke-width="0.9"/>
<line x1="213.40" y1="320.93" x2="222.70" y2="320.93" stroke="#0e0e0e" stroke-width="1.3"/>
<path d="M210.60,320.93 Q218.05,320.23 225.50,320.93" fill="none" stroke="#0e0e0e" stroke-width="0.9"/>
<line x1="213.40" y1="320.58" x2="222.70" y2="320.58" stroke="#0e0e0e" stroke-width="1.3"/>
<path d="M210.60,302.88 Q218.05,302.18 225.50,302.88" fill="none" stroke="#0e0e0e" stroke-width="0.9"/>
<line x1="213.40" y1="302.53" x2="222.70" y2="302.53" stroke="#0e0e0e" stroke-width="1.3"/>
<path d="M210.60,301.45 Q218.05,300.75 225.50,301.45" fill="none" stroke="#0e0e0e" stroke-width="0.9"/>
<line x1="213.40" y1="301.10" x2="222.70" y2="301.10" stroke="#0e0e0e" stroke-width="1.3"/>
<rect x="210.20" y="301.20" width="15.7" height="71.60" fill="none" stroke="#1a1a1a" stroke-width="0.8"/>
<line x1="218.05" y1="372.8" x2="218.05" y2="375.6" stroke="#1c1c1c" stroke-width="0.9"/>
<text x="218.05" y="384.00" font-size="5.8" fill="#333" text-anchor="middle" stroke="#333" stroke-width="0.22">4</text>
<text x="190.80" y="283.10" font-size="8.0" fill="#f5a623" text-anchor="middle" stroke="#f5a623" stroke-width="0.2">+NK donor 6</text>
<text x="190.80" y="292.90" font-size="8.0" fill="#222222" text-anchor="middle" stroke="#222222" stroke-width="0.2">(2A<tspan dy="-2.3" font-size="4.1">dom</tspan><tspan dy="2.3">)</tspan></text>
<path d="M238.6,298.2 L238.6,372.8 L315.0,372.8" fill="none" stroke="#1c1c1c" stroke-width="1.15"/>
<line x1="235.4" y1="372.80" x2="238.6" y2="372.80" stroke="#1c1c1c" stroke-width="1.1"/>
<line x1="235.4" y1="354.90" x2="238.6" y2="354.90" stroke="#1c1c1c" stroke-width="1.1"/>
<line x1="235.4" y1="337.00" x2="238.6" y2="337.00" stroke="#1c1c1c" stroke-width="1.1"/>
<line x1="235.4" y1="319.10" x2="238.6" y2="319.10" stroke="#1c1c1c" stroke-width="1.1"/>
<line x1="235.4" y1="301.20" x2="238.6" y2="301.20" stroke="#1c1c1c" stroke-width="1.1"/>
<rect x="241.00" y="361.20" width="15.7" height="11.60" fill="#a6a6a6"/>
<rect x="241.00" y="345.95" width="15.7" height="15.25" fill="#3aae3a"/>
<rect x="241.00" y="336.79" width="15.7" height="9.16" fill="#fdc20f"/>
<rect x="241.00" y="328.26" width="15.7" height="8.52" fill="#4d2669"/>
<rect x="241.00" y="316.02" width="15.7" height="12.24" fill="#e8097f"/>
<rect x="241.00" y="301.20" width="15.7" height="14.82" fill="#4d5b70"/>
<path d="M241.40,361.45 Q248.85,360.75 256.30,361.45" fill="none" stroke="#0e0e0e" stroke-width="0.9"/>
<line x1="244.20" y1="361.10" x2="253.50" y2="361.10" stroke="#0e0e0e" stroke-width="1.3"/>
<path d="M241.40,346.20 Q248.85,345.50 256.30,346.20" fill="none" stroke="#0e0e0e" stroke-width="0.9"/>
<line x1="244.20" y1="345.85" x2="253.50" y2="345.85" stroke="#0e0e0e" stroke-width="1.3"/>
<path d="M241.40,337.04 Q248.85,336.34 256.30,337.04" fill="none" stroke="#0e0e0e" stroke-width="0.9"/>
<line x1="244.20" y1="336.69" x2="253.50" y2="336.69" stroke="#0e0e0e" stroke-width="1.3"/>
<path d="M241.40,328.51 Q248.85,327.81 256.30,328.51" fill="none" stroke="#0e0e0e" stroke-width="0.9"/>
<line x1="244.20" y1="328.16" x2="253.50" y2="328.16" stroke="#0e0e0e" stroke-width="1.3"/>
<path d="M241.40,316.27 Q248.85,315.57 256.30,316.27" fill="none" stroke="#0e0e0e" stroke-width="0.9"/>
<line x1="244.20" y1="315.92" x2="253.50" y2="315.92" stroke="#0e0e0e" stroke-width="1.3"/>
<path d="M241.40,301.45 Q248.85,300.75 256.30,301.45" fill="none" stroke="#0e0e0e" stroke-width="0.9"/>
<line x1="244.20" y1="301.10" x2="253.50" y2="301.10" stroke="#0e0e0e" stroke-width="1.3"/>
<rect x="241.00" y="301.20" width="15.7" height="71.60" fill="none" stroke="#1a1a1a" stroke-width="0.8"/>
<line x1="248.85" y1="372.8" x2="248.85" y2="375.6" stroke="#1c1c1c" stroke-width="0.9"/>
<text x="248.85" y="384.00" font-size="5.8" fill="#333" text-anchor="middle" stroke="#333" stroke-width="0.22">0</text>
<rect x="259.40" y="365.28" width="15.7" height="7.52" fill="#a6a6a6"/>
<rect x="259.40" y="350.17" width="15.7" height="15.11" fill="#3aae3a"/>
<rect x="259.40" y="339.65" width="15.7" height="10.53" fill="#fdc20f"/>
<rect x="259.40" y="330.13" width="15.7" height="9.52" fill="#4d2669"/>
<rect x="259.40" y="317.52" width="15.7" height="12.60" fill="#e8097f"/>
<rect x="259.40" y="301.20" width="15.7" height="16.32" fill="#4d5b70"/>
<path d="M259.80,365.53 Q267.25,364.83 274.70,365.53" fill="none" stroke="#0e0e0e" stroke-width="0.9"/>
<line x1="262.60" y1="365.18" x2="271.90" y2="365.18" stroke="#0e0e0e" stroke-width="1.3"/>
<path d="M259.80,350.42 Q267.25,349.72 274.70,350.42" fill="none" stroke="#0e0e0e" stroke-width="0.9"/>
<line x1="262.60" y1="350.07" x2="271.90" y2="350.07" stroke="#0e0e0e" stroke-width="1.3"/>
<path d="M259.80,339.90 Q267.25,339.20 274.70,339.90" fill="none" stroke="#0e0e0e" stroke-width="0.9"/>
<line x1="262.60" y1="339.55" x2="271.90" y2="339.55" stroke="#0e0e0e" stroke-width="1.3"/>
<path d="M259.80,330.38 Q267.25,329.68 274.70,330.38" fill="none" stroke="#0e0e0e" stroke-width="0.9"/>
<line x1="262.60" y1="330.03" x2="271.90" y2="330.03" stroke="#0e0e0e" stroke-width="1.3"/>
<path d="M259.80,317.77 Q267.25,317.07 274.70,317.77" fill="none" stroke="#0e0e0e" stroke-width="0.9"/>
<line x1="262.60" y1="317.42" x2="271.90" y2="317.42" stroke="#0e0e0e" stroke-width="1.3"/>
<path d="M259.80,301.45 Q267.25,300.75 274.70,301.45" fill="none" stroke="#0e0e0e" stroke-width="0.9"/>
<line x1="262.60" y1="301.10" x2="271.90" y2="301.10" stroke="#0e0e0e" stroke-width="1.3"/>
<rect x="259.40" y="301.20" width="15.7" height="71.60" fill="none" stroke="#1a1a1a" stroke-width="0.8"/>
<line x1="267.25" y1="372.8" x2="267.25" y2="375.6" stroke="#1c1c1c" stroke-width="0.9"/>
<text x="267.25" y="384.00" font-size="5.8" fill="#333" text-anchor="middle" stroke="#333" stroke-width="0.22">0.25</text>
<rect x="277.80" y="369.79" width="15.7" height="3.01" fill="#a6a6a6"/>
<rect x="277.80" y="353.47" width="15.7" height="16.32" fill="#3aae3a"/>
<rect x="277.80" y="342.16" width="15.7" height="11.31" fill="#fdc20f"/>
<rect x="277.80" y="332.63" width="15.7" height="9.52" fill="#4d2669"/>
<rect x="277.80" y="319.53" width="15.7" height="13.10" fill="#e8097f"/>
<rect x="277.80" y="301.20" width="15.7" height="18.33" fill="#4d5b70"/>
<path d="M278.20,370.04 Q285.65,369.34 293.10,370.04" fill="none" stroke="#0e0e0e" stroke-width="0.9"/>
<line x1="281.00" y1="369.69" x2="290.30" y2="369.69" stroke="#0e0e0e" stroke-width="1.3"/>
<path d="M278.20,353.72 Q285.65,353.02 293.10,353.72" fill="none" stroke="#0e0e0e" stroke-width="0.9"/>
<line x1="281.00" y1="353.37" x2="290.30" y2="353.37" stroke="#0e0e0e" stroke-width="1.3"/>
<path d="M278.20,342.41 Q285.65,341.71 293.10,342.41" fill="none" stroke="#0e0e0e" stroke-width="0.9"/>
<line x1="281.00" y1="342.06" x2="290.30" y2="342.06" stroke="#0e0e0e" stroke-width="1.3"/>
<path d="M278.20,332.88 Q285.65,332.18 293.10,332.88" fill="none" stroke="#0e0e0e" stroke-width="0.9"/>
<line x1="281.00" y1="332.53" x2="290.30" y2="332.53" stroke="#0e0e0e" stroke-width="1.3"/>
<path d="M278.20,319.78 Q285.65,319.08 293.10,319.78" fill="none" stroke="#0e0e0e" stroke-width="0.9"/>
<line x1="281.00" y1="319.43" x2="290.30" y2="319.43" stroke="#0e0e0e" stroke-width="1.3"/>
<path d="M278.20,301.45 Q285.65,300.75 293.10,301.45" fill="none" stroke="#0e0e0e" stroke-width="0.9"/>
<line x1="281.00" y1="301.10" x2="290.30" y2="301.10" stroke="#0e0e0e" stroke-width="1.3"/>
<rect x="277.80" y="301.20" width="15.7" height="71.60" fill="none" stroke="#1a1a1a" stroke-width="0.8"/>
<line x1="285.65" y1="372.8" x2="285.65" y2="375.6" stroke="#1c1c1c" stroke-width="0.9"/>
<text x="285.65" y="384.00" font-size="5.8" fill="#333" text-anchor="middle" stroke="#333" stroke-width="0.22">1</text>
<rect x="296.20" y="372.30" width="15.7" height="0.50" fill="#a6a6a6"/>
<rect x="296.20" y="355.97" width="15.7" height="16.32" fill="#3aae3a"/>
<rect x="296.20" y="344.66" width="15.7" height="11.31" fill="#fdc20f"/>
<rect x="296.20" y="335.14" width="15.7" height="9.52" fill="#4d2669"/>
<rect x="296.20" y="321.82" width="15.7" height="13.32" fill="#e8097f"/>
<rect x="296.20" y="301.20" width="15.7" height="20.62" fill="#4d5b70"/>
<path d="M296.60,372.55 Q304.05,371.85 311.50,372.55" fill="none" stroke="#0e0e0e" stroke-width="0.9"/>
<line x1="299.40" y1="372.20" x2="308.70" y2="372.20" stroke="#0e0e0e" stroke-width="1.3"/>
<path d="M296.60,356.22 Q304.05,355.52 311.50,356.22" fill="none" stroke="#0e0e0e" stroke-width="0.9"/>
<line x1="299.40" y1="355.87" x2="308.70" y2="355.87" stroke="#0e0e0e" stroke-width="1.3"/>
<path d="M296.60,344.91 Q304.05,344.21 311.50,344.91" fill="none" stroke="#0e0e0e" stroke-width="0.9"/>
<line x1="299.40" y1="344.56" x2="308.70" y2="344.56" stroke="#0e0e0e" stroke-width="1.3"/>
<path d="M296.60,335.39 Q304.05,334.69 311.50,335.39" fill="none" stroke="#0e0e0e" stroke-width="0.9"/>
<line x1="299.40" y1="335.04" x2="308.70" y2="335.04" stroke="#0e0e0e" stroke-width="1.3"/>
<path d="M296.60,322.07 Q304.05,321.37 311.50,322.07" fill="none" stroke="#0e0e0e" stroke-width="0.9"/>
<line x1="299.40" y1="321.72" x2="308.70" y2="321.72" stroke="#0e0e0e" stroke-width="1.3"/>
<path d="M296.60,301.45 Q304.05,300.75 311.50,301.45" fill="none" stroke="#0e0e0e" stroke-width="0.9"/>
<line x1="299.40" y1="301.10" x2="308.70" y2="301.10" stroke="#0e0e0e" stroke-width="1.3"/>
<rect x="296.20" y="301.20" width="15.7" height="71.60" fill="none" stroke="#1a1a1a" stroke-width="0.8"/>
<line x1="304.05" y1="372.8" x2="304.05" y2="375.6" stroke="#1c1c1c" stroke-width="0.9"/>
<text x="304.05" y="384.00" font-size="5.8" fill="#333" text-anchor="middle" stroke="#333" stroke-width="0.22">4</text>
<text x="276.80" y="289.90" font-size="8.0" fill="#267d69" text-anchor="middle" stroke="#267d69" stroke-width="0.2">+Allo-T<tspan dy="-2.3" font-size="4.1">HA-2</tspan></text>
<path d="M324.7,298.2 L324.7,372.8 L401.1,372.8" fill="none" stroke="#1c1c1c" stroke-width="1.15"/>
<line x1="321.5" y1="372.80" x2="324.7" y2="372.80" stroke="#1c1c1c" stroke-width="1.1"/>
<line x1="321.5" y1="354.90" x2="324.7" y2="354.90" stroke="#1c1c1c" stroke-width="1.1"/>
<line x1="321.5" y1="337.00" x2="324.7" y2="337.00" stroke="#1c1c1c" stroke-width="1.1"/>
<line x1="321.5" y1="319.10" x2="324.7" y2="319.10" stroke="#1c1c1c" stroke-width="1.1"/>
<line x1="321.5" y1="301.20" x2="324.7" y2="301.20" stroke="#1c1c1c" stroke-width="1.1"/>
<rect x="327.10" y="361.20" width="15.7" height="11.60" fill="#a6a6a6"/>
<rect x="327.10" y="345.95" width="15.7" height="15.25" fill="#3aae3a"/>
<rect x="327.10" y="336.79" width="15.7" height="9.16" fill="#fdc20f"/>
<rect x="327.10" y="328.26" width="15.7" height="8.52" fill="#4d2669"/>
<rect x="327.10" y="316.02" width="15.7" height="12.24" fill="#e8097f"/>
<rect x="327.10" y="301.20" width="15.7" height="14.82" fill="#4d5b70"/>
<path d="M327.50,361.45 Q334.95,360.75 342.40,361.45" fill="none" stroke="#0e0e0e" stroke-width="0.9"/>
<line x1="330.30" y1="361.10" x2="339.60" y2="361.10" stroke="#0e0e0e" stroke-width="1.3"/>
<path d="M327.50,346.20 Q334.95,345.50 342.40,346.20" fill="none" stroke="#0e0e0e" stroke-width="0.9"/>
<line x1="330.30" y1="345.85" x2="339.60" y2="345.85" stroke="#0e0e0e" stroke-width="1.3"/>
<path d="M327.50,337.04 Q334.95,336.34 342.40,337.04" fill="none" stroke="#0e0e0e" stroke-width="0.9"/>
<line x1="330.30" y1="336.69" x2="339.60" y2="336.69" stroke="#0e0e0e" stroke-width="1.3"/>
<path d="M327.50,328.51 Q334.95,327.81 342.40,328.51" fill="none" stroke="#0e0e0e" stroke-width="0.9"/>
<line x1="330.30" y1="328.16" x2="339.60" y2="328.16" stroke="#0e0e0e" stroke-width="1.3"/>
<path d="M327.50,316.27 Q334.95,315.57 342.40,316.27" fill="none" stroke="#0e0e0e" stroke-width="0.9"/>
<line x1="330.30" y1="315.92" x2="339.60" y2="315.92" stroke="#0e0e0e" stroke-width="1.3"/>
<path d="M327.50,301.45 Q334.95,300.75 342.40,301.45" fill="none" stroke="#0e0e0e" stroke-width="0.9"/>
<line x1="330.30" y1="301.10" x2="339.60" y2="301.10" stroke="#0e0e0e" stroke-width="1.3"/>
<rect x="327.10" y="301.20" width="15.7" height="71.60" fill="none" stroke="#1a1a1a" stroke-width="0.8"/>
<line x1="334.95" y1="372.8" x2="334.95" y2="375.6" stroke="#1c1c1c" stroke-width="0.9"/>
<text x="334.95" y="384.00" font-size="5.8" fill="#333" text-anchor="middle" stroke="#333" stroke-width="0.22">0</text>
<rect x="345.50" y="357.76" width="15.7" height="15.04" fill="#a6a6a6"/>
<rect x="345.50" y="334.35" width="15.7" height="23.41" fill="#3aae3a"/>
<rect x="345.50" y="333.92" width="15.7" height="0.43" fill="#fdc20f"/>
<rect x="345.50" y="328.05" width="15.7" height="5.87" fill="#4d2669"/>
<rect x="345.50" y="309.22" width="15.7" height="18.83" fill="#e8097f"/>
<rect x="345.50" y="301.20" width="15.7" height="8.02" fill="#4d5b70"/>
<path d="M345.90,358.01 Q353.35,357.31 360.80,358.01" fill="none" stroke="#0e0e0e" stroke-width="0.9"/>
<line x1="348.70" y1="357.66" x2="358.00" y2="357.66" stroke="#0e0e0e" stroke-width="1.3"/>
<path d="M345.90,334.60 Q353.35,333.90 360.80,334.60" fill="none" stroke="#0e0e0e" stroke-width="0.9"/>
<line x1="348.70" y1="334.25" x2="358.00" y2="334.25" stroke="#0e0e0e" stroke-width="1.3"/>
<path d="M345.90,334.17 Q353.35,333.47 360.80,334.17" fill="none" stroke="#0e0e0e" stroke-width="0.9"/>
<line x1="348.70" y1="333.82" x2="358.00" y2="333.82" stroke="#0e0e0e" stroke-width="1.3"/>
<path d="M345.90,328.30 Q353.35,327.60 360.80,328.30" fill="none" stroke="#0e0e0e" stroke-width="0.9"/>
<line x1="348.70" y1="327.95" x2="358.00" y2="327.95" stroke="#0e0e0e" stroke-width="1.3"/>
<path d="M345.90,309.47 Q353.35,308.77 360.80,309.47" fill="none" stroke="#0e0e0e" stroke-width="0.9"/>
<line x1="348.70" y1="309.12" x2="358.00" y2="309.12" stroke="#0e0e0e" stroke-width="1.3"/>
<path d="M345.90,301.45 Q353.35,300.75 360.80,301.45" fill="none" stroke="#0e0e0e" stroke-width="0.9"/>
<line x1="348.70" y1="301.10" x2="358.00" y2="301.10" stroke="#0e0e0e" stroke-width="1.3"/>
<rect x="345.50" y="301.20" width="15.7" height="71.60" fill="none" stroke="#1a1a1a" stroke-width="0.8"/>
<line x1="353.35" y1="372.8" x2="353.35" y2="375.6" stroke="#1c1c1c" stroke-width="0.9"/>
<text x="353.35" y="384.00" font-size="5.8" fill="#333" text-anchor="middle" stroke="#333" stroke-width="0.22">0.25</text>
<rect x="363.90" y="363.99" width="15.7" height="8.81" fill="#a6a6a6"/>
<rect x="363.90" y="340.15" width="15.7" height="23.84" fill="#3aae3a"/>
<rect x="363.90" y="339.86" width="15.7" height="0.29" fill="#fdc20f"/>
<rect x="363.90" y="339.58" width="15.7" height="0.29" fill="#4d2669"/>
<rect x="363.90" y="305.71" width="15.7" height="33.87" fill="#e8097f"/>
<rect x="363.90" y="301.20" width="15.7" height="4.51" fill="#4d5b70"/>
<path d="M364.30,364.24 Q371.75,363.54 379.20,364.24" fill="none" stroke="#0e0e0e" stroke-width="0.9"/>
<line x1="367.10" y1="363.89" x2="376.40" y2="363.89" stroke="#0e0e0e" stroke-width="1.3"/>
<path d="M364.30,340.40 Q371.75,339.70 379.20,340.40" fill="none" stroke="#0e0e0e" stroke-width="0.9"/>
<line x1="367.10" y1="340.05" x2="376.40" y2="340.05" stroke="#0e0e0e" stroke-width="1.3"/>
<path d="M364.30,340.11 Q371.75,339.41 379.20,340.11" fill="none" stroke="#0e0e0e" stroke-width="0.9"/>
<line x1="367.10" y1="339.76" x2="376.40" y2="339.76" stroke="#0e0e0e" stroke-width="1.3"/>
<path d="M364.30,339.83 Q371.75,339.13 379.20,339.83" fill="none" stroke="#0e0e0e" stroke-width="0.9"/>
<line x1="367.10" y1="339.48" x2="376.40" y2="339.48" stroke="#0e0e0e" stroke-width="1.3"/>
<path d="M364.30,305.96 Q371.75,305.26 379.20,305.96" fill="none" stroke="#0e0e0e" stroke-width="0.9"/>
<line x1="367.10" y1="305.61" x2="376.40" y2="305.61" stroke="#0e0e0e" stroke-width="1.3"/>
<path d="M364.30,301.45 Q371.75,300.75 379.20,301.45" fill="none" stroke="#0e0e0e" stroke-width="0.9"/>
<line x1="367.10" y1="301.10" x2="376.40" y2="301.10" stroke="#0e0e0e" stroke-width="1.3"/>
<rect x="363.90" y="301.20" width="15.7" height="71.60" fill="none" stroke="#1a1a1a" stroke-width="0.8"/>
<line x1="371.75" y1="372.8" x2="371.75" y2="375.6" stroke="#1c1c1c" stroke-width="0.9"/>
<text x="371.75" y="384.00" font-size="5.8" fill="#333" text-anchor="middle" stroke="#333" stroke-width="0.22">1</text>
<rect x="382.30" y="368.29" width="15.7" height="4.51" fill="#a6a6a6"/>
<rect x="382.30" y="360.77" width="15.7" height="7.52" fill="#3aae3a"/>
<rect x="382.30" y="360.56" width="15.7" height="0.21" fill="#fdc20f"/>
<rect x="382.30" y="360.27" width="15.7" height="0.29" fill="#4d2669"/>
<rect x="382.30" y="302.99" width="15.7" height="57.28" fill="#e8097f"/>
<rect x="382.30" y="301.20" width="15.7" height="1.79" fill="#4d5b70"/>
<path d="M382.70,368.54 Q390.15,367.84 397.60,368.54" fill="none" stroke="#0e0e0e" stroke-width="0.9"/>
<line x1="385.50" y1="368.19" x2="394.80" y2="368.19" stroke="#0e0e0e" stroke-width="1.3"/>
<path d="M382.70,361.02 Q390.15,360.32 397.60,361.02" fill="none" stroke="#0e0e0e" stroke-width="0.9"/>
<line x1="385.50" y1="360.67" x2="394.80" y2="360.67" stroke="#0e0e0e" stroke-width="1.3"/>
<path d="M382.70,360.81 Q390.15,360.11 397.60,360.81" fill="none" stroke="#0e0e0e" stroke-width="0.9"/>
<line x1="385.50" y1="360.46" x2="394.80" y2="360.46" stroke="#0e0e0e" stroke-width="1.3"/>
<path d="M382.70,360.52 Q390.15,359.82 397.60,360.52" fill="none" stroke="#0e0e0e" stroke-width="0.9"/>
<line x1="385.50" y1="360.17" x2="394.80" y2="360.17" stroke="#0e0e0e" stroke-width="1.3"/>
<path d="M382.70,303.24 Q390.15,302.54 397.60,303.24" fill="none" stroke="#0e0e0e" stroke-width="0.9"/>
<line x1="385.50" y1="302.89" x2="394.80" y2="302.89" stroke="#0e0e0e" stroke-width="1.3"/>
<path d="M382.70,301.45 Q390.15,300.75 397.60,301.45" fill="none" stroke="#0e0e0e" stroke-width="0.9"/>
<line x1="385.50" y1="301.10" x2="394.80" y2="301.10" stroke="#0e0e0e" stroke-width="1.3"/>
<rect x="382.30" y="301.20" width="15.7" height="71.60" fill="none" stroke="#1a1a1a" stroke-width="0.8"/>
<line x1="390.15" y1="372.8" x2="390.15" y2="375.6" stroke="#1c1c1c" stroke-width="0.9"/>
<text x="390.15" y="384.00" font-size="5.8" fill="#333" text-anchor="middle" stroke="#333" stroke-width="0.22">4</text>
<text x="362.90" y="283.10" font-size="8.0" fill="#f5a623" text-anchor="middle" stroke="#f5a623" stroke-width="0.2">+NK donor 6</text>
<text x="362.90" y="292.90" font-size="8.0" fill="#267d69" text-anchor="middle" stroke="#267d69" stroke-width="0.2">+Allo-T<tspan dy="-2.3" font-size="4.1">HA-2</tspan></text>
<path d="M409.3,298.2 L409.3,372.8 L485.70000000000005,372.8" fill="none" stroke="#1c1c1c" stroke-width="1.15"/>
<line x1="406.1" y1="372.80" x2="409.3" y2="372.80" stroke="#1c1c1c" stroke-width="1.1"/>
<line x1="406.1" y1="354.90" x2="409.3" y2="354.90" stroke="#1c1c1c" stroke-width="1.1"/>
<line x1="406.1" y1="337.00" x2="409.3" y2="337.00" stroke="#1c1c1c" stroke-width="1.1"/>
<line x1="406.1" y1="319.10" x2="409.3" y2="319.10" stroke="#1c1c1c" stroke-width="1.1"/>
<line x1="406.1" y1="301.20" x2="409.3" y2="301.20" stroke="#1c1c1c" stroke-width="1.1"/>
<rect x="411.70" y="361.20" width="15.7" height="11.60" fill="#a6a6a6"/>
<rect x="411.70" y="345.95" width="15.7" height="15.25" fill="#3aae3a"/>
<rect x="411.70" y="336.79" width="15.7" height="9.16" fill="#fdc20f"/>
<rect x="411.70" y="328.26" width="15.7" height="8.52" fill="#4d2669"/>
<rect x="411.70" y="316.02" width="15.7" height="12.24" fill="#e8097f"/>
<rect x="411.70" y="301.20" width="15.7" height="14.82" fill="#4d5b70"/>
<path d="M412.10,361.45 Q419.55,360.75 427.00,361.45" fill="none" stroke="#0e0e0e" stroke-width="0.9"/>
<line x1="414.90" y1="361.10" x2="424.20" y2="361.10" stroke="#0e0e0e" stroke-width="1.3"/>
<path d="M412.10,346.20 Q419.55,345.50 427.00,346.20" fill="none" stroke="#0e0e0e" stroke-width="0.9"/>
<line x1="414.90" y1="345.85" x2="424.20" y2="345.85" stroke="#0e0e0e" stroke-width="1.3"/>
<path d="M412.10,337.04 Q419.55,336.34 427.00,337.04" fill="none" stroke="#0e0e0e" stroke-width="0.9"/>
<line x1="414.90" y1="336.69" x2="424.20" y2="336.69" stroke="#0e0e0e" stroke-width="1.3"/>
<path d="M412.10,328.51 Q419.55,327.81 427.00,328.51" fill="none" stroke="#0e0e0e" stroke-width="0.9"/>
<line x1="414.90" y1="328.16" x2="424.20" y2="328.16" stroke="#0e0e0e" stroke-width="1.3"/>
<path d="M412.10,316.27 Q419.55,315.57 427.00,316.27" fill="none" stroke="#0e0e0e" stroke-width="0.9"/>
<line x1="414.90" y1="315.92" x2="424.20" y2="315.92" stroke="#0e0e0e" stroke-width="1.3"/>
<path d="M412.10,301.45 Q419.55,300.75 427.00,301.45" fill="none" stroke="#0e0e0e" stroke-width="0.9"/>
<line x1="414.90" y1="301.10" x2="424.20" y2="301.10" stroke="#0e0e0e" stroke-width="1.3"/>
<rect x="411.70" y="301.20" width="15.7" height="71.60" fill="none" stroke="#1a1a1a" stroke-width="0.8"/>
<line x1="419.55" y1="372.8" x2="419.55" y2="375.6" stroke="#1c1c1c" stroke-width="0.9"/>
<text x="419.55" y="384.00" font-size="5.8" fill="#333" text-anchor="middle" stroke="#333" stroke-width="0.22">0</text>
<rect x="430.10" y="366.79" width="15.7" height="6.01" fill="#a6a6a6"/>
<rect x="430.10" y="339.00" width="15.7" height="27.78" fill="#3aae3a"/>
<rect x="430.10" y="338.07" width="15.7" height="0.93" fill="#fdc20f"/>
<rect x="430.10" y="332.49" width="15.7" height="5.58" fill="#4d2669"/>
<rect x="430.10" y="311.22" width="15.7" height="21.27" fill="#e8097f"/>
<rect x="430.10" y="301.20" width="15.7" height="10.02" fill="#4d5b70"/>
<path d="M430.50,367.04 Q437.95,366.34 445.40,367.04" fill="none" stroke="#0e0e0e" stroke-width="0.9"/>
<line x1="433.30" y1="366.69" x2="442.60" y2="366.69" stroke="#0e0e0e" stroke-width="1.3"/>
<path d="M430.50,339.25 Q437.95,338.55 445.40,339.25" fill="none" stroke="#0e0e0e" stroke-width="0.9"/>
<line x1="433.30" y1="338.90" x2="442.60" y2="338.90" stroke="#0e0e0e" stroke-width="1.3"/>
<path d="M430.50,338.32 Q437.95,337.62 445.40,338.32" fill="none" stroke="#0e0e0e" stroke-width="0.9"/>
<line x1="433.30" y1="337.97" x2="442.60" y2="337.97" stroke="#0e0e0e" stroke-width="1.3"/>
<path d="M430.50,332.74 Q437.95,332.04 445.40,332.74" fill="none" stroke="#0e0e0e" stroke-width="0.9"/>
<line x1="433.30" y1="332.39" x2="442.60" y2="332.39" stroke="#0e0e0e" stroke-width="1.3"/>
<path d="M430.50,311.47 Q437.95,310.77 445.40,311.47" fill="none" stroke="#0e0e0e" stroke-width="0.9"/>
<line x1="433.30" y1="311.12" x2="442.60" y2="311.12" stroke="#0e0e0e" stroke-width="1.3"/>
<path d="M430.50,301.45 Q437.95,300.75 445.40,301.45" fill="none" stroke="#0e0e0e" stroke-width="0.9"/>
<line x1="433.30" y1="301.10" x2="442.60" y2="301.10" stroke="#0e0e0e" stroke-width="1.3"/>
<rect x="430.10" y="301.20" width="15.7" height="71.60" fill="none" stroke="#1a1a1a" stroke-width="0.8"/>
<line x1="437.95" y1="372.8" x2="437.95" y2="375.6" stroke="#1c1c1c" stroke-width="0.9"/>
<text x="437.95" y="384.00" font-size="5.8" fill="#333" text-anchor="middle" stroke="#333" stroke-width="0.22">0.25</text>
<rect x="448.50" y="368.79" width="15.7" height="4.01" fill="#a6a6a6"/>
<rect x="448.50" y="344.23" width="15.7" height="24.56" fill="#3aae3a"/>
<rect x="448.50" y="343.95" width="15.7" height="0.29" fill="#fdc20f"/>
<rect x="448.50" y="343.59" width="15.7" height="0.36" fill="#4d2669"/>
<rect x="448.50" y="306.21" width="15.7" height="37.38" fill="#e8097f"/>
<rect x="448.50" y="301.20" width="15.7" height="5.01" fill="#4d5b70"/>
<path d="M448.90,369.04 Q456.35,368.34 463.80,369.04" fill="none" stroke="#0e0e0e" stroke-width="0.9"/>
<line x1="451.70" y1="368.69" x2="461.00" y2="368.69" stroke="#0e0e0e" stroke-width="1.3"/>
<path d="M448.90,344.48 Q456.35,343.78 463.80,344.48" fill="none" stroke="#0e0e0e" stroke-width="0.9"/>
<line x1="451.70" y1="344.13" x2="461.00" y2="344.13" stroke="#0e0e0e" stroke-width="1.3"/>
<path d="M448.90,344.20 Q456.35,343.50 463.80,344.20" fill="none" stroke="#0e0e0e" stroke-width="0.9"/>
<line x1="451.70" y1="343.85" x2="461.00" y2="343.85" stroke="#0e0e0e" stroke-width="1.3"/>
<path d="M448.90,343.84 Q456.35,343.14 463.80,343.84" fill="none" stroke="#0e0e0e" stroke-width="0.9"/>
<line x1="451.70" y1="343.49" x2="461.00" y2="343.49" stroke="#0e0e0e" stroke-width="1.3"/>
<path d="M448.90,306.46 Q456.35,305.76 463.80,306.46" fill="none" stroke="#0e0e0e" stroke-width="0.9"/>
<line x1="451.70" y1="306.11" x2="461.00" y2="306.11" stroke="#0e0e0e" stroke-width="1.3"/>
<path d="M448.90,301.45 Q456.35,300.75 463.80,301.45" fill="none" stroke="#0e0e0e" stroke-width="0.9"/>
<line x1="451.70" y1="301.10" x2="461.00" y2="301.10" stroke="#0e0e0e" stroke-width="1.3"/>
<rect x="448.50" y="301.20" width="15.7" height="71.60" fill="none" stroke="#1a1a1a" stroke-width="0.8"/>
<line x1="456.35" y1="372.8" x2="456.35" y2="375.6" stroke="#1c1c1c" stroke-width="0.9"/>
<text x="456.35" y="384.00" font-size="5.8" fill="#333" text-anchor="middle" stroke="#333" stroke-width="0.22">1</text>
<rect x="466.90" y="369.58" width="15.7" height="3.22" fill="#a6a6a6"/>
<rect x="466.90" y="360.56" width="15.7" height="9.02" fill="#3aae3a"/>
<rect x="466.90" y="360.34" width="15.7" height="0.21" fill="#fdc20f"/>
<rect x="466.90" y="360.06" width="15.7" height="0.29" fill="#4d2669"/>
<rect x="466.90" y="302.99" width="15.7" height="57.07" fill="#e8097f"/>
<rect x="466.90" y="301.20" width="15.7" height="1.79" fill="#4d5b70"/>
<path d="M467.30,369.83 Q474.75,369.13 482.20,369.83" fill="none" stroke="#0e0e0e" stroke-width="0.9"/>
<line x1="470.10" y1="369.48" x2="479.40" y2="369.48" stroke="#0e0e0e" stroke-width="1.3"/>
<path d="M467.30,360.81 Q474.75,360.11 482.20,360.81" fill="none" stroke="#0e0e0e" stroke-width="0.9"/>
<line x1="470.10" y1="360.46" x2="479.40" y2="360.46" stroke="#0e0e0e" stroke-width="1.3"/>
<path d="M467.30,360.59 Q474.75,359.89 482.20,360.59" fill="none" stroke="#0e0e0e" stroke-width="0.9"/>
<line x1="470.10" y1="360.24" x2="479.40" y2="360.24" stroke="#0e0e0e" stroke-width="1.3"/>
<path d="M467.30,360.31 Q474.75,359.61 482.20,360.31" fill="none" stroke="#0e0e0e" stroke-width="0.9"/>
<line x1="470.10" y1="359.96" x2="479.40" y2="359.96" stroke="#0e0e0e" stroke-width="1.3"/>
<path d="M467.30,303.24 Q474.75,302.54 482.20,303.24" fill="none" stroke="#0e0e0e" stroke-width="0.9"/>
<line x1="470.10" y1="302.89" x2="479.40" y2="302.89" stroke="#0e0e0e" stroke-width="1.3"/>
<path d="M467.30,301.45 Q474.75,300.75 482.20,301.45" fill="none" stroke="#0e0e0e" stroke-width="0.9"/>
<line x1="470.10" y1="301.10" x2="479.40" y2="301.10" stroke="#0e0e0e" stroke-width="1.3"/>
<rect x="466.90" y="301.20" width="15.7" height="71.60" fill="none" stroke="#1a1a1a" stroke-width="0.8"/>
<line x1="474.75" y1="372.8" x2="474.75" y2="375.6" stroke="#1c1c1c" stroke-width="0.9"/>
<text x="474.75" y="384.00" font-size="5.8" fill="#333" text-anchor="middle" stroke="#333" stroke-width="0.22">4</text>
<text x="447.50" y="283.10" font-size="8.0" fill="#f5a623" text-anchor="middle" stroke="#f5a623" stroke-width="0.2">+ NK Donor 6</text>
<text x="447.50" y="292.90" font-size="8.0" fill="#267d69" text-anchor="middle" stroke="#267d69" stroke-width="0.2">+ Allo-T<tspan dy="-2.3" font-size="4.1">EMC7</tspan></text>
<path d="M152.6,414.15 L152.6,488.8 L229.0,488.8" fill="none" stroke="#1c1c1c" stroke-width="1.15"/>
<line x1="149.4" y1="488.80" x2="152.6" y2="488.80" stroke="#1c1c1c" stroke-width="1.1"/>
<text x="146.60" y="490.95" font-size="6.0" fill="#333" text-anchor="end" stroke="#333" stroke-width="0.22">0</text>
<line x1="149.4" y1="470.89" x2="152.6" y2="470.89" stroke="#1c1c1c" stroke-width="1.1"/>
<text x="146.60" y="473.04" font-size="6.0" fill="#333" text-anchor="end" stroke="#333" stroke-width="0.22">25</text>
<line x1="149.4" y1="452.98" x2="152.6" y2="452.98" stroke="#1c1c1c" stroke-width="1.1"/>
<text x="146.60" y="455.12" font-size="6.0" fill="#333" text-anchor="end" stroke="#333" stroke-width="0.22">50</text>
<line x1="149.4" y1="435.06" x2="152.6" y2="435.06" stroke="#1c1c1c" stroke-width="1.1"/>
<text x="146.60" y="437.21" font-size="6.0" fill="#333" text-anchor="end" stroke="#333" stroke-width="0.22">75</text>
<line x1="149.4" y1="417.15" x2="152.6" y2="417.15" stroke="#1c1c1c" stroke-width="1.1"/>
<text x="146.60" y="419.30" font-size="6.0" fill="#333" text-anchor="end" stroke="#333" stroke-width="0.22">100</text>
<rect x="155.00" y="477.19" width="15.7" height="11.61" fill="#a6a6a6"/>
<rect x="155.00" y="461.93" width="15.7" height="15.26" fill="#3aae3a"/>
<rect x="155.00" y="452.76" width="15.7" height="9.17" fill="#fdc20f"/>
<rect x="155.00" y="444.23" width="15.7" height="8.53" fill="#4d2669"/>
<rect x="155.00" y="431.98" width="15.7" height="12.25" fill="#e8097f"/>
<rect x="155.00" y="417.15" width="15.7" height="14.83" fill="#4d5b70"/>
<path d="M155.40,477.44 Q162.85,476.74 170.30,477.44" fill="none" stroke="#0e0e0e" stroke-width="0.9"/>
<line x1="158.20" y1="477.09" x2="167.50" y2="477.09" stroke="#0e0e0e" stroke-width="1.3"/>
<path d="M155.40,462.18 Q162.85,461.48 170.30,462.18" fill="none" stroke="#0e0e0e" stroke-width="0.9"/>
<line x1="158.20" y1="461.83" x2="167.50" y2="461.83" stroke="#0e0e0e" stroke-width="1.3"/>
<path d="M155.40,453.01 Q162.85,452.31 170.30,453.01" fill="none" stroke="#0e0e0e" stroke-width="0.9"/>
<line x1="158.20" y1="452.66" x2="167.50" y2="452.66" stroke="#0e0e0e" stroke-width="1.3"/>
<path d="M155.40,444.48 Q162.85,443.78 170.30,444.48" fill="none" stroke="#0e0e0e" stroke-width="0.9"/>
<line x1="158.20" y1="444.13" x2="167.50" y2="444.13" stroke="#0e0e0e" stroke-width="1.3"/>
<path d="M155.40,432.23 Q162.85,431.53 170.30,432.23" fill="none" stroke="#0e0e0e" stroke-width="0.9"/>
<line x1="158.20" y1="431.88" x2="167.50" y2="431.88" stroke="#0e0e0e" stroke-width="1.3"/>
<path d="M155.40,417.40 Q162.85,416.70 170.30,417.40" fill="none" stroke="#0e0e0e" stroke-width="0.9"/>
<line x1="158.20" y1="417.05" x2="167.50" y2="417.05" stroke="#0e0e0e" stroke-width="1.3"/>
<rect x="155.00" y="417.15" width="15.7" height="71.65" fill="none" stroke="#1a1a1a" stroke-width="0.8"/>
<line x1="162.85" y1="488.8" x2="162.85" y2="491.6" stroke="#1c1c1c" stroke-width="0.9"/>
<text x="162.85" y="500.00" font-size="5.8" fill="#333" text-anchor="middle" stroke="#333" stroke-width="0.22">0</text>
<rect x="173.40" y="473.54" width="15.7" height="15.26" fill="#a6a6a6"/>
<rect x="173.40" y="462.29" width="15.7" height="11.25" fill="#3aae3a"/>
<rect x="173.40" y="454.41" width="15.7" height="7.88" fill="#fdc20f"/>
<rect x="173.40" y="446.53" width="15.7" height="7.88" fill="#4d2669"/>
<rect x="173.40" y="432.20" width="15.7" height="14.33" fill="#e8097f"/>
<rect x="173.40" y="417.15" width="15.7" height="15.05" fill="#4d5b70"/>
<path d="M173.80,473.79 Q181.25,473.09 188.70,473.79" fill="none" stroke="#0e0e0e" stroke-width="0.9"/>
<line x1="176.60" y1="473.44" x2="185.90" y2="473.44" stroke="#0e0e0e" stroke-width="1.3"/>
<path d="M173.80,462.54 Q181.25,461.84 188.70,462.54" fill="none" stroke="#0e0e0e" stroke-width="0.9"/>
<line x1="176.60" y1="462.19" x2="185.90" y2="462.19" stroke="#0e0e0e" stroke-width="1.3"/>
<path d="M173.80,454.66 Q181.25,453.96 188.70,454.66" fill="none" stroke="#0e0e0e" stroke-width="0.9"/>
<line x1="176.60" y1="454.31" x2="185.90" y2="454.31" stroke="#0e0e0e" stroke-width="1.3"/>
<path d="M173.80,446.78 Q181.25,446.08 188.70,446.78" fill="none" stroke="#0e0e0e" stroke-width="0.9"/>
<line x1="176.60" y1="446.43" x2="185.90" y2="446.43" stroke="#0e0e0e" stroke-width="1.3"/>
<path d="M173.80,432.45 Q181.25,431.75 188.70,432.45" fill="none" stroke="#0e0e0e" stroke-width="0.9"/>
<line x1="176.60" y1="432.10" x2="185.90" y2="432.10" stroke="#0e0e0e" stroke-width="1.3"/>
<path d="M173.80,417.40 Q181.25,416.70 188.70,417.40" fill="none" stroke="#0e0e0e" stroke-width="0.9"/>
<line x1="176.60" y1="417.05" x2="185.90" y2="417.05" stroke="#0e0e0e" stroke-width="1.3"/>
<rect x="173.40" y="417.15" width="15.7" height="71.65" fill="none" stroke="#1a1a1a" stroke-width="0.8"/>
<line x1="181.25" y1="488.8" x2="181.25" y2="491.6" stroke="#1c1c1c" stroke-width="0.9"/>
<text x="181.25" y="500.00" font-size="5.8" fill="#333" text-anchor="middle" stroke="#333" stroke-width="0.22">.063</text>
<rect x="191.80" y="464.01" width="15.7" height="24.79" fill="#a6a6a6"/>
<rect x="191.80" y="457.27" width="15.7" height="6.74" fill="#3aae3a"/>
<rect x="191.80" y="452.76" width="15.7" height="4.51" fill="#fdc20f"/>
<rect x="191.80" y="448.25" width="15.7" height="4.51" fill="#4d2669"/>
<rect x="191.80" y="429.40" width="15.7" height="18.84" fill="#e8097f"/>
<rect x="191.80" y="417.15" width="15.7" height="12.25" fill="#4d5b70"/>
<path d="M192.20,464.26 Q199.65,463.56 207.10,464.26" fill="none" stroke="#0e0e0e" stroke-width="0.9"/>
<line x1="195.00" y1="463.91" x2="204.30" y2="463.91" stroke="#0e0e0e" stroke-width="1.3"/>
<path d="M192.20,457.52 Q199.65,456.82 207.10,457.52" fill="none" stroke="#0e0e0e" stroke-width="0.9"/>
<line x1="195.00" y1="457.17" x2="204.30" y2="457.17" stroke="#0e0e0e" stroke-width="1.3"/>
<path d="M192.20,453.01 Q199.65,452.31 207.10,453.01" fill="none" stroke="#0e0e0e" stroke-width="0.9"/>
<line x1="195.00" y1="452.66" x2="204.30" y2="452.66" stroke="#0e0e0e" stroke-width="1.3"/>
<path d="M192.20,448.50 Q199.65,447.80 207.10,448.50" fill="none" stroke="#0e0e0e" stroke-width="0.9"/>
<line x1="195.00" y1="448.15" x2="204.30" y2="448.15" stroke="#0e0e0e" stroke-width="1.3"/>
<path d="M192.20,429.65 Q199.65,428.95 207.10,429.65" fill="none" stroke="#0e0e0e" stroke-width="0.9"/>
<line x1="195.00" y1="429.30" x2="204.30" y2="429.30" stroke="#0e0e0e" stroke-width="1.3"/>
<path d="M192.20,417.40 Q199.65,416.70 207.10,417.40" fill="none" stroke="#0e0e0e" stroke-width="0.9"/>
<line x1="195.00" y1="417.05" x2="204.30" y2="417.05" stroke="#0e0e0e" stroke-width="1.3"/>
<rect x="191.80" y="417.15" width="15.7" height="71.65" fill="none" stroke="#1a1a1a" stroke-width="0.8"/>
<line x1="199.65" y1="488.8" x2="199.65" y2="491.6" stroke="#1c1c1c" stroke-width="0.9"/>
<text x="199.65" y="500.00" font-size="5.8" fill="#333" text-anchor="middle" stroke="#333" stroke-width="0.22">.25</text>
<rect x="210.20" y="451.54" width="15.7" height="37.26" fill="#a6a6a6"/>
<rect x="210.20" y="450.11" width="15.7" height="1.43" fill="#3aae3a"/>
<rect x="210.20" y="449.39" width="15.7" height="0.72" fill="#fdc20f"/>
<rect x="210.20" y="447.24" width="15.7" height="2.15" fill="#4d2669"/>
<rect x="210.20" y="421.45" width="15.7" height="25.79" fill="#e8097f"/>
<rect x="210.20" y="417.15" width="15.7" height="4.30" fill="#4d5b70"/>
<path d="M210.60,451.79 Q218.05,451.09 225.50,451.79" fill="none" stroke="#0e0e0e" stroke-width="0.9"/>
<line x1="213.40" y1="451.44" x2="222.70" y2="451.44" stroke="#0e0e0e" stroke-width="1.3"/>
<path d="M210.60,450.36 Q218.05,449.66 225.50,450.36" fill="none" stroke="#0e0e0e" stroke-width="0.9"/>
<line x1="213.40" y1="450.01" x2="222.70" y2="450.01" stroke="#0e0e0e" stroke-width="1.3"/>
<path d="M210.60,449.64 Q218.05,448.94 225.50,449.64" fill="none" stroke="#0e0e0e" stroke-width="0.9"/>
<line x1="213.40" y1="449.29" x2="222.70" y2="449.29" stroke="#0e0e0e" stroke-width="1.3"/>
<path d="M210.60,447.49 Q218.05,446.79 225.50,447.49" fill="none" stroke="#0e0e0e" stroke-width="0.9"/>
<line x1="213.40" y1="447.14" x2="222.70" y2="447.14" stroke="#0e0e0e" stroke-width="1.3"/>
<path d="M210.60,421.70 Q218.05,421.00 225.50,421.70" fill="none" stroke="#0e0e0e" stroke-width="0.9"/>
<line x1="213.40" y1="421.35" x2="222.70" y2="421.35" stroke="#0e0e0e" stroke-width="1.3"/>
<path d="M210.60,417.40 Q218.05,416.70 225.50,417.40" fill="none" stroke="#0e0e0e" stroke-width="0.9"/>
<line x1="213.40" y1="417.05" x2="222.70" y2="417.05" stroke="#0e0e0e" stroke-width="1.3"/>
<rect x="210.20" y="417.15" width="15.7" height="71.65" fill="none" stroke="#1a1a1a" stroke-width="0.8"/>
<line x1="218.05" y1="488.8" x2="218.05" y2="491.6" stroke="#1c1c1c" stroke-width="0.9"/>
<text x="218.05" y="500.00" font-size="5.8" fill="#333" text-anchor="middle" stroke="#333" stroke-width="0.22">1</text>
<text x="190.80" y="398.90" font-size="8.0" fill="#f5a623" text-anchor="middle" stroke="#f5a623" stroke-width="0.2">+ NK Donor 7</text>
<text x="190.80" y="408.20" font-size="8.0" fill="#e0206a" text-anchor="middle" stroke="#e0206a" stroke-width="0.2">(2C<tspan dy="-2.3" font-size="4.1">dom</tspan><tspan dy="2.3">)</tspan></text>
<path d="M238.6,414.15 L238.6,488.8 L315.0,488.8" fill="none" stroke="#1c1c1c" stroke-width="1.15"/>
<line x1="235.4" y1="488.80" x2="238.6" y2="488.80" stroke="#1c1c1c" stroke-width="1.1"/>
<line x1="235.4" y1="470.89" x2="238.6" y2="470.89" stroke="#1c1c1c" stroke-width="1.1"/>
<line x1="235.4" y1="452.98" x2="238.6" y2="452.98" stroke="#1c1c1c" stroke-width="1.1"/>
<line x1="235.4" y1="435.06" x2="238.6" y2="435.06" stroke="#1c1c1c" stroke-width="1.1"/>
<line x1="235.4" y1="417.15" x2="238.6" y2="417.15" stroke="#1c1c1c" stroke-width="1.1"/>
<rect x="241.00" y="477.19" width="15.7" height="11.61" fill="#a6a6a6"/>
<rect x="241.00" y="461.93" width="15.7" height="15.26" fill="#3aae3a"/>
<rect x="241.00" y="452.76" width="15.7" height="9.17" fill="#fdc20f"/>
<rect x="241.00" y="444.23" width="15.7" height="8.53" fill="#4d2669"/>
<rect x="241.00" y="431.98" width="15.7" height="12.25" fill="#e8097f"/>
<rect x="241.00" y="417.15" width="15.7" height="14.83" fill="#4d5b70"/>
<path d="M241.40,477.44 Q248.85,476.74 256.30,477.44" fill="none" stroke="#0e0e0e" stroke-width="0.9"/>
<line x1="244.20" y1="477.09" x2="253.50" y2="477.09" stroke="#0e0e0e" stroke-width="1.3"/>
<path d="M241.40,462.18 Q248.85,461.48 256.30,462.18" fill="none" stroke="#0e0e0e" stroke-width="0.9"/>
<line x1="244.20" y1="461.83" x2="253.50" y2="461.83" stroke="#0e0e0e" stroke-width="1.3"/>
<path d="M241.40,453.01 Q248.85,452.31 256.30,453.01" fill="none" stroke="#0e0e0e" stroke-width="0.9"/>
<line x1="244.20" y1="452.66" x2="253.50" y2="452.66" stroke="#0e0e0e" stroke-width="1.3"/>
<path d="M241.40,444.48 Q248.85,443.78 256.30,444.48" fill="none" stroke="#0e0e0e" stroke-width="0.9"/>
<line x1="244.20" y1="444.13" x2="253.50" y2="444.13" stroke="#0e0e0e" stroke-width="1.3"/>
<path d="M241.40,432.23 Q248.85,431.53 256.30,432.23" fill="none" stroke="#0e0e0e" stroke-width="0.9"/>
<line x1="244.20" y1="431.88" x2="253.50" y2="431.88" stroke="#0e0e0e" stroke-width="1.3"/>
<path d="M241.40,417.40 Q248.85,416.70 256.30,417.40" fill="none" stroke="#0e0e0e" stroke-width="0.9"/>
<line x1="244.20" y1="417.05" x2="253.50" y2="417.05" stroke="#0e0e0e" stroke-width="1.3"/>
<rect x="241.00" y="417.15" width="15.7" height="71.65" fill="none" stroke="#1a1a1a" stroke-width="0.8"/>
<line x1="248.85" y1="488.8" x2="248.85" y2="491.6" stroke="#1c1c1c" stroke-width="0.9"/>
<text x="248.85" y="500.00" font-size="5.8" fill="#333" text-anchor="middle" stroke="#333" stroke-width="0.22">0</text>
<rect x="259.40" y="486.65" width="15.7" height="2.15" fill="#a6a6a6"/>
<rect x="259.40" y="469.02" width="15.7" height="17.63" fill="#3aae3a"/>
<rect x="259.40" y="457.70" width="15.7" height="11.32" fill="#fdc20f"/>
<rect x="259.40" y="449.75" width="15.7" height="7.95" fill="#4d2669"/>
<rect x="259.40" y="437.21" width="15.7" height="12.54" fill="#e8097f"/>
<rect x="259.40" y="417.15" width="15.7" height="20.06" fill="#4d5b70"/>
<path d="M259.80,486.90 Q267.25,486.20 274.70,486.90" fill="none" stroke="#0e0e0e" stroke-width="0.9"/>
<line x1="262.60" y1="486.55" x2="271.90" y2="486.55" stroke="#0e0e0e" stroke-width="1.3"/>
<path d="M259.80,469.27 Q267.25,468.57 274.70,469.27" fill="none" stroke="#0e0e0e" stroke-width="0.9"/>
<line x1="262.60" y1="468.92" x2="271.90" y2="468.92" stroke="#0e0e0e" stroke-width="1.3"/>
<path d="M259.80,457.95 Q267.25,457.25 274.70,457.95" fill="none" stroke="#0e0e0e" stroke-width="0.9"/>
<line x1="262.60" y1="457.60" x2="271.90" y2="457.60" stroke="#0e0e0e" stroke-width="1.3"/>
<path d="M259.80,450.00 Q267.25,449.30 274.70,450.00" fill="none" stroke="#0e0e0e" stroke-width="0.9"/>
<line x1="262.60" y1="449.65" x2="271.90" y2="449.65" stroke="#0e0e0e" stroke-width="1.3"/>
<path d="M259.80,437.46 Q267.25,436.76 274.70,437.46" fill="none" stroke="#0e0e0e" stroke-width="0.9"/>
<line x1="262.60" y1="437.11" x2="271.90" y2="437.11" stroke="#0e0e0e" stroke-width="1.3"/>
<path d="M259.80,417.40 Q267.25,416.70 274.70,417.40" fill="none" stroke="#0e0e0e" stroke-width="0.9"/>
<line x1="262.60" y1="417.05" x2="271.90" y2="417.05" stroke="#0e0e0e" stroke-width="1.3"/>
<rect x="259.40" y="417.15" width="15.7" height="71.65" fill="none" stroke="#1a1a1a" stroke-width="0.8"/>
<line x1="267.25" y1="488.8" x2="267.25" y2="491.6" stroke="#1c1c1c" stroke-width="0.9"/>
<text x="267.25" y="500.00" font-size="5.8" fill="#333" text-anchor="middle" stroke="#333" stroke-width="0.22">0.25</text>
<rect x="277.80" y="488.30" width="15.7" height="0.50" fill="#a6a6a6"/>
<rect x="277.80" y="470.89" width="15.7" height="17.41" fill="#3aae3a"/>
<rect x="277.80" y="459.78" width="15.7" height="11.11" fill="#fdc20f"/>
<rect x="277.80" y="450.97" width="15.7" height="8.81" fill="#4d2669"/>
<rect x="277.80" y="438.43" width="15.7" height="12.54" fill="#e8097f"/>
<rect x="277.80" y="417.15" width="15.7" height="21.28" fill="#4d5b70"/>
<path d="M278.20,488.55 Q285.65,487.85 293.10,488.55" fill="none" stroke="#0e0e0e" stroke-width="0.9"/>
<line x1="281.00" y1="488.20" x2="290.30" y2="488.20" stroke="#0e0e0e" stroke-width="1.3"/>
<path d="M278.20,471.14 Q285.65,470.44 293.10,471.14" fill="none" stroke="#0e0e0e" stroke-width="0.9"/>
<line x1="281.00" y1="470.79" x2="290.30" y2="470.79" stroke="#0e0e0e" stroke-width="1.3"/>
<path d="M278.20,460.03 Q285.65,459.33 293.10,460.03" fill="none" stroke="#0e0e0e" stroke-width="0.9"/>
<line x1="281.00" y1="459.68" x2="290.30" y2="459.68" stroke="#0e0e0e" stroke-width="1.3"/>
<path d="M278.20,451.22 Q285.65,450.52 293.10,451.22" fill="none" stroke="#0e0e0e" stroke-width="0.9"/>
<line x1="281.00" y1="450.87" x2="290.30" y2="450.87" stroke="#0e0e0e" stroke-width="1.3"/>
<path d="M278.20,438.68 Q285.65,437.98 293.10,438.68" fill="none" stroke="#0e0e0e" stroke-width="0.9"/>
<line x1="281.00" y1="438.33" x2="290.30" y2="438.33" stroke="#0e0e0e" stroke-width="1.3"/>
<path d="M278.20,417.40 Q285.65,416.70 293.10,417.40" fill="none" stroke="#0e0e0e" stroke-width="0.9"/>
<line x1="281.00" y1="417.05" x2="290.30" y2="417.05" stroke="#0e0e0e" stroke-width="1.3"/>
<rect x="277.80" y="417.15" width="15.7" height="71.65" fill="none" stroke="#1a1a1a" stroke-width="0.8"/>
<line x1="285.65" y1="488.8" x2="285.65" y2="491.6" stroke="#1c1c1c" stroke-width="0.9"/>
<text x="285.65" y="500.00" font-size="5.8" fill="#333" text-anchor="middle" stroke="#333" stroke-width="0.22">1</text>
<rect x="296.20" y="488.66" width="15.7" height="0.14" fill="#a6a6a6"/>
<rect x="296.20" y="472.03" width="15.7" height="16.62" fill="#3aae3a"/>
<rect x="296.20" y="460.86" width="15.7" height="11.18" fill="#fdc20f"/>
<rect x="296.20" y="452.26" width="15.7" height="8.60" fill="#4d2669"/>
<rect x="296.20" y="438.43" width="15.7" height="13.83" fill="#e8097f"/>
<rect x="296.20" y="417.15" width="15.7" height="21.28" fill="#4d5b70"/>
<path d="M296.60,488.91 Q304.05,488.21 311.50,488.91" fill="none" stroke="#0e0e0e" stroke-width="0.9"/>
<line x1="299.40" y1="488.56" x2="308.70" y2="488.56" stroke="#0e0e0e" stroke-width="1.3"/>
<path d="M296.60,472.28 Q304.05,471.58 311.50,472.28" fill="none" stroke="#0e0e0e" stroke-width="0.9"/>
<line x1="299.40" y1="471.93" x2="308.70" y2="471.93" stroke="#0e0e0e" stroke-width="1.3"/>
<path d="M296.60,461.11 Q304.05,460.41 311.50,461.11" fill="none" stroke="#0e0e0e" stroke-width="0.9"/>
<line x1="299.40" y1="460.76" x2="308.70" y2="460.76" stroke="#0e0e0e" stroke-width="1.3"/>
<path d="M296.60,452.51 Q304.05,451.81 311.50,452.51" fill="none" stroke="#0e0e0e" stroke-width="0.9"/>
<line x1="299.40" y1="452.16" x2="308.70" y2="452.16" stroke="#0e0e0e" stroke-width="1.3"/>
<path d="M296.60,438.68 Q304.05,437.98 311.50,438.68" fill="none" stroke="#0e0e0e" stroke-width="0.9"/>
<line x1="299.40" y1="438.33" x2="308.70" y2="438.33" stroke="#0e0e0e" stroke-width="1.3"/>
<path d="M296.60,417.40 Q304.05,416.70 311.50,417.40" fill="none" stroke="#0e0e0e" stroke-width="0.9"/>
<line x1="299.40" y1="417.05" x2="308.70" y2="417.05" stroke="#0e0e0e" stroke-width="1.3"/>
<rect x="296.20" y="417.15" width="15.7" height="71.65" fill="none" stroke="#1a1a1a" stroke-width="0.8"/>
<line x1="304.05" y1="488.8" x2="304.05" y2="491.6" stroke="#1c1c1c" stroke-width="0.9"/>
<text x="304.05" y="500.00" font-size="5.8" fill="#333" text-anchor="middle" stroke="#333" stroke-width="0.22">4</text>
<text x="276.80" y="404.50" font-size="8.0" fill="#267d69" text-anchor="middle" stroke="#267d69" stroke-width="0.2">+ Allo-T<tspan dy="-2.3" font-size="4.1">EMC7</tspan></text>
<path d="M324.7,414.15 L324.7,488.8 L401.1,488.8" fill="none" stroke="#1c1c1c" stroke-width="1.15"/>
<line x1="321.5" y1="488.80" x2="324.7" y2="488.80" stroke="#1c1c1c" stroke-width="1.1"/>
<line x1="321.5" y1="470.89" x2="324.7" y2="470.89" stroke="#1c1c1c" stroke-width="1.1"/>
<line x1="321.5" y1="452.98" x2="324.7" y2="452.98" stroke="#1c1c1c" stroke-width="1.1"/>
<line x1="321.5" y1="435.06" x2="324.7" y2="435.06" stroke="#1c1c1c" stroke-width="1.1"/>
<line x1="321.5" y1="417.15" x2="324.7" y2="417.15" stroke="#1c1c1c" stroke-width="1.1"/>
<rect x="327.10" y="477.19" width="15.7" height="11.61" fill="#a6a6a6"/>
<rect x="327.10" y="461.93" width="15.7" height="15.26" fill="#3aae3a"/>
<rect x="327.10" y="452.76" width="15.7" height="9.17" fill="#fdc20f"/>
<rect x="327.10" y="444.23" width="15.7" height="8.53" fill="#4d2669"/>
<rect x="327.10" y="431.98" width="15.7" height="12.25" fill="#e8097f"/>
<rect x="327.10" y="417.15" width="15.7" height="14.83" fill="#4d5b70"/>
<path d="M327.50,477.44 Q334.95,476.74 342.40,477.44" fill="none" stroke="#0e0e0e" stroke-width="0.9"/>
<line x1="330.30" y1="477.09" x2="339.60" y2="477.09" stroke="#0e0e0e" stroke-width="1.3"/>
<path d="M327.50,462.18 Q334.95,461.48 342.40,462.18" fill="none" stroke="#0e0e0e" stroke-width="0.9"/>
<line x1="330.30" y1="461.83" x2="339.60" y2="461.83" stroke="#0e0e0e" stroke-width="1.3"/>
<path d="M327.50,453.01 Q334.95,452.31 342.40,453.01" fill="none" stroke="#0e0e0e" stroke-width="0.9"/>
<line x1="330.30" y1="452.66" x2="339.60" y2="452.66" stroke="#0e0e0e" stroke-width="1.3"/>
<path d="M327.50,444.48 Q334.95,443.78 342.40,444.48" fill="none" stroke="#0e0e0e" stroke-width="0.9"/>
<line x1="330.30" y1="444.13" x2="339.60" y2="444.13" stroke="#0e0e0e" stroke-width="1.3"/>
<path d="M327.50,432.23 Q334.95,431.53 342.40,432.23" fill="none" stroke="#0e0e0e" stroke-width="0.9"/>
<line x1="330.30" y1="431.88" x2="339.60" y2="431.88" stroke="#0e0e0e" stroke-width="1.3"/>
<path d="M327.50,417.40 Q334.95,416.70 342.40,417.40" fill="none" stroke="#0e0e0e" stroke-width="0.9"/>
<line x1="330.30" y1="417.05" x2="339.60" y2="417.05" stroke="#0e0e0e" stroke-width="1.3"/>
<rect x="327.10" y="417.15" width="15.7" height="71.65" fill="none" stroke="#1a1a1a" stroke-width="0.8"/>
<line x1="334.95" y1="488.8" x2="334.95" y2="491.6" stroke="#1c1c1c" stroke-width="0.9"/>
<text x="334.95" y="500.00" font-size="5.8" fill="#333" text-anchor="middle" stroke="#333" stroke-width="0.22">0</text>
<rect x="345.50" y="479.56" width="15.7" height="9.24" fill="#a6a6a6"/>
<rect x="345.50" y="466.59" width="15.7" height="12.97" fill="#3aae3a"/>
<rect x="345.50" y="458.28" width="15.7" height="8.31" fill="#fdc20f"/>
<rect x="345.50" y="450.97" width="15.7" height="7.31" fill="#4d2669"/>
<rect x="345.50" y="435.78" width="15.7" height="15.19" fill="#e8097f"/>
<rect x="345.50" y="417.15" width="15.7" height="18.63" fill="#4d5b70"/>
<path d="M345.90,479.81 Q353.35,479.11 360.80,479.81" fill="none" stroke="#0e0e0e" stroke-width="0.9"/>
<line x1="348.70" y1="479.46" x2="358.00" y2="479.46" stroke="#0e0e0e" stroke-width="1.3"/>
<path d="M345.90,466.84 Q353.35,466.14 360.80,466.84" fill="none" stroke="#0e0e0e" stroke-width="0.9"/>
<line x1="348.70" y1="466.49" x2="358.00" y2="466.49" stroke="#0e0e0e" stroke-width="1.3"/>
<path d="M345.90,458.53 Q353.35,457.83 360.80,458.53" fill="none" stroke="#0e0e0e" stroke-width="0.9"/>
<line x1="348.70" y1="458.18" x2="358.00" y2="458.18" stroke="#0e0e0e" stroke-width="1.3"/>
<path d="M345.90,451.22 Q353.35,450.52 360.80,451.22" fill="none" stroke="#0e0e0e" stroke-width="0.9"/>
<line x1="348.70" y1="450.87" x2="358.00" y2="450.87" stroke="#0e0e0e" stroke-width="1.3"/>
<path d="M345.90,436.03 Q353.35,435.33 360.80,436.03" fill="none" stroke="#0e0e0e" stroke-width="0.9"/>
<line x1="348.70" y1="435.68" x2="358.00" y2="435.68" stroke="#0e0e0e" stroke-width="1.3"/>
<path d="M345.90,417.40 Q353.35,416.70 360.80,417.40" fill="none" stroke="#0e0e0e" stroke-width="0.9"/>
<line x1="348.70" y1="417.05" x2="358.00" y2="417.05" stroke="#0e0e0e" stroke-width="1.3"/>
<rect x="345.50" y="417.15" width="15.7" height="71.65" fill="none" stroke="#1a1a1a" stroke-width="0.8"/>
<line x1="353.35" y1="488.8" x2="353.35" y2="491.6" stroke="#1c1c1c" stroke-width="0.9"/>
<text x="353.35" y="500.00" font-size="5.8" fill="#333" text-anchor="middle" stroke="#333" stroke-width="0.22">.063</text>
<rect x="363.90" y="480.27" width="15.7" height="8.53" fill="#a6a6a6"/>
<rect x="363.90" y="472.75" width="15.7" height="7.52" fill="#3aae3a"/>
<rect x="363.90" y="467.31" width="15.7" height="5.45" fill="#fdc20f"/>
<rect x="363.90" y="461.72" width="15.7" height="5.59" fill="#4d2669"/>
<rect x="363.90" y="434.42" width="15.7" height="27.30" fill="#e8097f"/>
<rect x="363.90" y="417.15" width="15.7" height="17.27" fill="#4d5b70"/>
<path d="M364.30,480.52 Q371.75,479.82 379.20,480.52" fill="none" stroke="#0e0e0e" stroke-width="0.9"/>
<line x1="367.10" y1="480.17" x2="376.40" y2="480.17" stroke="#0e0e0e" stroke-width="1.3"/>
<path d="M364.30,473.00 Q371.75,472.30 379.20,473.00" fill="none" stroke="#0e0e0e" stroke-width="0.9"/>
<line x1="367.10" y1="472.65" x2="376.40" y2="472.65" stroke="#0e0e0e" stroke-width="1.3"/>
<path d="M364.30,467.56 Q371.75,466.86 379.20,467.56" fill="none" stroke="#0e0e0e" stroke-width="0.9"/>
<line x1="367.10" y1="467.20" x2="376.40" y2="467.20" stroke="#0e0e0e" stroke-width="1.3"/>
<path d="M364.30,461.97 Q371.75,461.27 379.20,461.97" fill="none" stroke="#0e0e0e" stroke-width="0.9"/>
<line x1="367.10" y1="461.62" x2="376.40" y2="461.62" stroke="#0e0e0e" stroke-width="1.3"/>
<path d="M364.30,434.67 Q371.75,433.97 379.20,434.67" fill="none" stroke="#0e0e0e" stroke-width="0.9"/>
<line x1="367.10" y1="434.32" x2="376.40" y2="434.32" stroke="#0e0e0e" stroke-width="1.3"/>
<path d="M364.30,417.40 Q371.75,416.70 379.20,417.40" fill="none" stroke="#0e0e0e" stroke-width="0.9"/>
<line x1="367.10" y1="417.05" x2="376.40" y2="417.05" stroke="#0e0e0e" stroke-width="1.3"/>
<rect x="363.90" y="417.15" width="15.7" height="71.65" fill="none" stroke="#1a1a1a" stroke-width="0.8"/>
<line x1="371.75" y1="488.8" x2="371.75" y2="491.6" stroke="#1c1c1c" stroke-width="0.9"/>
<text x="371.75" y="500.00" font-size="5.8" fill="#333" text-anchor="middle" stroke="#333" stroke-width="0.22">.25</text>
<rect x="382.30" y="482.78" width="15.7" height="6.02" fill="#a6a6a6"/>
<rect x="382.30" y="479.06" width="15.7" height="3.73" fill="#3aae3a"/>
<rect x="382.30" y="478.77" width="15.7" height="0.29" fill="#fdc20f"/>
<rect x="382.30" y="475.19" width="15.7" height="3.58" fill="#4d2669"/>
<rect x="382.30" y="423.38" width="15.7" height="51.80" fill="#e8097f"/>
<rect x="382.30" y="417.15" width="15.7" height="6.23" fill="#4d5b70"/>
<path d="M382.70,483.03 Q390.15,482.33 397.60,483.03" fill="none" stroke="#0e0e0e" stroke-width="0.9"/>
<line x1="385.50" y1="482.68" x2="394.80" y2="482.68" stroke="#0e0e0e" stroke-width="1.3"/>
<path d="M382.70,479.31 Q390.15,478.61 397.60,479.31" fill="none" stroke="#0e0e0e" stroke-width="0.9"/>
<line x1="385.50" y1="478.96" x2="394.80" y2="478.96" stroke="#0e0e0e" stroke-width="1.3"/>
<path d="M382.70,479.02 Q390.15,478.32 397.60,479.02" fill="none" stroke="#0e0e0e" stroke-width="0.9"/>
<line x1="385.50" y1="478.67" x2="394.80" y2="478.67" stroke="#0e0e0e" stroke-width="1.3"/>
<path d="M382.70,475.44 Q390.15,474.74 397.60,475.44" fill="none" stroke="#0e0e0e" stroke-width="0.9"/>
<line x1="385.50" y1="475.09" x2="394.80" y2="475.09" stroke="#0e0e0e" stroke-width="1.3"/>
<path d="M382.70,423.63 Q390.15,422.93 397.60,423.63" fill="none" stroke="#0e0e0e" stroke-width="0.9"/>
<line x1="385.50" y1="423.28" x2="394.80" y2="423.28" stroke="#0e0e0e" stroke-width="1.3"/>
<path d="M382.70,417.40 Q390.15,416.70 397.60,417.40" fill="none" stroke="#0e0e0e" stroke-width="0.9"/>
<line x1="385.50" y1="417.05" x2="394.80" y2="417.05" stroke="#0e0e0e" stroke-width="1.3"/>
<rect x="382.30" y="417.15" width="15.7" height="71.65" fill="none" stroke="#1a1a1a" stroke-width="0.8"/>
<line x1="390.15" y1="488.8" x2="390.15" y2="491.6" stroke="#1c1c1c" stroke-width="0.9"/>
<text x="390.15" y="500.00" font-size="5.8" fill="#333" text-anchor="middle" stroke="#333" stroke-width="0.22">1</text>
<text x="362.90" y="398.90" font-size="8.0" fill="#f5a623" text-anchor="middle" stroke="#f5a623" stroke-width="0.2">+ NK Donor 7</text>
<text x="362.90" y="408.20" font-size="8.0" fill="#267d69" text-anchor="middle" stroke="#267d69" stroke-width="0.2">+ Allo-T<tspan dy="-2.3" font-size="4.1">EMC7</tspan></text>
<path d="M409.3,414.15 L409.3,488.8 L485.70000000000005,488.8" fill="none" stroke="#1c1c1c" stroke-width="1.15"/>
<line x1="406.1" y1="488.80" x2="409.3" y2="488.80" stroke="#1c1c1c" stroke-width="1.1"/>
<line x1="406.1" y1="470.89" x2="409.3" y2="470.89" stroke="#1c1c1c" stroke-width="1.1"/>
<line x1="406.1" y1="452.98" x2="409.3" y2="452.98" stroke="#1c1c1c" stroke-width="1.1"/>
<line x1="406.1" y1="435.06" x2="409.3" y2="435.06" stroke="#1c1c1c" stroke-width="1.1"/>
<line x1="406.1" y1="417.15" x2="409.3" y2="417.15" stroke="#1c1c1c" stroke-width="1.1"/>
<rect x="411.70" y="477.19" width="15.7" height="11.61" fill="#a6a6a6"/>
<rect x="411.70" y="461.93" width="15.7" height="15.26" fill="#3aae3a"/>
<rect x="411.70" y="452.76" width="15.7" height="9.17" fill="#fdc20f"/>
<rect x="411.70" y="444.23" width="15.7" height="8.53" fill="#4d2669"/>
<rect x="411.70" y="431.98" width="15.7" height="12.25" fill="#e8097f"/>
<rect x="411.70" y="417.15" width="15.7" height="14.83" fill="#4d5b70"/>
<path d="M412.10,477.44 Q419.55,476.74 427.00,477.44" fill="none" stroke="#0e0e0e" stroke-width="0.9"/>
<line x1="414.90" y1="477.09" x2="424.20" y2="477.09" stroke="#0e0e0e" stroke-width="1.3"/>
<path d="M412.10,462.18 Q419.55,461.48 427.00,462.18" fill="none" stroke="#0e0e0e" stroke-width="0.9"/>
<line x1="414.90" y1="461.83" x2="424.20" y2="461.83" stroke="#0e0e0e" stroke-width="1.3"/>
<path d="M412.10,453.01 Q419.55,452.31 427.00,453.01" fill="none" stroke="#0e0e0e" stroke-width="0.9"/>
<line x1="414.90" y1="452.66" x2="424.20" y2="452.66" stroke="#0e0e0e" stroke-width="1.3"/>
<path d="M412.10,444.48 Q419.55,443.78 427.00,444.48" fill="none" stroke="#0e0e0e" stroke-width="0.9"/>
<line x1="414.90" y1="444.13" x2="424.20" y2="444.13" stroke="#0e0e0e" stroke-width="1.3"/>
<path d="M412.10,432.23 Q419.55,431.53 427.00,432.23" fill="none" stroke="#0e0e0e" stroke-width="0.9"/>
<line x1="414.90" y1="431.88" x2="424.20" y2="431.88" stroke="#0e0e0e" stroke-width="1.3"/>
<path d="M412.10,417.40 Q419.55,416.70 427.00,417.40" fill="none" stroke="#0e0e0e" stroke-width="0.9"/>
<line x1="414.90" y1="417.05" x2="424.20" y2="417.05" stroke="#0e0e0e" stroke-width="1.3"/>
<rect x="411.70" y="417.15" width="15.7" height="71.65" fill="none" stroke="#1a1a1a" stroke-width="0.8"/>
<line x1="419.55" y1="488.8" x2="419.55" y2="491.6" stroke="#1c1c1c" stroke-width="0.9"/>
<text x="419.55" y="500.00" font-size="5.8" fill="#333" text-anchor="middle" stroke="#333" stroke-width="0.22">0</text>
<rect x="430.10" y="475.26" width="15.7" height="13.54" fill="#a6a6a6"/>
<rect x="430.10" y="463.51" width="15.7" height="11.75" fill="#3aae3a"/>
<rect x="430.10" y="455.70" width="15.7" height="7.81" fill="#fdc20f"/>
<rect x="430.10" y="448.46" width="15.7" height="7.24" fill="#4d2669"/>
<rect x="430.10" y="433.41" width="15.7" height="15.05" fill="#e8097f"/>
<rect x="430.10" y="417.15" width="15.7" height="16.26" fill="#4d5b70"/>
<path d="M430.50,475.51 Q437.95,474.81 445.40,475.51" fill="none" stroke="#0e0e0e" stroke-width="0.9"/>
<line x1="433.30" y1="475.16" x2="442.60" y2="475.16" stroke="#0e0e0e" stroke-width="1.3"/>
<path d="M430.50,463.76 Q437.95,463.06 445.40,463.76" fill="none" stroke="#0e0e0e" stroke-width="0.9"/>
<line x1="433.30" y1="463.41" x2="442.60" y2="463.41" stroke="#0e0e0e" stroke-width="1.3"/>
<path d="M430.50,455.95 Q437.95,455.25 445.40,455.95" fill="none" stroke="#0e0e0e" stroke-width="0.9"/>
<line x1="433.30" y1="455.60" x2="442.60" y2="455.60" stroke="#0e0e0e" stroke-width="1.3"/>
<path d="M430.50,448.71 Q437.95,448.01 445.40,448.71" fill="none" stroke="#0e0e0e" stroke-width="0.9"/>
<line x1="433.30" y1="448.36" x2="442.60" y2="448.36" stroke="#0e0e0e" stroke-width="1.3"/>
<path d="M430.50,433.66 Q437.95,432.96 445.40,433.66" fill="none" stroke="#0e0e0e" stroke-width="0.9"/>
<line x1="433.30" y1="433.31" x2="442.60" y2="433.31" stroke="#0e0e0e" stroke-width="1.3"/>
<path d="M430.50,417.40 Q437.95,416.70 445.40,417.40" fill="none" stroke="#0e0e0e" stroke-width="0.9"/>
<line x1="433.30" y1="417.05" x2="442.60" y2="417.05" stroke="#0e0e0e" stroke-width="1.3"/>
<rect x="430.10" y="417.15" width="15.7" height="71.65" fill="none" stroke="#1a1a1a" stroke-width="0.8"/>
<line x1="437.95" y1="488.8" x2="437.95" y2="491.6" stroke="#1c1c1c" stroke-width="0.9"/>
<text x="437.95" y="500.00" font-size="5.8" fill="#333" text-anchor="middle" stroke="#333" stroke-width="0.22">.063</text>
<rect x="448.50" y="470.24" width="15.7" height="18.56" fill="#a6a6a6"/>
<rect x="448.50" y="463.22" width="15.7" height="7.02" fill="#3aae3a"/>
<rect x="448.50" y="458.21" width="15.7" height="5.02" fill="#fdc20f"/>
<rect x="448.50" y="452.76" width="15.7" height="5.45" fill="#4d2669"/>
<rect x="448.50" y="431.48" width="15.7" height="21.28" fill="#e8097f"/>
<rect x="448.50" y="417.15" width="15.7" height="14.33" fill="#4d5b70"/>
<path d="M448.90,470.49 Q456.35,469.79 463.80,470.49" fill="none" stroke="#0e0e0e" stroke-width="0.9"/>
<line x1="451.70" y1="470.14" x2="461.00" y2="470.14" stroke="#0e0e0e" stroke-width="1.3"/>
<path d="M448.90,463.47 Q456.35,462.77 463.80,463.47" fill="none" stroke="#0e0e0e" stroke-width="0.9"/>
<line x1="451.70" y1="463.12" x2="461.00" y2="463.12" stroke="#0e0e0e" stroke-width="1.3"/>
<path d="M448.90,458.46 Q456.35,457.76 463.80,458.46" fill="none" stroke="#0e0e0e" stroke-width="0.9"/>
<line x1="451.70" y1="458.11" x2="461.00" y2="458.11" stroke="#0e0e0e" stroke-width="1.3"/>
<path d="M448.90,453.01 Q456.35,452.31 463.80,453.01" fill="none" stroke="#0e0e0e" stroke-width="0.9"/>
<line x1="451.70" y1="452.66" x2="461.00" y2="452.66" stroke="#0e0e0e" stroke-width="1.3"/>
<path d="M448.90,431.73 Q456.35,431.03 463.80,431.73" fill="none" stroke="#0e0e0e" stroke-width="0.9"/>
<line x1="451.70" y1="431.38" x2="461.00" y2="431.38" stroke="#0e0e0e" stroke-width="1.3"/>
<path d="M448.90,417.40 Q456.35,416.70 463.80,417.40" fill="none" stroke="#0e0e0e" stroke-width="0.9"/>
<line x1="451.70" y1="417.05" x2="461.00" y2="417.05" stroke="#0e0e0e" stroke-width="1.3"/>
<rect x="448.50" y="417.15" width="15.7" height="71.65" fill="none" stroke="#1a1a1a" stroke-width="0.8"/>
<line x1="456.35" y1="488.8" x2="456.35" y2="491.6" stroke="#1c1c1c" stroke-width="0.9"/>
<text x="456.35" y="500.00" font-size="5.8" fill="#333" text-anchor="middle" stroke="#333" stroke-width="0.22">.25</text>
<rect x="466.90" y="471.53" width="15.7" height="17.27" fill="#a6a6a6"/>
<rect x="466.90" y="469.02" width="15.7" height="2.51" fill="#3aae3a"/>
<rect x="466.90" y="468.74" width="15.7" height="0.29" fill="#fdc20f"/>
<rect x="466.90" y="465.23" width="15.7" height="3.51" fill="#4d2669"/>
<rect x="466.90" y="423.89" width="15.7" height="41.34" fill="#e8097f"/>
<rect x="466.90" y="417.15" width="15.7" height="6.74" fill="#4d5b70"/>
<path d="M467.30,471.78 Q474.75,471.08 482.20,471.78" fill="none" stroke="#0e0e0e" stroke-width="0.9"/>
<line x1="470.10" y1="471.43" x2="479.40" y2="471.43" stroke="#0e0e0e" stroke-width="1.3"/>
<path d="M467.30,469.27 Q474.75,468.57 482.20,469.27" fill="none" stroke="#0e0e0e" stroke-width="0.9"/>
<line x1="470.10" y1="468.92" x2="479.40" y2="468.92" stroke="#0e0e0e" stroke-width="1.3"/>
<path d="M467.30,468.99 Q474.75,468.29 482.20,468.99" fill="none" stroke="#0e0e0e" stroke-width="0.9"/>
<line x1="470.10" y1="468.64" x2="479.40" y2="468.64" stroke="#0e0e0e" stroke-width="1.3"/>
<path d="M467.30,465.48 Q474.75,464.78 482.20,465.48" fill="none" stroke="#0e0e0e" stroke-width="0.9"/>
<line x1="470.10" y1="465.13" x2="479.40" y2="465.13" stroke="#0e0e0e" stroke-width="1.3"/>
<path d="M467.30,424.14 Q474.75,423.44 482.20,424.14" fill="none" stroke="#0e0e0e" stroke-width="0.9"/>
<line x1="470.10" y1="423.79" x2="479.40" y2="423.79" stroke="#0e0e0e" stroke-width="1.3"/>
<path d="M467.30,417.40 Q474.75,416.70 482.20,417.40" fill="none" stroke="#0e0e0e" stroke-width="0.9"/>
<line x1="470.10" y1="417.05" x2="479.40" y2="417.05" stroke="#0e0e0e" stroke-width="1.3"/>
<rect x="466.90" y="417.15" width="15.7" height="71.65" fill="none" stroke="#1a1a1a" stroke-width="0.8"/>
<line x1="474.75" y1="488.8" x2="474.75" y2="491.6" stroke="#1c1c1c" stroke-width="0.9"/>
<text x="474.75" y="500.00" font-size="5.8" fill="#333" text-anchor="middle" stroke="#333" stroke-width="0.22">1</text>
<text x="447.50" y="398.90" font-size="8.0" fill="#f5a623" text-anchor="middle" stroke="#f5a623" stroke-width="0.2">+ NK Donor 7</text>
<text x="447.50" y="408.20" font-size="8.0" fill="#267d69" text-anchor="middle" stroke="#267d69" stroke-width="0.2">+ Allo-T<tspan dy="-2.3" font-size="4.1">HA-2</tspan></text>
<path d="M474.75,416.15 L474.75,422.75 M471.55,416.15 L477.95,416.15 M471.15,420.15 L478.35,420.15" fill="none" stroke="#141414" stroke-width="0.8"/>
<text x="0.00" y="0.00" font-size="7.0" fill="#222" text-anchor="middle" transform="translate(132.20,394.30) rotate(-90) scale(0.85,1)" stroke="#222" stroke-width="0.28">T cell frequency (%)</text>
<text x="0.00" y="0.00" font-size="7.0" fill="#222" text-anchor="middle" transform="translate(319.40,510.60) scale(0.8,1)" stroke="#1c1c1c" stroke-width="0.4">E:T ratio</text>
<rect x="0.5" y="0.5" width="519" height="519" fill="none" stroke="#666" stroke-width="1"/>
</svg>
</body></html>
